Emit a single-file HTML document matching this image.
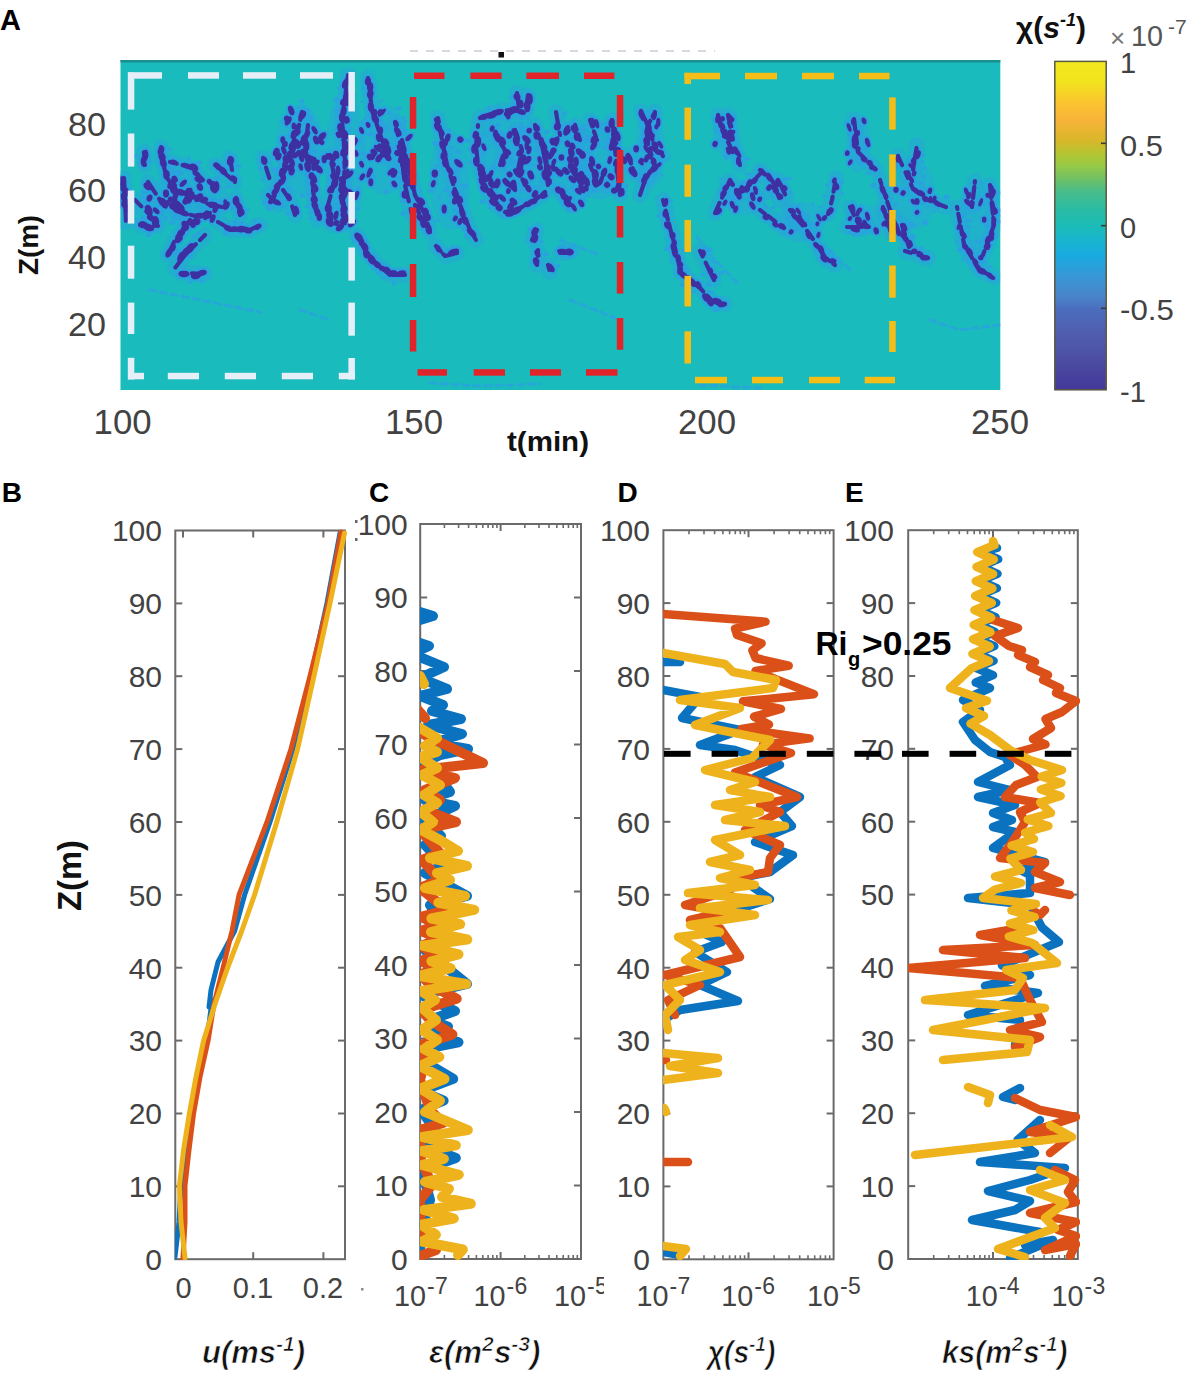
<!DOCTYPE html>
<html><head><meta charset="utf-8"><style>html,body{margin:0;padding:0;background:#fff;width:1197px;height:1376px;overflow:hidden;position:relative}</style></head><body>
<svg width="1197" height="1376" viewBox="0 0 1197 1376" style="position:absolute;left:0;top:0;font-family:'Liberation Sans', sans-serif">
<rect x="0" y="0" width="1197" height="1376" fill="#ffffff"/>
<rect x="120.5" y="60" width="879.8" height="330" fill="#1abbbc"/>
<rect x="120.5" y="60" width="879.8" height="2.5" fill="#1a8f8f"/>
<defs><clipPath id="clA"><rect x="120.5" y="62" width="879.8" height="328"/></clipPath></defs><g clip-path="url(#clA)"><ellipse cx="185" cy="200" rx="45" ry="25" fill="#2aa2e0" fill-opacity="0.4"/>
<ellipse cx="300" cy="150" rx="25" ry="45" fill="#2aa2e0" fill-opacity="0.4"/>
<ellipse cx="345" cy="160" rx="20" ry="70" fill="#2aa2e0" fill-opacity="0.4"/>
<ellipse cx="385" cy="150" rx="25" ry="45" fill="#2aa2e0" fill-opacity="0.4"/>
<ellipse cx="450" cy="180" rx="20" ry="50" fill="#2aa2e0" fill-opacity="0.4"/>
<ellipse cx="510" cy="160" rx="35" ry="50" fill="#2aa2e0" fill-opacity="0.4"/>
<ellipse cx="570" cy="165" rx="22" ry="45" fill="#2aa2e0" fill-opacity="0.4"/>
<ellipse cx="600" cy="160" rx="25" ry="40" fill="#2aa2e0" fill-opacity="0.4"/>
<ellipse cx="650" cy="150" rx="15" ry="40" fill="#2aa2e0" fill-opacity="0.4"/>
<ellipse cx="725" cy="135" rx="12" ry="22" fill="#2aa2e0" fill-opacity="0.4"/>
<ellipse cx="745" cy="200" rx="22" ry="15" fill="#2aa2e0" fill-opacity="0.4"/>
<ellipse cx="800" cy="222" rx="25" ry="20" fill="#2aa2e0" fill-opacity="0.4"/>
<ellipse cx="858" cy="145" rx="12" ry="28" fill="#2aa2e0" fill-opacity="0.4"/>
<ellipse cx="865" cy="220" rx="20" ry="15" fill="#2aa2e0" fill-opacity="0.4"/>
<ellipse cx="915" cy="195" rx="20" ry="35" fill="#2aa2e0" fill-opacity="0.4"/>
<ellipse cx="975" cy="225" rx="18" ry="45" fill="#2aa2e0" fill-opacity="0.4"/>
<polyline points="161.0,147.0 162.0,160.0 167.0,178.0 178.0,192.0 195.0,197.0 210.0,205.0 222.0,207.0" fill="none" stroke="#2aa2e0" stroke-width="16" stroke-opacity="0.42" stroke-linecap="round" stroke-linejoin="round"/>
<polyline points="170.0,162.0 190.0,167.0 203.0,180.0" fill="none" stroke="#2aa2e0" stroke-width="16" stroke-opacity="0.42" stroke-linecap="round" stroke-linejoin="round"/>
<polyline points="148.0,182.0 160.0,200.0 180.0,212.0 195.0,216.0 210.0,213.0" fill="none" stroke="#2aa2e0" stroke-width="16" stroke-opacity="0.42" stroke-linecap="round" stroke-linejoin="round"/>
<polyline points="190.0,220.0 175.0,240.0 168.0,255.0" fill="none" stroke="#2aa2e0" stroke-width="16" stroke-opacity="0.42" stroke-linecap="round" stroke-linejoin="round"/>
<polyline points="205.0,235.0 185.0,255.0 175.0,268.0" fill="none" stroke="#2aa2e0" stroke-width="16" stroke-opacity="0.42" stroke-linecap="round" stroke-linejoin="round"/>
<polyline points="181.0,273.0 205.0,274.0" fill="none" stroke="#2aa2e0" stroke-width="16" stroke-opacity="0.42" stroke-linecap="round" stroke-linejoin="round"/>
<polyline points="124.0,178.0 125.0,200.0 126.0,222.0" fill="none" stroke="#2aa2e0" stroke-width="16" stroke-opacity="0.42" stroke-linecap="round" stroke-linejoin="round"/>
<polyline points="144.0,152.0 145.0,165.0" fill="none" stroke="#2aa2e0" stroke-width="16" stroke-opacity="0.42" stroke-linecap="round" stroke-linejoin="round"/>
<polyline points="135.0,200.0 150.0,215.0 155.0,225.0" fill="none" stroke="#2aa2e0" stroke-width="16" stroke-opacity="0.42" stroke-linecap="round" stroke-linejoin="round"/>
<polyline points="140.0,225.0 158.0,226.0" fill="none" stroke="#2aa2e0" stroke-width="16" stroke-opacity="0.42" stroke-linecap="round" stroke-linejoin="round"/>
<polyline points="215.0,165.0 235.0,182.0" fill="none" stroke="#2aa2e0" stroke-width="16" stroke-opacity="0.42" stroke-linecap="round" stroke-linejoin="round"/>
<polyline points="230.0,158.0 232.0,170.0" fill="none" stroke="#2aa2e0" stroke-width="16" stroke-opacity="0.42" stroke-linecap="round" stroke-linejoin="round"/>
<polyline points="218.0,222.0 232.0,230.0 250.0,230.0 260.0,225.0" fill="none" stroke="#2aa2e0" stroke-width="16" stroke-opacity="0.42" stroke-linecap="round" stroke-linejoin="round"/>
<polyline points="236.0,198.0 240.0,215.0" fill="none" stroke="#2aa2e0" stroke-width="16" stroke-opacity="0.42" stroke-linecap="round" stroke-linejoin="round"/>
<polyline points="263.0,158.0 270.0,180.0" fill="none" stroke="#2aa2e0" stroke-width="16" stroke-opacity="0.42" stroke-linecap="round" stroke-linejoin="round"/>
<polyline points="268.0,195.0 278.0,205.0" fill="none" stroke="#2aa2e0" stroke-width="16" stroke-opacity="0.42" stroke-linecap="round" stroke-linejoin="round"/>
<polyline points="302.0,112.0 298.0,130.0 290.0,150.0 285.0,170.0 275.0,195.0 270.0,202.0" fill="none" stroke="#2aa2e0" stroke-width="16" stroke-opacity="0.42" stroke-linecap="round" stroke-linejoin="round"/>
<polyline points="308.0,125.0 305.0,150.0 310.0,170.0" fill="none" stroke="#2aa2e0" stroke-width="16" stroke-opacity="0.42" stroke-linecap="round" stroke-linejoin="round"/>
<polyline points="315.0,155.0 312.0,185.0 318.0,220.0" fill="none" stroke="#2aa2e0" stroke-width="16" stroke-opacity="0.42" stroke-linecap="round" stroke-linejoin="round"/>
<polyline points="330.0,155.0 335.0,180.0 328.0,205.0 332.0,225.0" fill="none" stroke="#2aa2e0" stroke-width="16" stroke-opacity="0.42" stroke-linecap="round" stroke-linejoin="round"/>
<polyline points="348.0,75.0 342.0,120.0 345.0,160.0 343.0,200.0 345.0,225.0" fill="none" stroke="#2aa2e0" stroke-width="16" stroke-opacity="0.42" stroke-linecap="round" stroke-linejoin="round"/>
<polyline points="368.0,78.0 372.0,110.0 382.0,140.0 390.0,160.0" fill="none" stroke="#2aa2e0" stroke-width="16" stroke-opacity="0.42" stroke-linecap="round" stroke-linejoin="round"/>
<polyline points="395.0,122.0 398.0,135.0" fill="none" stroke="#2aa2e0" stroke-width="16" stroke-opacity="0.42" stroke-linecap="round" stroke-linejoin="round"/>
<polyline points="400.0,145.0 405.0,185.0 412.0,215.0" fill="none" stroke="#2aa2e0" stroke-width="16" stroke-opacity="0.42" stroke-linecap="round" stroke-linejoin="round"/>
<polyline points="415.0,205.0 425.0,225.0" fill="none" stroke="#2aa2e0" stroke-width="16" stroke-opacity="0.42" stroke-linecap="round" stroke-linejoin="round"/>
<polyline points="357.0,235.0 365.0,250.0 375.0,262.0 390.0,275.0 405.0,275.0" fill="none" stroke="#2aa2e0" stroke-width="16" stroke-opacity="0.42" stroke-linecap="round" stroke-linejoin="round"/>
<polyline points="283.0,190.0 290.0,200.0 295.0,215.0" fill="none" stroke="#2aa2e0" stroke-width="16" stroke-opacity="0.42" stroke-linecap="round" stroke-linejoin="round"/>
<polyline points="480.0,118.0 495.0,112.0 510.0,110.0 525.0,112.0" fill="none" stroke="#2aa2e0" stroke-width="16" stroke-opacity="0.42" stroke-linecap="round" stroke-linejoin="round"/>
<polyline points="478.0,125.0 476.0,145.0 478.0,165.0 485.0,185.0 492.0,200.0 502.0,210.0" fill="none" stroke="#2aa2e0" stroke-width="16" stroke-opacity="0.42" stroke-linecap="round" stroke-linejoin="round"/>
<polyline points="505.0,212.0 520.0,208.0 535.0,200.0 545.0,192.0" fill="none" stroke="#2aa2e0" stroke-width="16" stroke-opacity="0.42" stroke-linecap="round" stroke-linejoin="round"/>
<polyline points="535.0,125.0 542.0,145.0 546.0,165.0 548.0,185.0" fill="none" stroke="#2aa2e0" stroke-width="16" stroke-opacity="0.42" stroke-linecap="round" stroke-linejoin="round"/>
<polyline points="495.0,135.0 505.0,150.0 500.0,165.0" fill="none" stroke="#2aa2e0" stroke-width="16" stroke-opacity="0.42" stroke-linecap="round" stroke-linejoin="round"/>
<polyline points="515.0,130.0 522.0,150.0 518.0,170.0 525.0,185.0" fill="none" stroke="#2aa2e0" stroke-width="16" stroke-opacity="0.42" stroke-linecap="round" stroke-linejoin="round"/>
<polyline points="505.0,180.0 515.0,190.0" fill="none" stroke="#2aa2e0" stroke-width="16" stroke-opacity="0.42" stroke-linecap="round" stroke-linejoin="round"/>
<polyline points="517.0,93.0 519.0,108.0" fill="none" stroke="#2aa2e0" stroke-width="16" stroke-opacity="0.42" stroke-linecap="round" stroke-linejoin="round"/>
<polyline points="528.0,95.0 526.0,110.0" fill="none" stroke="#2aa2e0" stroke-width="16" stroke-opacity="0.42" stroke-linecap="round" stroke-linejoin="round"/>
<polyline points="438.0,118.0 442.0,140.0 447.0,165.0 455.0,190.0 462.0,210.0 470.0,230.0 476.0,240.0" fill="none" stroke="#2aa2e0" stroke-width="16" stroke-opacity="0.42" stroke-linecap="round" stroke-linejoin="round"/>
<polyline points="402.0,140.0 408.0,165.0 415.0,195.0 425.0,215.0 430.0,232.0" fill="none" stroke="#2aa2e0" stroke-width="16" stroke-opacity="0.42" stroke-linecap="round" stroke-linejoin="round"/>
<polyline points="436.0,246.0 445.0,256.0 457.0,253.0" fill="none" stroke="#2aa2e0" stroke-width="16" stroke-opacity="0.42" stroke-linecap="round" stroke-linejoin="round"/>
<polyline points="537.0,230.0 532.0,240.0" fill="none" stroke="#2aa2e0" stroke-width="16" stroke-opacity="0.42" stroke-linecap="round" stroke-linejoin="round"/>
<polyline points="538.0,250.0 537.0,265.0" fill="none" stroke="#2aa2e0" stroke-width="16" stroke-opacity="0.42" stroke-linecap="round" stroke-linejoin="round"/>
<polyline points="560.0,253.0 572.0,251.0" fill="none" stroke="#2aa2e0" stroke-width="16" stroke-opacity="0.42" stroke-linecap="round" stroke-linejoin="round"/>
<polyline points="548.0,265.0 550.0,272.0" fill="none" stroke="#2aa2e0" stroke-width="16" stroke-opacity="0.42" stroke-linecap="round" stroke-linejoin="round"/>
<polyline points="556.0,112.0 560.0,135.0" fill="none" stroke="#2aa2e0" stroke-width="16" stroke-opacity="0.42" stroke-linecap="round" stroke-linejoin="round"/>
<polyline points="570.0,150.0 575.0,175.0 585.0,190.0" fill="none" stroke="#2aa2e0" stroke-width="16" stroke-opacity="0.42" stroke-linecap="round" stroke-linejoin="round"/>
<polyline points="590.0,120.0 597.0,140.0" fill="none" stroke="#2aa2e0" stroke-width="16" stroke-opacity="0.42" stroke-linecap="round" stroke-linejoin="round"/>
<polyline points="560.0,190.0 570.0,205.0" fill="none" stroke="#2aa2e0" stroke-width="16" stroke-opacity="0.42" stroke-linecap="round" stroke-linejoin="round"/>
<polyline points="575.0,125.0 580.0,140.0" fill="none" stroke="#2aa2e0" stroke-width="16" stroke-opacity="0.42" stroke-linecap="round" stroke-linejoin="round"/>
<polyline points="590.0,165.0 598.0,185.0" fill="none" stroke="#2aa2e0" stroke-width="16" stroke-opacity="0.42" stroke-linecap="round" stroke-linejoin="round"/>
<polyline points="628.0,155.0 635.0,175.0" fill="none" stroke="#2aa2e0" stroke-width="16" stroke-opacity="0.42" stroke-linecap="round" stroke-linejoin="round"/>
<polyline points="612.0,120.0 615.0,150.0 620.0,195.0" fill="none" stroke="#2aa2e0" stroke-width="16" stroke-opacity="0.42" stroke-linecap="round" stroke-linejoin="round"/>
<polyline points="641.0,111.0 650.0,130.0 655.0,150.0 663.0,156.0" fill="none" stroke="#2aa2e0" stroke-width="16" stroke-opacity="0.42" stroke-linecap="round" stroke-linejoin="round"/>
<polyline points="655.0,112.0 648.0,125.0 648.0,145.0 655.0,165.0 645.0,180.0 640.0,195.0" fill="none" stroke="#2aa2e0" stroke-width="16" stroke-opacity="0.42" stroke-linecap="round" stroke-linejoin="round"/>
<polyline points="663.0,200.0 674.0,244.0 681.0,273.0 700.0,288.0 714.0,303.0 725.0,304.0" fill="none" stroke="#2aa2e0" stroke-width="16" stroke-opacity="0.42" stroke-linecap="round" stroke-linejoin="round"/>
<polyline points="700.0,251.0 714.0,280.0" fill="none" stroke="#2aa2e0" stroke-width="16" stroke-opacity="0.42" stroke-linecap="round" stroke-linejoin="round"/>
<polyline points="718.0,115.0 722.0,130.0 733.0,152.0" fill="none" stroke="#2aa2e0" stroke-width="16" stroke-opacity="0.42" stroke-linecap="round" stroke-linejoin="round"/>
<polyline points="728.0,115.0 733.0,140.0" fill="none" stroke="#2aa2e0" stroke-width="16" stroke-opacity="0.42" stroke-linecap="round" stroke-linejoin="round"/>
<polyline points="736.0,150.0 740.0,165.0" fill="none" stroke="#2aa2e0" stroke-width="16" stroke-opacity="0.42" stroke-linecap="round" stroke-linejoin="round"/>
<polyline points="715.0,213.0 730.0,180.0 739.0,195.0 748.0,186.0 760.0,174.0" fill="none" stroke="#2aa2e0" stroke-width="16" stroke-opacity="0.42" stroke-linecap="round" stroke-linejoin="round"/>
<polyline points="769.0,192.0 778.0,180.0 787.0,198.0" fill="none" stroke="#2aa2e0" stroke-width="16" stroke-opacity="0.42" stroke-linecap="round" stroke-linejoin="round"/>
<polyline points="760.0,210.0 784.0,228.0" fill="none" stroke="#2aa2e0" stroke-width="16" stroke-opacity="0.42" stroke-linecap="round" stroke-linejoin="round"/>
<polyline points="790.0,210.0 808.0,232.0 826.0,258.0" fill="none" stroke="#2aa2e0" stroke-width="16" stroke-opacity="0.42" stroke-linecap="round" stroke-linejoin="round"/>
<polyline points="880.0,180.0 890.0,210.0 899.0,234.0" fill="none" stroke="#2aa2e0" stroke-width="16" stroke-opacity="0.42" stroke-linecap="round" stroke-linejoin="round"/>
<polyline points="828.0,214.0 832.0,200.0 836.0,178.0" fill="none" stroke="#2aa2e0" stroke-width="16" stroke-opacity="0.42" stroke-linecap="round" stroke-linejoin="round"/>
<polyline points="850.0,207.0 861.0,229.0" fill="none" stroke="#2aa2e0" stroke-width="16" stroke-opacity="0.42" stroke-linecap="round" stroke-linejoin="round"/>
<polyline points="847.0,227.0 869.0,227.0" fill="none" stroke="#2aa2e0" stroke-width="16" stroke-opacity="0.42" stroke-linecap="round" stroke-linejoin="round"/>
<polyline points="854.0,119.0 858.0,152.0 876.0,170.0" fill="none" stroke="#2aa2e0" stroke-width="16" stroke-opacity="0.42" stroke-linecap="round" stroke-linejoin="round"/>
<polyline points="883.0,207.0 891.0,233.0" fill="none" stroke="#2aa2e0" stroke-width="16" stroke-opacity="0.42" stroke-linecap="round" stroke-linejoin="round"/>
<polyline points="898.0,156.0 913.0,189.0 928.0,200.0 946.0,207.0" fill="none" stroke="#2aa2e0" stroke-width="16" stroke-opacity="0.42" stroke-linecap="round" stroke-linejoin="round"/>
<polyline points="917.0,145.0 913.0,170.0" fill="none" stroke="#2aa2e0" stroke-width="16" stroke-opacity="0.42" stroke-linecap="round" stroke-linejoin="round"/>
<polyline points="902.0,225.0 909.0,247.0" fill="none" stroke="#2aa2e0" stroke-width="16" stroke-opacity="0.42" stroke-linecap="round" stroke-linejoin="round"/>
<polyline points="957.0,207.0 964.0,244.0 979.0,270.0 994.0,277.0" fill="none" stroke="#2aa2e0" stroke-width="16" stroke-opacity="0.42" stroke-linecap="round" stroke-linejoin="round"/>
<polyline points="975.0,181.0 972.0,207.0" fill="none" stroke="#2aa2e0" stroke-width="16" stroke-opacity="0.42" stroke-linecap="round" stroke-linejoin="round"/>
<polyline points="990.0,185.0 994.0,225.0 983.0,255.0" fill="none" stroke="#2aa2e0" stroke-width="16" stroke-opacity="0.42" stroke-linecap="round" stroke-linejoin="round"/>
<polyline points="905.0,251.0 928.0,258.0" fill="none" stroke="#2aa2e0" stroke-width="16" stroke-opacity="0.42" stroke-linecap="round" stroke-linejoin="round"/>
<polyline points="760.0,170.0 772.0,180.0 780.0,200.0" fill="none" stroke="#2aa2e0" stroke-width="16" stroke-opacity="0.42" stroke-linecap="round" stroke-linejoin="round"/>
<polyline points="793.0,215.0 805.0,225.0" fill="none" stroke="#2aa2e0" stroke-width="16" stroke-opacity="0.42" stroke-linecap="round" stroke-linejoin="round"/>
<polyline points="822.0,255.0 835.0,265.0" fill="none" stroke="#2aa2e0" stroke-width="16" stroke-opacity="0.42" stroke-linecap="round" stroke-linejoin="round"/>
<polyline points="697.0,237.0 715.0,260.0 739.0,285.0" fill="none" stroke="#2aa2e0" stroke-width="3" stroke-opacity="0.8" stroke-linecap="round" stroke-dasharray="6 5"/>
<polyline points="150.0,290.0 200.0,300.0 260.0,312.0" fill="none" stroke="#2aa2e0" stroke-width="3" stroke-opacity="0.8" stroke-linecap="round" stroke-dasharray="6 5"/>
<polyline points="560.0,240.0 600.0,255.0" fill="none" stroke="#2aa2e0" stroke-width="3" stroke-opacity="0.8" stroke-linecap="round" stroke-dasharray="6 5"/>
<polyline points="430.0,383.0 480.0,386.0 540.0,384.0" fill="none" stroke="#2aa2e0" stroke-width="3" stroke-opacity="0.8" stroke-linecap="round" stroke-dasharray="6 5"/>
<polyline points="930.0,320.0 960.0,330.0 1000.0,325.0" fill="none" stroke="#2aa2e0" stroke-width="3" stroke-opacity="0.8" stroke-linecap="round" stroke-dasharray="6 5"/>
<polyline points="700.0,385.0 760.0,388.0" fill="none" stroke="#2aa2e0" stroke-width="3" stroke-opacity="0.8" stroke-linecap="round" stroke-dasharray="6 5"/>
<polyline points="300.0,310.0 330.0,320.0" fill="none" stroke="#2aa2e0" stroke-width="3" stroke-opacity="0.8" stroke-linecap="round" stroke-dasharray="6 5"/>
<polyline points="830.0,250.0 850.0,270.0" fill="none" stroke="#2aa2e0" stroke-width="3" stroke-opacity="0.8" stroke-linecap="round" stroke-dasharray="6 5"/>
<polyline points="570.0,300.0 620.0,320.0" fill="none" stroke="#2aa2e0" stroke-width="3" stroke-opacity="0.8" stroke-linecap="round" stroke-dasharray="6 5"/>
<ellipse cx="170.2" cy="149.6" rx="2.5" ry="2.0" fill="#2aa2e0" fill-opacity="1"/>
<ellipse cx="170.2" cy="167.4" rx="2.0" ry="1.2" fill="#2aa2e0" fill-opacity="1"/>
<ellipse cx="173.2" cy="173.0" rx="2.1" ry="2.5" fill="#2aa2e0" fill-opacity="1"/>
<ellipse cx="183.7" cy="183.7" rx="1.6" ry="1.7" fill="#2aa2e0" fill-opacity="1"/>
<ellipse cx="179.0" cy="199.2" rx="3.4" ry="2.2" fill="#2aa2e0" fill-opacity="1"/>
<ellipse cx="188.5" cy="187.6" rx="1.9" ry="2.2" fill="#2aa2e0" fill-opacity="1"/>
<ellipse cx="189.3" cy="205.8" rx="1.5" ry="1.4" fill="#2aa2e0" fill-opacity="1"/>
<ellipse cx="210.1" cy="198.9" rx="2.7" ry="1.5" fill="#2aa2e0" fill-opacity="1"/>
<ellipse cx="212.0" cy="211.3" rx="1.8" ry="2.4" fill="#2aa2e0" fill-opacity="1"/>
<ellipse cx="220.0" cy="200.8" rx="2.8" ry="1.9" fill="#2aa2e0" fill-opacity="1"/>
<ellipse cx="171.8" cy="168.8" rx="2.9" ry="1.5" fill="#2aa2e0" fill-opacity="1"/>
<ellipse cx="178.2" cy="171.9" rx="3.4" ry="2.5" fill="#2aa2e0" fill-opacity="1"/>
<ellipse cx="188.8" cy="157.7" rx="1.6" ry="1.7" fill="#2aa2e0" fill-opacity="1"/>
<ellipse cx="198.9" cy="162.5" rx="3.5" ry="2.1" fill="#2aa2e0" fill-opacity="1"/>
<ellipse cx="164.0" cy="210.4" rx="1.5" ry="1.3" fill="#2aa2e0" fill-opacity="1"/>
<ellipse cx="173.4" cy="217.4" rx="2.5" ry="1.5" fill="#2aa2e0" fill-opacity="1"/>
<ellipse cx="182.3" cy="218.5" rx="2.7" ry="1.9" fill="#2aa2e0" fill-opacity="1"/>
<ellipse cx="189.3" cy="222.2" rx="2.0" ry="1.7" fill="#2aa2e0" fill-opacity="1"/>
<ellipse cx="197.2" cy="207.5" rx="2.1" ry="1.4" fill="#2aa2e0" fill-opacity="1"/>
<ellipse cx="205.2" cy="208.3" rx="2.4" ry="2.4" fill="#2aa2e0" fill-opacity="1"/>
<ellipse cx="181.4" cy="217.5" rx="2.9" ry="2.3" fill="#2aa2e0" fill-opacity="1"/>
<ellipse cx="184.7" cy="235.6" rx="3.2" ry="1.5" fill="#2aa2e0" fill-opacity="1"/>
<ellipse cx="176.8" cy="250.0" rx="2.0" ry="1.6" fill="#2aa2e0" fill-opacity="1"/>
<ellipse cx="199.0" cy="233.0" rx="2.4" ry="2.0" fill="#2aa2e0" fill-opacity="1"/>
<ellipse cx="193.8" cy="235.8" rx="2.8" ry="1.5" fill="#2aa2e0" fill-opacity="1"/>
<ellipse cx="190.7" cy="256.7" rx="2.2" ry="1.7" fill="#2aa2e0" fill-opacity="1"/>
<ellipse cx="175.8" cy="253.1" rx="3.3" ry="1.8" fill="#2aa2e0" fill-opacity="1"/>
<ellipse cx="189.6" cy="282.5" rx="2.6" ry="1.4" fill="#2aa2e0" fill-opacity="1"/>
<ellipse cx="201.7" cy="281.5" rx="2.5" ry="2.0" fill="#2aa2e0" fill-opacity="1"/>
<ellipse cx="118.7" cy="181.0" rx="1.8" ry="2.4" fill="#2aa2e0" fill-opacity="1"/>
<ellipse cx="117.2" cy="186.6" rx="3.1" ry="2.4" fill="#2aa2e0" fill-opacity="1"/>
<ellipse cx="129.8" cy="191.5" rx="1.8" ry="1.2" fill="#2aa2e0" fill-opacity="1"/>
<ellipse cx="116.3" cy="197.6" rx="2.9" ry="2.3" fill="#2aa2e0" fill-opacity="1"/>
<ellipse cx="115.9" cy="208.7" rx="2.1" ry="1.6" fill="#2aa2e0" fill-opacity="1"/>
<ellipse cx="135.1" cy="213.3" rx="1.8" ry="1.5" fill="#2aa2e0" fill-opacity="1"/>
<ellipse cx="133.0" cy="218.9" rx="3.4" ry="1.9" fill="#2aa2e0" fill-opacity="1"/>
<ellipse cx="134.7" cy="156.0" rx="3.4" ry="1.4" fill="#2aa2e0" fill-opacity="1"/>
<ellipse cx="149.9" cy="161.4" rx="3.0" ry="2.0" fill="#2aa2e0" fill-opacity="1"/>
<ellipse cx="141.7" cy="198.3" rx="1.9" ry="2.3" fill="#2aa2e0" fill-opacity="1"/>
<ellipse cx="142.5" cy="217.5" rx="2.2" ry="1.5" fill="#2aa2e0" fill-opacity="1"/>
<ellipse cx="145.0" cy="220.6" rx="1.9" ry="1.4" fill="#2aa2e0" fill-opacity="1"/>
<ellipse cx="148.5" cy="234.9" rx="2.9" ry="2.2" fill="#2aa2e0" fill-opacity="1"/>
<ellipse cx="155.3" cy="220.5" rx="2.2" ry="1.8" fill="#2aa2e0" fill-opacity="1"/>
<ellipse cx="217.2" cy="177.6" rx="2.9" ry="2.2" fill="#2aa2e0" fill-opacity="1"/>
<ellipse cx="233.1" cy="169.0" rx="2.0" ry="1.7" fill="#2aa2e0" fill-opacity="1"/>
<ellipse cx="238.3" cy="165.9" rx="3.4" ry="1.7" fill="#2aa2e0" fill-opacity="1"/>
<ellipse cx="225.1" cy="233.9" rx="2.1" ry="2.1" fill="#2aa2e0" fill-opacity="1"/>
<ellipse cx="235.0" cy="221.8" rx="2.3" ry="2.1" fill="#2aa2e0" fill-opacity="1"/>
<ellipse cx="241.0" cy="222.9" rx="2.5" ry="2.5" fill="#2aa2e0" fill-opacity="1"/>
<ellipse cx="254.5" cy="220.2" rx="1.8" ry="1.7" fill="#2aa2e0" fill-opacity="1"/>
<ellipse cx="231.8" cy="208.0" rx="2.7" ry="2.1" fill="#2aa2e0" fill-opacity="1"/>
<ellipse cx="248.5" cy="210.0" rx="1.6" ry="1.3" fill="#2aa2e0" fill-opacity="1"/>
<ellipse cx="273.0" cy="157.9" rx="1.8" ry="1.5" fill="#2aa2e0" fill-opacity="1"/>
<ellipse cx="259.9" cy="168.1" rx="2.2" ry="2.2" fill="#2aa2e0" fill-opacity="1"/>
<ellipse cx="274.3" cy="169.6" rx="3.1" ry="2.3" fill="#2aa2e0" fill-opacity="1"/>
<ellipse cx="262.5" cy="179.4" rx="1.8" ry="1.4" fill="#2aa2e0" fill-opacity="1"/>
<ellipse cx="265.0" cy="203.0" rx="3.0" ry="2.4" fill="#2aa2e0" fill-opacity="1"/>
<ellipse cx="269.1" cy="208.9" rx="2.4" ry="2.3" fill="#2aa2e0" fill-opacity="1"/>
<ellipse cx="295.1" cy="113.6" rx="1.8" ry="1.7" fill="#2aa2e0" fill-opacity="1"/>
<ellipse cx="306.5" cy="122.4" rx="2.4" ry="2.0" fill="#2aa2e0" fill-opacity="1"/>
<ellipse cx="300.3" cy="142.5" rx="2.2" ry="1.7" fill="#2aa2e0" fill-opacity="1"/>
<ellipse cx="296.8" cy="148.9" rx="3.0" ry="2.3" fill="#2aa2e0" fill-opacity="1"/>
<ellipse cx="293.7" cy="161.5" rx="1.7" ry="1.6" fill="#2aa2e0" fill-opacity="1"/>
<ellipse cx="287.5" cy="189.1" rx="3.4" ry="2.0" fill="#2aa2e0" fill-opacity="1"/>
<ellipse cx="285.5" cy="195.6" rx="2.3" ry="1.4" fill="#2aa2e0" fill-opacity="1"/>
<ellipse cx="277.8" cy="202.3" rx="1.8" ry="2.4" fill="#2aa2e0" fill-opacity="1"/>
<ellipse cx="314.8" cy="135.3" rx="2.4" ry="1.9" fill="#2aa2e0" fill-opacity="1"/>
<ellipse cx="298.0" cy="146.0" rx="2.3" ry="2.4" fill="#2aa2e0" fill-opacity="1"/>
<ellipse cx="314.6" cy="151.1" rx="2.3" ry="1.9" fill="#2aa2e0" fill-opacity="1"/>
<ellipse cx="298.3" cy="162.3" rx="2.4" ry="1.5" fill="#2aa2e0" fill-opacity="1"/>
<ellipse cx="307.2" cy="157.2" rx="1.6" ry="1.9" fill="#2aa2e0" fill-opacity="1"/>
<ellipse cx="323.5" cy="164.9" rx="2.9" ry="1.3" fill="#2aa2e0" fill-opacity="1"/>
<ellipse cx="308.4" cy="169.5" rx="1.9" ry="1.5" fill="#2aa2e0" fill-opacity="1"/>
<ellipse cx="306.4" cy="175.3" rx="2.3" ry="1.9" fill="#2aa2e0" fill-opacity="1"/>
<ellipse cx="308.5" cy="194.6" rx="2.3" ry="2.1" fill="#2aa2e0" fill-opacity="1"/>
<ellipse cx="306.9" cy="206.9" rx="2.6" ry="1.3" fill="#2aa2e0" fill-opacity="1"/>
<ellipse cx="309.4" cy="212.5" rx="2.3" ry="1.3" fill="#2aa2e0" fill-opacity="1"/>
<ellipse cx="309.7" cy="218.4" rx="1.7" ry="1.5" fill="#2aa2e0" fill-opacity="1"/>
<ellipse cx="338.7" cy="156.5" rx="3.0" ry="2.3" fill="#2aa2e0" fill-opacity="1"/>
<ellipse cx="340.0" cy="191.5" rx="1.9" ry="2.4" fill="#2aa2e0" fill-opacity="1"/>
<ellipse cx="336.7" cy="204.1" rx="1.9" ry="1.3" fill="#2aa2e0" fill-opacity="1"/>
<ellipse cx="319.4" cy="210.2" rx="2.4" ry="2.1" fill="#2aa2e0" fill-opacity="1"/>
<ellipse cx="322.1" cy="216.6" rx="1.7" ry="2.3" fill="#2aa2e0" fill-opacity="1"/>
<ellipse cx="338.5" cy="220.2" rx="2.3" ry="2.2" fill="#2aa2e0" fill-opacity="1"/>
<ellipse cx="338.8" cy="88.1" rx="1.8" ry="1.7" fill="#2aa2e0" fill-opacity="1"/>
<ellipse cx="353.9" cy="95.8" rx="3.1" ry="1.7" fill="#2aa2e0" fill-opacity="1"/>
<ellipse cx="335.9" cy="99.2" rx="2.5" ry="2.5" fill="#2aa2e0" fill-opacity="1"/>
<ellipse cx="336.1" cy="110.6" rx="1.5" ry="2.4" fill="#2aa2e0" fill-opacity="1"/>
<ellipse cx="350.3" cy="128.0" rx="2.0" ry="1.6" fill="#2aa2e0" fill-opacity="1"/>
<ellipse cx="349.6" cy="139.5" rx="3.0" ry="1.9" fill="#2aa2e0" fill-opacity="1"/>
<ellipse cx="349.5" cy="145.3" rx="2.6" ry="2.4" fill="#2aa2e0" fill-opacity="1"/>
<ellipse cx="336.3" cy="157.8" rx="2.0" ry="1.6" fill="#2aa2e0" fill-opacity="1"/>
<ellipse cx="350.5" cy="168.9" rx="3.2" ry="1.7" fill="#2aa2e0" fill-opacity="1"/>
<ellipse cx="334.7" cy="179.5" rx="2.9" ry="1.4" fill="#2aa2e0" fill-opacity="1"/>
<ellipse cx="350.1" cy="186.0" rx="2.9" ry="1.9" fill="#2aa2e0" fill-opacity="1"/>
<ellipse cx="334.0" cy="191.0" rx="1.9" ry="1.5" fill="#2aa2e0" fill-opacity="1"/>
<ellipse cx="348.2" cy="197.4" rx="2.7" ry="1.9" fill="#2aa2e0" fill-opacity="1"/>
<ellipse cx="349.2" cy="202.7" rx="3.3" ry="2.5" fill="#2aa2e0" fill-opacity="1"/>
<ellipse cx="349.1" cy="209.0" rx="3.1" ry="2.4" fill="#2aa2e0" fill-opacity="1"/>
<ellipse cx="362.9" cy="88.4" rx="1.9" ry="2.5" fill="#2aa2e0" fill-opacity="1"/>
<ellipse cx="361.6" cy="101.6" rx="1.6" ry="1.3" fill="#2aa2e0" fill-opacity="1"/>
<ellipse cx="366.4" cy="107.4" rx="2.1" ry="2.0" fill="#2aa2e0" fill-opacity="1"/>
<ellipse cx="367.1" cy="115.0" rx="2.5" ry="2.1" fill="#2aa2e0" fill-opacity="1"/>
<ellipse cx="382.4" cy="123.2" rx="2.4" ry="2.2" fill="#2aa2e0" fill-opacity="1"/>
<ellipse cx="369.8" cy="134.1" rx="3.4" ry="2.1" fill="#2aa2e0" fill-opacity="1"/>
<ellipse cx="392.8" cy="147.3" rx="2.3" ry="2.3" fill="#2aa2e0" fill-opacity="1"/>
<ellipse cx="395.5" cy="153.9" rx="2.3" ry="2.0" fill="#2aa2e0" fill-opacity="1"/>
<ellipse cx="386.0" cy="127.5" rx="2.9" ry="2.3" fill="#2aa2e0" fill-opacity="1"/>
<ellipse cx="404.7" cy="130.0" rx="3.0" ry="1.9" fill="#2aa2e0" fill-opacity="1"/>
<ellipse cx="409.6" cy="152.5" rx="3.3" ry="1.2" fill="#2aa2e0" fill-opacity="1"/>
<ellipse cx="407.6" cy="164.4" rx="2.1" ry="1.8" fill="#2aa2e0" fill-opacity="1"/>
<ellipse cx="397.8" cy="177.2" rx="2.1" ry="1.6" fill="#2aa2e0" fill-opacity="1"/>
<ellipse cx="415.0" cy="185.8" rx="1.9" ry="2.1" fill="#2aa2e0" fill-opacity="1"/>
<ellipse cx="401.6" cy="195.3" rx="2.5" ry="1.8" fill="#2aa2e0" fill-opacity="1"/>
<ellipse cx="402.6" cy="201.4" rx="3.4" ry="1.5" fill="#2aa2e0" fill-opacity="1"/>
<ellipse cx="417.3" cy="204.3" rx="3.0" ry="2.4" fill="#2aa2e0" fill-opacity="1"/>
<ellipse cx="403.0" cy="213.9" rx="2.6" ry="2.1" fill="#2aa2e0" fill-opacity="1"/>
<ellipse cx="408.0" cy="211.6" rx="2.1" ry="2.1" fill="#2aa2e0" fill-opacity="1"/>
<ellipse cx="424.8" cy="209.5" rx="3.3" ry="1.9" fill="#2aa2e0" fill-opacity="1"/>
<ellipse cx="353.8" cy="239.9" rx="1.8" ry="1.9" fill="#2aa2e0" fill-opacity="1"/>
<ellipse cx="366.4" cy="239.6" rx="1.5" ry="1.9" fill="#2aa2e0" fill-opacity="1"/>
<ellipse cx="373.4" cy="268.8" rx="2.0" ry="1.6" fill="#2aa2e0" fill-opacity="1"/>
<ellipse cx="378.9" cy="272.7" rx="2.4" ry="2.2" fill="#2aa2e0" fill-opacity="1"/>
<ellipse cx="383.4" cy="277.6" rx="2.8" ry="1.7" fill="#2aa2e0" fill-opacity="1"/>
<ellipse cx="393.8" cy="283.2" rx="1.8" ry="2.2" fill="#2aa2e0" fill-opacity="1"/>
<ellipse cx="289.9" cy="188.9" rx="2.0" ry="1.5" fill="#2aa2e0" fill-opacity="1"/>
<ellipse cx="283.0" cy="206.5" rx="3.5" ry="1.4" fill="#2aa2e0" fill-opacity="1"/>
<ellipse cx="287.9" cy="213.2" rx="2.9" ry="1.7" fill="#2aa2e0" fill-opacity="1"/>
<ellipse cx="488.8" cy="107.4" rx="1.5" ry="1.9" fill="#2aa2e0" fill-opacity="1"/>
<ellipse cx="499.8" cy="119.2" rx="1.8" ry="1.2" fill="#2aa2e0" fill-opacity="1"/>
<ellipse cx="514.7" cy="103.5" rx="3.1" ry="1.7" fill="#2aa2e0" fill-opacity="1"/>
<ellipse cx="485.3" cy="135.8" rx="2.0" ry="1.2" fill="#2aa2e0" fill-opacity="1"/>
<ellipse cx="467.3" cy="140.8" rx="3.1" ry="2.2" fill="#2aa2e0" fill-opacity="1"/>
<ellipse cx="469.4" cy="149.0" rx="2.9" ry="1.5" fill="#2aa2e0" fill-opacity="1"/>
<ellipse cx="483.1" cy="154.4" rx="2.3" ry="1.7" fill="#2aa2e0" fill-opacity="1"/>
<ellipse cx="469.7" cy="162.5" rx="2.0" ry="1.5" fill="#2aa2e0" fill-opacity="1"/>
<ellipse cx="484.6" cy="166.4" rx="2.2" ry="1.8" fill="#2aa2e0" fill-opacity="1"/>
<ellipse cx="481.3" cy="189.8" rx="2.3" ry="2.4" fill="#2aa2e0" fill-opacity="1"/>
<ellipse cx="482.3" cy="201.5" rx="3.2" ry="2.0" fill="#2aa2e0" fill-opacity="1"/>
<ellipse cx="489.5" cy="207.5" rx="2.3" ry="1.5" fill="#2aa2e0" fill-opacity="1"/>
<ellipse cx="505.1" cy="201.9" rx="3.4" ry="1.4" fill="#2aa2e0" fill-opacity="1"/>
<ellipse cx="513.9" cy="200.2" rx="3.1" ry="1.9" fill="#2aa2e0" fill-opacity="1"/>
<ellipse cx="518.5" cy="199.1" rx="2.0" ry="2.2" fill="#2aa2e0" fill-opacity="1"/>
<ellipse cx="536.5" cy="186.5" rx="3.4" ry="1.5" fill="#2aa2e0" fill-opacity="1"/>
<ellipse cx="531.1" cy="130.1" rx="3.5" ry="1.5" fill="#2aa2e0" fill-opacity="1"/>
<ellipse cx="547.1" cy="132.0" rx="2.9" ry="2.3" fill="#2aa2e0" fill-opacity="1"/>
<ellipse cx="537.2" cy="149.4" rx="3.4" ry="2.0" fill="#2aa2e0" fill-opacity="1"/>
<ellipse cx="535.3" cy="156.7" rx="1.9" ry="1.3" fill="#2aa2e0" fill-opacity="1"/>
<ellipse cx="551.9" cy="160.3" rx="2.9" ry="1.5" fill="#2aa2e0" fill-opacity="1"/>
<ellipse cx="553.8" cy="174.3" rx="2.2" ry="2.0" fill="#2aa2e0" fill-opacity="1"/>
<ellipse cx="542.0" cy="182.2" rx="3.3" ry="1.5" fill="#2aa2e0" fill-opacity="1"/>
<ellipse cx="502.7" cy="133.5" rx="1.9" ry="2.2" fill="#2aa2e0" fill-opacity="1"/>
<ellipse cx="510.7" cy="164.4" rx="1.6" ry="1.8" fill="#2aa2e0" fill-opacity="1"/>
<ellipse cx="523.3" cy="130.8" rx="1.7" ry="2.2" fill="#2aa2e0" fill-opacity="1"/>
<ellipse cx="527.6" cy="144.3" rx="1.8" ry="1.7" fill="#2aa2e0" fill-opacity="1"/>
<ellipse cx="530.0" cy="155.1" rx="1.7" ry="2.5" fill="#2aa2e0" fill-opacity="1"/>
<ellipse cx="511.3" cy="158.3" rx="2.0" ry="1.7" fill="#2aa2e0" fill-opacity="1"/>
<ellipse cx="525.6" cy="169.5" rx="1.5" ry="1.4" fill="#2aa2e0" fill-opacity="1"/>
<ellipse cx="530.1" cy="179.6" rx="2.1" ry="1.5" fill="#2aa2e0" fill-opacity="1"/>
<ellipse cx="510.9" cy="97.6" rx="1.7" ry="1.6" fill="#2aa2e0" fill-opacity="1"/>
<ellipse cx="534.3" cy="99.7" rx="2.7" ry="1.3" fill="#2aa2e0" fill-opacity="1"/>
<ellipse cx="449.5" cy="130.1" rx="2.2" ry="1.6" fill="#2aa2e0" fill-opacity="1"/>
<ellipse cx="434.6" cy="144.7" rx="1.5" ry="2.4" fill="#2aa2e0" fill-opacity="1"/>
<ellipse cx="452.8" cy="147.6" rx="2.5" ry="1.6" fill="#2aa2e0" fill-opacity="1"/>
<ellipse cx="458.1" cy="171.8" rx="2.3" ry="2.1" fill="#2aa2e0" fill-opacity="1"/>
<ellipse cx="457.5" cy="178.9" rx="2.0" ry="1.7" fill="#2aa2e0" fill-opacity="1"/>
<ellipse cx="451.0" cy="195.2" rx="3.0" ry="1.4" fill="#2aa2e0" fill-opacity="1"/>
<ellipse cx="451.6" cy="202.4" rx="2.7" ry="1.8" fill="#2aa2e0" fill-opacity="1"/>
<ellipse cx="454.6" cy="208.9" rx="2.9" ry="1.5" fill="#2aa2e0" fill-opacity="1"/>
<ellipse cx="463.5" cy="228.7" rx="1.9" ry="2.0" fill="#2aa2e0" fill-opacity="1"/>
<ellipse cx="465.8" cy="235.9" rx="1.8" ry="2.4" fill="#2aa2e0" fill-opacity="1"/>
<ellipse cx="399.7" cy="163.7" rx="2.0" ry="1.3" fill="#2aa2e0" fill-opacity="1"/>
<ellipse cx="405.3" cy="187.8" rx="2.2" ry="1.5" fill="#2aa2e0" fill-opacity="1"/>
<ellipse cx="420.6" cy="190.5" rx="1.5" ry="2.4" fill="#2aa2e0" fill-opacity="1"/>
<ellipse cx="410.4" cy="200.4" rx="3.2" ry="1.3" fill="#2aa2e0" fill-opacity="1"/>
<ellipse cx="415.1" cy="216.8" rx="3.3" ry="1.3" fill="#2aa2e0" fill-opacity="1"/>
<ellipse cx="436.4" cy="220.9" rx="3.4" ry="1.2" fill="#2aa2e0" fill-opacity="1"/>
<ellipse cx="447.0" cy="249.7" rx="1.9" ry="2.0" fill="#2aa2e0" fill-opacity="1"/>
<ellipse cx="452.3" cy="246.9" rx="2.2" ry="1.7" fill="#2aa2e0" fill-opacity="1"/>
<ellipse cx="529.2" cy="229.2" rx="2.0" ry="2.3" fill="#2aa2e0" fill-opacity="1"/>
<ellipse cx="540.8" cy="241.3" rx="2.7" ry="2.0" fill="#2aa2e0" fill-opacity="1"/>
<ellipse cx="546.1" cy="254.3" rx="3.1" ry="1.9" fill="#2aa2e0" fill-opacity="1"/>
<ellipse cx="561.9" cy="245.9" rx="3.1" ry="1.7" fill="#2aa2e0" fill-opacity="1"/>
<ellipse cx="569.8" cy="256.6" rx="3.4" ry="1.8" fill="#2aa2e0" fill-opacity="1"/>
<ellipse cx="558.3" cy="265.8" rx="1.8" ry="2.1" fill="#2aa2e0" fill-opacity="1"/>
<ellipse cx="564.9" cy="113.4" rx="2.0" ry="2.3" fill="#2aa2e0" fill-opacity="1"/>
<ellipse cx="562.2" cy="161.3" rx="3.4" ry="2.1" fill="#2aa2e0" fill-opacity="1"/>
<ellipse cx="564.7" cy="173.8" rx="1.5" ry="2.2" fill="#2aa2e0" fill-opacity="1"/>
<ellipse cx="580.9" cy="174.7" rx="2.3" ry="2.4" fill="#2aa2e0" fill-opacity="1"/>
<ellipse cx="584.9" cy="125.5" rx="3.3" ry="1.5" fill="#2aa2e0" fill-opacity="1"/>
<ellipse cx="587.5" cy="139.6" rx="3.4" ry="1.6" fill="#2aa2e0" fill-opacity="1"/>
<ellipse cx="572.9" cy="199.5" rx="2.5" ry="1.8" fill="#2aa2e0" fill-opacity="1"/>
<ellipse cx="572.3" cy="138.4" rx="1.6" ry="1.3" fill="#2aa2e0" fill-opacity="1"/>
<ellipse cx="582.8" cy="171.8" rx="2.5" ry="1.6" fill="#2aa2e0" fill-opacity="1"/>
<ellipse cx="590.6" cy="184.1" rx="2.0" ry="2.4" fill="#2aa2e0" fill-opacity="1"/>
<ellipse cx="641.4" cy="169.0" rx="3.0" ry="1.5" fill="#2aa2e0" fill-opacity="1"/>
<ellipse cx="603.4" cy="123.9" rx="3.2" ry="1.9" fill="#2aa2e0" fill-opacity="1"/>
<ellipse cx="605.7" cy="141.8" rx="1.6" ry="1.5" fill="#2aa2e0" fill-opacity="1"/>
<ellipse cx="605.1" cy="148.0" rx="3.3" ry="1.6" fill="#2aa2e0" fill-opacity="1"/>
<ellipse cx="624.3" cy="168.9" rx="2.3" ry="1.6" fill="#2aa2e0" fill-opacity="1"/>
<ellipse cx="611.8" cy="176.0" rx="3.3" ry="2.2" fill="#2aa2e0" fill-opacity="1"/>
<ellipse cx="611.3" cy="181.7" rx="2.9" ry="2.2" fill="#2aa2e0" fill-opacity="1"/>
<ellipse cx="626.7" cy="185.7" rx="1.9" ry="2.2" fill="#2aa2e0" fill-opacity="1"/>
<ellipse cx="651.3" cy="110.0" rx="1.9" ry="1.5" fill="#2aa2e0" fill-opacity="1"/>
<ellipse cx="651.2" cy="117.8" rx="2.9" ry="1.8" fill="#2aa2e0" fill-opacity="1"/>
<ellipse cx="644.0" cy="135.0" rx="2.3" ry="2.2" fill="#2aa2e0" fill-opacity="1"/>
<ellipse cx="653.4" cy="160.5" rx="1.9" ry="1.2" fill="#2aa2e0" fill-opacity="1"/>
<ellipse cx="660.4" cy="119.1" rx="2.3" ry="1.6" fill="#2aa2e0" fill-opacity="1"/>
<ellipse cx="642.6" cy="117.9" rx="2.6" ry="2.1" fill="#2aa2e0" fill-opacity="1"/>
<ellipse cx="654.5" cy="128.3" rx="2.9" ry="2.4" fill="#2aa2e0" fill-opacity="1"/>
<ellipse cx="641.7" cy="141.7" rx="2.7" ry="1.5" fill="#2aa2e0" fill-opacity="1"/>
<ellipse cx="657.8" cy="145.3" rx="2.3" ry="2.0" fill="#2aa2e0" fill-opacity="1"/>
<ellipse cx="659.8" cy="159.6" rx="2.6" ry="1.9" fill="#2aa2e0" fill-opacity="1"/>
<ellipse cx="646.4" cy="162.9" rx="1.7" ry="1.3" fill="#2aa2e0" fill-opacity="1"/>
<ellipse cx="654.5" cy="175.5" rx="2.1" ry="2.1" fill="#2aa2e0" fill-opacity="1"/>
<ellipse cx="653.1" cy="181.8" rx="2.3" ry="1.7" fill="#2aa2e0" fill-opacity="1"/>
<ellipse cx="670.9" cy="200.9" rx="2.9" ry="1.2" fill="#2aa2e0" fill-opacity="1"/>
<ellipse cx="658.2" cy="215.8" rx="1.6" ry="2.4" fill="#2aa2e0" fill-opacity="1"/>
<ellipse cx="661.9" cy="220.7" rx="1.9" ry="2.0" fill="#2aa2e0" fill-opacity="1"/>
<ellipse cx="666.1" cy="249.0" rx="2.5" ry="1.9" fill="#2aa2e0" fill-opacity="1"/>
<ellipse cx="684.2" cy="250.7" rx="2.9" ry="1.6" fill="#2aa2e0" fill-opacity="1"/>
<ellipse cx="671.2" cy="260.0" rx="1.5" ry="1.7" fill="#2aa2e0" fill-opacity="1"/>
<ellipse cx="687.2" cy="268.4" rx="2.3" ry="1.9" fill="#2aa2e0" fill-opacity="1"/>
<ellipse cx="687.4" cy="269.8" rx="2.3" ry="2.0" fill="#2aa2e0" fill-opacity="1"/>
<ellipse cx="682.9" cy="285.3" rx="3.0" ry="1.8" fill="#2aa2e0" fill-opacity="1"/>
<ellipse cx="692.9" cy="292.1" rx="3.5" ry="1.3" fill="#2aa2e0" fill-opacity="1"/>
<ellipse cx="708.9" cy="284.4" rx="2.9" ry="2.2" fill="#2aa2e0" fill-opacity="1"/>
<ellipse cx="710.9" cy="291.9" rx="3.0" ry="1.5" fill="#2aa2e0" fill-opacity="1"/>
<ellipse cx="716.1" cy="309.9" rx="3.4" ry="1.9" fill="#2aa2e0" fill-opacity="1"/>
<ellipse cx="709.9" cy="249.8" rx="2.8" ry="2.5" fill="#2aa2e0" fill-opacity="1"/>
<ellipse cx="714.3" cy="262.0" rx="3.4" ry="1.3" fill="#2aa2e0" fill-opacity="1"/>
<ellipse cx="702.3" cy="274.9" rx="1.6" ry="2.0" fill="#2aa2e0" fill-opacity="1"/>
<ellipse cx="721.5" cy="272.8" rx="2.8" ry="2.0" fill="#2aa2e0" fill-opacity="1"/>
<ellipse cx="713.9" cy="120.1" rx="1.6" ry="2.5" fill="#2aa2e0" fill-opacity="1"/>
<ellipse cx="728.2" cy="124.3" rx="3.0" ry="1.9" fill="#2aa2e0" fill-opacity="1"/>
<ellipse cx="729.6" cy="129.7" rx="2.0" ry="1.8" fill="#2aa2e0" fill-opacity="1"/>
<ellipse cx="720.9" cy="140.8" rx="1.6" ry="1.2" fill="#2aa2e0" fill-opacity="1"/>
<ellipse cx="736.5" cy="139.9" rx="1.8" ry="1.6" fill="#2aa2e0" fill-opacity="1"/>
<ellipse cx="733.9" cy="117.1" rx="3.2" ry="2.2" fill="#2aa2e0" fill-opacity="1"/>
<ellipse cx="735.7" cy="123.2" rx="2.2" ry="1.2" fill="#2aa2e0" fill-opacity="1"/>
<ellipse cx="724.8" cy="131.9" rx="2.1" ry="2.1" fill="#2aa2e0" fill-opacity="1"/>
<ellipse cx="747.4" cy="159.0" rx="3.2" ry="1.7" fill="#2aa2e0" fill-opacity="1"/>
<ellipse cx="728.1" cy="202.3" rx="1.7" ry="2.2" fill="#2aa2e0" fill-opacity="1"/>
<ellipse cx="730.3" cy="196.7" rx="3.2" ry="2.5" fill="#2aa2e0" fill-opacity="1"/>
<ellipse cx="734.1" cy="191.8" rx="1.7" ry="2.1" fill="#2aa2e0" fill-opacity="1"/>
<ellipse cx="720.6" cy="179.0" rx="1.9" ry="1.8" fill="#2aa2e0" fill-opacity="1"/>
<ellipse cx="742.7" cy="182.6" rx="2.8" ry="2.4" fill="#2aa2e0" fill-opacity="1"/>
<ellipse cx="744.2" cy="188.5" rx="2.8" ry="2.5" fill="#2aa2e0" fill-opacity="1"/>
<ellipse cx="741.9" cy="184.4" rx="2.7" ry="2.3" fill="#2aa2e0" fill-opacity="1"/>
<ellipse cx="748.1" cy="174.1" rx="3.4" ry="1.6" fill="#2aa2e0" fill-opacity="1"/>
<ellipse cx="775.5" cy="192.2" rx="1.8" ry="2.0" fill="#2aa2e0" fill-opacity="1"/>
<ellipse cx="781.3" cy="187.2" rx="3.3" ry="1.8" fill="#2aa2e0" fill-opacity="1"/>
<ellipse cx="788.3" cy="178.6" rx="3.4" ry="1.8" fill="#2aa2e0" fill-opacity="1"/>
<ellipse cx="774.1" cy="193.2" rx="1.9" ry="1.2" fill="#2aa2e0" fill-opacity="1"/>
<ellipse cx="790.7" cy="192.4" rx="1.7" ry="2.3" fill="#2aa2e0" fill-opacity="1"/>
<ellipse cx="766.0" cy="206.9" rx="2.4" ry="2.0" fill="#2aa2e0" fill-opacity="1"/>
<ellipse cx="773.1" cy="207.5" rx="2.2" ry="1.7" fill="#2aa2e0" fill-opacity="1"/>
<ellipse cx="798.8" cy="206.4" rx="2.0" ry="2.3" fill="#2aa2e0" fill-opacity="1"/>
<ellipse cx="797.3" cy="229.7" rx="2.2" ry="1.4" fill="#2aa2e0" fill-opacity="1"/>
<ellipse cx="873.2" cy="185.6" rx="2.9" ry="2.5" fill="#2aa2e0" fill-opacity="1"/>
<ellipse cx="889.4" cy="186.9" rx="2.4" ry="1.5" fill="#2aa2e0" fill-opacity="1"/>
<ellipse cx="891.8" cy="199.4" rx="2.3" ry="1.3" fill="#2aa2e0" fill-opacity="1"/>
<ellipse cx="895.9" cy="204.7" rx="2.7" ry="1.6" fill="#2aa2e0" fill-opacity="1"/>
<ellipse cx="899.7" cy="216.6" rx="2.8" ry="1.4" fill="#2aa2e0" fill-opacity="1"/>
<ellipse cx="886.7" cy="228.3" rx="3.4" ry="2.2" fill="#2aa2e0" fill-opacity="1"/>
<ellipse cx="889.4" cy="234.2" rx="3.0" ry="2.4" fill="#2aa2e0" fill-opacity="1"/>
<ellipse cx="825.3" cy="195.9" rx="2.6" ry="1.6" fill="#2aa2e0" fill-opacity="1"/>
<ellipse cx="842.4" cy="193.4" rx="1.5" ry="1.9" fill="#2aa2e0" fill-opacity="1"/>
<ellipse cx="827.5" cy="185.0" rx="2.5" ry="1.5" fill="#2aa2e0" fill-opacity="1"/>
<ellipse cx="840.4" cy="181.6" rx="3.5" ry="2.3" fill="#2aa2e0" fill-opacity="1"/>
<ellipse cx="849.8" cy="232.1" rx="3.1" ry="2.2" fill="#2aa2e0" fill-opacity="1"/>
<ellipse cx="855.2" cy="234.8" rx="3.4" ry="1.9" fill="#2aa2e0" fill-opacity="1"/>
<ellipse cx="845.6" cy="122.8" rx="2.0" ry="2.1" fill="#2aa2e0" fill-opacity="1"/>
<ellipse cx="861.8" cy="126.4" rx="2.4" ry="1.3" fill="#2aa2e0" fill-opacity="1"/>
<ellipse cx="848.9" cy="133.6" rx="2.4" ry="2.2" fill="#2aa2e0" fill-opacity="1"/>
<ellipse cx="851.7" cy="144.4" rx="2.7" ry="1.6" fill="#2aa2e0" fill-opacity="1"/>
<ellipse cx="865.9" cy="148.6" rx="3.1" ry="1.3" fill="#2aa2e0" fill-opacity="1"/>
<ellipse cx="860.3" cy="163.2" rx="2.1" ry="2.4" fill="#2aa2e0" fill-opacity="1"/>
<ellipse cx="868.1" cy="173.4" rx="3.0" ry="1.2" fill="#2aa2e0" fill-opacity="1"/>
<ellipse cx="898.8" cy="227.1" rx="3.2" ry="1.9" fill="#2aa2e0" fill-opacity="1"/>
<ellipse cx="894.0" cy="161.1" rx="3.0" ry="1.8" fill="#2aa2e0" fill-opacity="1"/>
<ellipse cx="897.2" cy="166.3" rx="1.9" ry="2.2" fill="#2aa2e0" fill-opacity="1"/>
<ellipse cx="906.6" cy="188.6" rx="2.6" ry="1.9" fill="#2aa2e0" fill-opacity="1"/>
<ellipse cx="921.2" cy="183.0" rx="3.3" ry="2.3" fill="#2aa2e0" fill-opacity="1"/>
<ellipse cx="916.6" cy="199.8" rx="1.5" ry="1.3" fill="#2aa2e0" fill-opacity="1"/>
<ellipse cx="931.1" cy="190.5" rx="2.0" ry="1.3" fill="#2aa2e0" fill-opacity="1"/>
<ellipse cx="933.8" cy="211.6" rx="1.8" ry="1.5" fill="#2aa2e0" fill-opacity="1"/>
<ellipse cx="946.5" cy="196.7" rx="3.4" ry="2.3" fill="#2aa2e0" fill-opacity="1"/>
<ellipse cx="923.0" cy="155.6" rx="3.0" ry="1.3" fill="#2aa2e0" fill-opacity="1"/>
<ellipse cx="922.6" cy="161.9" rx="1.6" ry="2.4" fill="#2aa2e0" fill-opacity="1"/>
<ellipse cx="912.3" cy="224.7" rx="3.3" ry="2.3" fill="#2aa2e0" fill-opacity="1"/>
<ellipse cx="912.8" cy="236.7" rx="3.5" ry="2.3" fill="#2aa2e0" fill-opacity="1"/>
<ellipse cx="965.5" cy="208.6" rx="2.7" ry="1.4" fill="#2aa2e0" fill-opacity="1"/>
<ellipse cx="963.7" cy="215.3" rx="3.2" ry="2.0" fill="#2aa2e0" fill-opacity="1"/>
<ellipse cx="968.6" cy="220.8" rx="3.5" ry="1.8" fill="#2aa2e0" fill-opacity="1"/>
<ellipse cx="968.7" cy="227.1" rx="3.3" ry="1.3" fill="#2aa2e0" fill-opacity="1"/>
<ellipse cx="956.8" cy="242.2" rx="1.6" ry="2.0" fill="#2aa2e0" fill-opacity="1"/>
<ellipse cx="959.7" cy="249.9" rx="3.2" ry="2.0" fill="#2aa2e0" fill-opacity="1"/>
<ellipse cx="982.4" cy="257.6" rx="1.7" ry="1.8" fill="#2aa2e0" fill-opacity="1"/>
<ellipse cx="985.0" cy="263.1" rx="1.5" ry="1.3" fill="#2aa2e0" fill-opacity="1"/>
<ellipse cx="985.5" cy="262.6" rx="3.3" ry="1.5" fill="#2aa2e0" fill-opacity="1"/>
<ellipse cx="989.6" cy="266.8" rx="2.5" ry="2.1" fill="#2aa2e0" fill-opacity="1"/>
<ellipse cx="965.4" cy="189.8" rx="1.6" ry="1.9" fill="#2aa2e0" fill-opacity="1"/>
<ellipse cx="964.8" cy="202.9" rx="3.2" ry="2.3" fill="#2aa2e0" fill-opacity="1"/>
<ellipse cx="999.3" cy="192.7" rx="2.2" ry="1.7" fill="#2aa2e0" fill-opacity="1"/>
<ellipse cx="997.5" cy="198.7" rx="1.8" ry="1.2" fill="#2aa2e0" fill-opacity="1"/>
<ellipse cx="998.7" cy="210.1" rx="2.9" ry="2.3" fill="#2aa2e0" fill-opacity="1"/>
<ellipse cx="1000.6" cy="215.7" rx="2.5" ry="1.3" fill="#2aa2e0" fill-opacity="1"/>
<ellipse cx="998.7" cy="221.6" rx="3.3" ry="2.3" fill="#2aa2e0" fill-opacity="1"/>
<ellipse cx="987.1" cy="225.9" rx="3.2" ry="1.5" fill="#2aa2e0" fill-opacity="1"/>
<ellipse cx="996.5" cy="236.1" rx="2.3" ry="2.2" fill="#2aa2e0" fill-opacity="1"/>
<ellipse cx="979.6" cy="243.6" rx="1.6" ry="1.4" fill="#2aa2e0" fill-opacity="1"/>
<ellipse cx="909.6" cy="246.3" rx="3.0" ry="2.4" fill="#2aa2e0" fill-opacity="1"/>
<ellipse cx="921.7" cy="247.8" rx="2.4" ry="1.7" fill="#2aa2e0" fill-opacity="1"/>
<ellipse cx="757.4" cy="179.3" rx="2.4" ry="2.5" fill="#2aa2e0" fill-opacity="1"/>
<ellipse cx="782.6" cy="179.6" rx="3.3" ry="1.9" fill="#2aa2e0" fill-opacity="1"/>
<ellipse cx="790.2" cy="224.5" rx="2.9" ry="2.1" fill="#2aa2e0" fill-opacity="1"/>
<ellipse cx="808.0" cy="215.3" rx="2.6" ry="1.4" fill="#2aa2e0" fill-opacity="1"/>
<ellipse cx="829.4" cy="252.2" rx="1.7" ry="2.2" fill="#2aa2e0" fill-opacity="1"/>
<ellipse cx="174.2" cy="198.6" rx="3.1" ry="2.0" fill="#2aa2e0" fill-opacity="1"/>
<ellipse cx="207.7" cy="185.7" rx="1.7" ry="1.2" fill="#2aa2e0" fill-opacity="1"/>
<ellipse cx="194.8" cy="198.6" rx="2.2" ry="2.1" fill="#2aa2e0" fill-opacity="1"/>
<ellipse cx="176.5" cy="196.0" rx="1.9" ry="1.4" fill="#2aa2e0" fill-opacity="1"/>
<ellipse cx="210.0" cy="199.2" rx="2.0" ry="1.3" fill="#2aa2e0" fill-opacity="1"/>
<ellipse cx="196.2" cy="175.5" rx="2.2" ry="1.7" fill="#2aa2e0" fill-opacity="1"/>
<ellipse cx="227.7" cy="187.0" rx="3.3" ry="1.2" fill="#2aa2e0" fill-opacity="1"/>
<ellipse cx="159.4" cy="199.0" rx="1.9" ry="2.0" fill="#2aa2e0" fill-opacity="1"/>
<ellipse cx="160.4" cy="213.4" rx="3.5" ry="2.3" fill="#2aa2e0" fill-opacity="1"/>
<ellipse cx="214.2" cy="204.9" rx="2.2" ry="1.8" fill="#2aa2e0" fill-opacity="1"/>
<ellipse cx="220.9" cy="203.0" rx="2.0" ry="2.1" fill="#2aa2e0" fill-opacity="1"/>
<ellipse cx="155.2" cy="213.8" rx="2.4" ry="1.9" fill="#2aa2e0" fill-opacity="1"/>
<ellipse cx="157.6" cy="206.8" rx="2.0" ry="1.2" fill="#2aa2e0" fill-opacity="1"/>
<ellipse cx="172.2" cy="223.1" rx="3.0" ry="2.1" fill="#2aa2e0" fill-opacity="1"/>
<ellipse cx="175.6" cy="215.0" rx="2.2" ry="1.7" fill="#2aa2e0" fill-opacity="1"/>
<ellipse cx="219.2" cy="184.5" rx="2.2" ry="2.2" fill="#2aa2e0" fill-opacity="1"/>
<ellipse cx="165.2" cy="218.1" rx="2.4" ry="2.0" fill="#2aa2e0" fill-opacity="1"/>
<ellipse cx="167.1" cy="201.1" rx="2.9" ry="1.9" fill="#2aa2e0" fill-opacity="1"/>
<ellipse cx="187.0" cy="192.8" rx="2.9" ry="1.8" fill="#2aa2e0" fill-opacity="1"/>
<ellipse cx="195.4" cy="214.1" rx="2.4" ry="2.0" fill="#2aa2e0" fill-opacity="1"/>
<ellipse cx="143.3" cy="192.0" rx="2.6" ry="2.4" fill="#2aa2e0" fill-opacity="1"/>
<ellipse cx="174.6" cy="219.0" rx="3.0" ry="1.4" fill="#2aa2e0" fill-opacity="1"/>
<ellipse cx="190.7" cy="189.1" rx="3.0" ry="2.2" fill="#2aa2e0" fill-opacity="1"/>
<ellipse cx="184.6" cy="181.9" rx="2.6" ry="1.8" fill="#2aa2e0" fill-opacity="1"/>
<ellipse cx="180.1" cy="173.6" rx="2.5" ry="2.3" fill="#2aa2e0" fill-opacity="1"/>
<ellipse cx="181.6" cy="173.5" rx="2.6" ry="1.4" fill="#2aa2e0" fill-opacity="1"/>
<ellipse cx="187.2" cy="184.8" rx="3.0" ry="1.6" fill="#2aa2e0" fill-opacity="1"/>
<ellipse cx="213.5" cy="199.7" rx="2.3" ry="2.0" fill="#2aa2e0" fill-opacity="1"/>
<ellipse cx="192.8" cy="198.8" rx="2.4" ry="2.3" fill="#2aa2e0" fill-opacity="1"/>
<ellipse cx="171.7" cy="183.5" rx="1.7" ry="2.3" fill="#2aa2e0" fill-opacity="1"/>
<ellipse cx="301.8" cy="101.3" rx="2.6" ry="2.2" fill="#2aa2e0" fill-opacity="1"/>
<ellipse cx="294.0" cy="132.4" rx="2.0" ry="1.6" fill="#2aa2e0" fill-opacity="1"/>
<ellipse cx="313.8" cy="134.0" rx="2.4" ry="1.7" fill="#2aa2e0" fill-opacity="1"/>
<ellipse cx="311.1" cy="138.7" rx="3.1" ry="1.6" fill="#2aa2e0" fill-opacity="1"/>
<ellipse cx="316.7" cy="187.4" rx="2.7" ry="2.2" fill="#2aa2e0" fill-opacity="1"/>
<ellipse cx="307.0" cy="110.1" rx="3.3" ry="1.8" fill="#2aa2e0" fill-opacity="1"/>
<ellipse cx="309.7" cy="182.1" rx="2.5" ry="1.5" fill="#2aa2e0" fill-opacity="1"/>
<ellipse cx="318.5" cy="170.2" rx="3.0" ry="2.0" fill="#2aa2e0" fill-opacity="1"/>
<ellipse cx="314.8" cy="133.3" rx="2.5" ry="1.9" fill="#2aa2e0" fill-opacity="1"/>
<ellipse cx="313.6" cy="138.2" rx="3.0" ry="1.8" fill="#2aa2e0" fill-opacity="1"/>
<ellipse cx="310.4" cy="117.2" rx="3.3" ry="2.1" fill="#2aa2e0" fill-opacity="1"/>
<ellipse cx="306.4" cy="145.6" rx="3.3" ry="1.3" fill="#2aa2e0" fill-opacity="1"/>
<ellipse cx="317.0" cy="178.2" rx="2.1" ry="1.3" fill="#2aa2e0" fill-opacity="1"/>
<ellipse cx="321.8" cy="131.8" rx="3.3" ry="1.8" fill="#2aa2e0" fill-opacity="1"/>
<ellipse cx="311.6" cy="139.1" rx="3.4" ry="1.8" fill="#2aa2e0" fill-opacity="1"/>
<ellipse cx="282.0" cy="121.4" rx="2.4" ry="1.8" fill="#2aa2e0" fill-opacity="1"/>
<ellipse cx="320.4" cy="131.9" rx="3.3" ry="1.3" fill="#2aa2e0" fill-opacity="1"/>
<ellipse cx="284.1" cy="172.8" rx="2.8" ry="2.4" fill="#2aa2e0" fill-opacity="1"/>
<ellipse cx="302.4" cy="195.9" rx="2.9" ry="2.2" fill="#2aa2e0" fill-opacity="1"/>
<ellipse cx="277.2" cy="168.4" rx="1.6" ry="1.4" fill="#2aa2e0" fill-opacity="1"/>
<ellipse cx="310.0" cy="118.4" rx="3.0" ry="2.5" fill="#2aa2e0" fill-opacity="1"/>
<ellipse cx="312.6" cy="156.4" rx="2.8" ry="1.7" fill="#2aa2e0" fill-opacity="1"/>
<ellipse cx="279.3" cy="168.5" rx="2.9" ry="1.5" fill="#2aa2e0" fill-opacity="1"/>
<ellipse cx="314.8" cy="186.0" rx="2.3" ry="2.2" fill="#2aa2e0" fill-opacity="1"/>
<ellipse cx="294.0" cy="148.1" rx="3.2" ry="2.4" fill="#2aa2e0" fill-opacity="1"/>
<ellipse cx="344.2" cy="174.9" rx="1.8" ry="1.7" fill="#2aa2e0" fill-opacity="1"/>
<ellipse cx="351.3" cy="149.4" rx="2.9" ry="2.4" fill="#2aa2e0" fill-opacity="1"/>
<ellipse cx="351.0" cy="111.0" rx="2.7" ry="1.8" fill="#2aa2e0" fill-opacity="1"/>
<ellipse cx="363.3" cy="122.2" rx="2.8" ry="1.9" fill="#2aa2e0" fill-opacity="1"/>
<ellipse cx="349.3" cy="166.5" rx="1.8" ry="1.6" fill="#2aa2e0" fill-opacity="1"/>
<ellipse cx="357.8" cy="187.9" rx="2.6" ry="1.9" fill="#2aa2e0" fill-opacity="1"/>
<ellipse cx="340.6" cy="157.8" rx="2.0" ry="1.6" fill="#2aa2e0" fill-opacity="1"/>
<ellipse cx="343.6" cy="182.6" rx="1.8" ry="1.6" fill="#2aa2e0" fill-opacity="1"/>
<ellipse cx="342.9" cy="160.6" rx="2.7" ry="1.8" fill="#2aa2e0" fill-opacity="1"/>
<ellipse cx="341.8" cy="110.8" rx="3.0" ry="2.3" fill="#2aa2e0" fill-opacity="1"/>
<ellipse cx="344.1" cy="83.8" rx="2.7" ry="1.6" fill="#2aa2e0" fill-opacity="1"/>
<ellipse cx="355.3" cy="155.0" rx="1.9" ry="2.5" fill="#2aa2e0" fill-opacity="1"/>
<ellipse cx="343.0" cy="223.9" rx="2.2" ry="1.3" fill="#2aa2e0" fill-opacity="1"/>
<ellipse cx="358.5" cy="208.3" rx="2.4" ry="1.6" fill="#2aa2e0" fill-opacity="1"/>
<ellipse cx="324.4" cy="156.6" rx="3.1" ry="1.3" fill="#2aa2e0" fill-opacity="1"/>
<ellipse cx="346.1" cy="101.4" rx="2.2" ry="1.8" fill="#2aa2e0" fill-opacity="1"/>
<ellipse cx="323.5" cy="156.2" rx="3.2" ry="2.3" fill="#2aa2e0" fill-opacity="1"/>
<ellipse cx="363.7" cy="153.3" rx="2.2" ry="1.9" fill="#2aa2e0" fill-opacity="1"/>
<ellipse cx="348.4" cy="117.1" rx="2.2" ry="1.8" fill="#2aa2e0" fill-opacity="1"/>
<ellipse cx="337.1" cy="110.3" rx="3.1" ry="1.8" fill="#2aa2e0" fill-opacity="1"/>
<ellipse cx="354.7" cy="136.4" rx="3.4" ry="1.7" fill="#2aa2e0" fill-opacity="1"/>
<ellipse cx="337.5" cy="166.3" rx="2.4" ry="2.3" fill="#2aa2e0" fill-opacity="1"/>
<ellipse cx="330.1" cy="179.7" rx="2.0" ry="2.1" fill="#2aa2e0" fill-opacity="1"/>
<ellipse cx="363.7" cy="123.0" rx="3.2" ry="1.8" fill="#2aa2e0" fill-opacity="1"/>
<ellipse cx="364.8" cy="119.1" rx="2.1" ry="1.9" fill="#2aa2e0" fill-opacity="1"/>
<ellipse cx="403.4" cy="183.1" rx="3.2" ry="1.2" fill="#2aa2e0" fill-opacity="1"/>
<ellipse cx="381.1" cy="101.1" rx="2.2" ry="1.4" fill="#2aa2e0" fill-opacity="1"/>
<ellipse cx="405.6" cy="121.3" rx="2.1" ry="1.4" fill="#2aa2e0" fill-opacity="1"/>
<ellipse cx="381.7" cy="122.3" rx="2.0" ry="2.5" fill="#2aa2e0" fill-opacity="1"/>
<ellipse cx="396.8" cy="173.4" rx="2.2" ry="2.5" fill="#2aa2e0" fill-opacity="1"/>
<ellipse cx="410.6" cy="163.4" rx="2.0" ry="1.3" fill="#2aa2e0" fill-opacity="1"/>
<ellipse cx="387.5" cy="148.7" rx="3.2" ry="2.5" fill="#2aa2e0" fill-opacity="1"/>
<ellipse cx="402.4" cy="124.5" rx="3.5" ry="2.0" fill="#2aa2e0" fill-opacity="1"/>
<ellipse cx="398.2" cy="166.0" rx="1.5" ry="2.4" fill="#2aa2e0" fill-opacity="1"/>
<ellipse cx="373.9" cy="176.9" rx="2.6" ry="1.8" fill="#2aa2e0" fill-opacity="1"/>
<ellipse cx="386.4" cy="191.4" rx="3.2" ry="1.7" fill="#2aa2e0" fill-opacity="1"/>
<ellipse cx="404.4" cy="117.8" rx="2.2" ry="1.6" fill="#2aa2e0" fill-opacity="1"/>
<ellipse cx="360.1" cy="140.2" rx="1.5" ry="2.5" fill="#2aa2e0" fill-opacity="1"/>
<ellipse cx="402.5" cy="147.9" rx="1.6" ry="1.5" fill="#2aa2e0" fill-opacity="1"/>
<ellipse cx="400.0" cy="129.6" rx="1.7" ry="1.8" fill="#2aa2e0" fill-opacity="1"/>
<ellipse cx="389.3" cy="113.0" rx="2.3" ry="1.9" fill="#2aa2e0" fill-opacity="1"/>
<ellipse cx="398.5" cy="140.8" rx="3.5" ry="1.5" fill="#2aa2e0" fill-opacity="1"/>
<ellipse cx="398.8" cy="108.3" rx="3.3" ry="1.9" fill="#2aa2e0" fill-opacity="1"/>
<ellipse cx="367.0" cy="181.2" rx="3.3" ry="1.4" fill="#2aa2e0" fill-opacity="1"/>
<ellipse cx="457.7" cy="152.0" rx="2.9" ry="1.9" fill="#2aa2e0" fill-opacity="1"/>
<ellipse cx="438.2" cy="143.2" rx="2.3" ry="2.2" fill="#2aa2e0" fill-opacity="1"/>
<ellipse cx="456.5" cy="167.8" rx="3.5" ry="2.4" fill="#2aa2e0" fill-opacity="1"/>
<ellipse cx="464.5" cy="185.8" rx="3.5" ry="2.5" fill="#2aa2e0" fill-opacity="1"/>
<ellipse cx="458.4" cy="176.5" rx="2.1" ry="2.0" fill="#2aa2e0" fill-opacity="1"/>
<ellipse cx="460.3" cy="201.6" rx="2.7" ry="1.3" fill="#2aa2e0" fill-opacity="1"/>
<ellipse cx="445.2" cy="190.3" rx="2.2" ry="2.3" fill="#2aa2e0" fill-opacity="1"/>
<ellipse cx="430.8" cy="191.0" rx="3.4" ry="1.7" fill="#2aa2e0" fill-opacity="1"/>
<ellipse cx="439.4" cy="197.2" rx="1.7" ry="1.9" fill="#2aa2e0" fill-opacity="1"/>
<ellipse cx="435.3" cy="142.4" rx="3.1" ry="2.0" fill="#2aa2e0" fill-opacity="1"/>
<ellipse cx="458.1" cy="226.3" rx="1.8" ry="2.3" fill="#2aa2e0" fill-opacity="1"/>
<ellipse cx="438.4" cy="165.2" rx="3.4" ry="1.2" fill="#2aa2e0" fill-opacity="1"/>
<ellipse cx="519.1" cy="160.8" rx="1.7" ry="2.1" fill="#2aa2e0" fill-opacity="1"/>
<ellipse cx="486.7" cy="146.8" rx="2.7" ry="1.5" fill="#2aa2e0" fill-opacity="1"/>
<ellipse cx="538.0" cy="165.1" rx="3.4" ry="1.2" fill="#2aa2e0" fill-opacity="1"/>
<ellipse cx="507.3" cy="140.5" rx="2.6" ry="2.0" fill="#2aa2e0" fill-opacity="1"/>
<ellipse cx="517.0" cy="208.4" rx="2.4" ry="1.7" fill="#2aa2e0" fill-opacity="1"/>
<ellipse cx="529.2" cy="166.0" rx="2.0" ry="2.4" fill="#2aa2e0" fill-opacity="1"/>
<ellipse cx="512.9" cy="205.2" rx="3.2" ry="2.3" fill="#2aa2e0" fill-opacity="1"/>
<ellipse cx="518.5" cy="161.2" rx="2.1" ry="1.4" fill="#2aa2e0" fill-opacity="1"/>
<ellipse cx="505.6" cy="196.6" rx="2.6" ry="2.5" fill="#2aa2e0" fill-opacity="1"/>
<ellipse cx="533.1" cy="164.8" rx="2.7" ry="1.7" fill="#2aa2e0" fill-opacity="1"/>
<ellipse cx="523.6" cy="144.6" rx="3.0" ry="1.7" fill="#2aa2e0" fill-opacity="1"/>
<ellipse cx="524.9" cy="160.5" rx="2.8" ry="2.4" fill="#2aa2e0" fill-opacity="1"/>
<ellipse cx="540.1" cy="157.8" rx="2.3" ry="2.1" fill="#2aa2e0" fill-opacity="1"/>
<ellipse cx="522.9" cy="115.5" rx="2.5" ry="1.6" fill="#2aa2e0" fill-opacity="1"/>
<ellipse cx="521.4" cy="123.4" rx="2.1" ry="1.5" fill="#2aa2e0" fill-opacity="1"/>
<ellipse cx="493.1" cy="167.2" rx="3.2" ry="2.0" fill="#2aa2e0" fill-opacity="1"/>
<ellipse cx="521.3" cy="188.8" rx="2.3" ry="1.8" fill="#2aa2e0" fill-opacity="1"/>
<ellipse cx="521.7" cy="127.7" rx="3.0" ry="2.4" fill="#2aa2e0" fill-opacity="1"/>
<ellipse cx="542.0" cy="129.6" rx="1.8" ry="2.0" fill="#2aa2e0" fill-opacity="1"/>
<ellipse cx="498.2" cy="124.7" rx="2.7" ry="1.9" fill="#2aa2e0" fill-opacity="1"/>
<ellipse cx="512.8" cy="161.3" rx="2.7" ry="2.2" fill="#2aa2e0" fill-opacity="1"/>
<ellipse cx="527.0" cy="182.7" rx="3.2" ry="1.8" fill="#2aa2e0" fill-opacity="1"/>
<ellipse cx="520.8" cy="117.4" rx="1.7" ry="1.8" fill="#2aa2e0" fill-opacity="1"/>
<ellipse cx="523.9" cy="130.8" rx="3.4" ry="1.6" fill="#2aa2e0" fill-opacity="1"/>
<ellipse cx="509.3" cy="156.5" rx="3.4" ry="1.4" fill="#2aa2e0" fill-opacity="1"/>
<ellipse cx="490.9" cy="174.8" rx="2.2" ry="1.6" fill="#2aa2e0" fill-opacity="1"/>
<ellipse cx="505.6" cy="168.6" rx="2.0" ry="2.4" fill="#2aa2e0" fill-opacity="1"/>
<ellipse cx="479.7" cy="181.7" rx="1.6" ry="1.9" fill="#2aa2e0" fill-opacity="1"/>
<ellipse cx="496.5" cy="209.6" rx="2.4" ry="2.3" fill="#2aa2e0" fill-opacity="1"/>
<ellipse cx="499.4" cy="163.0" rx="2.3" ry="1.6" fill="#2aa2e0" fill-opacity="1"/>
<ellipse cx="508.0" cy="156.6" rx="1.9" ry="1.9" fill="#2aa2e0" fill-opacity="1"/>
<ellipse cx="570.6" cy="127.4" rx="2.6" ry="1.6" fill="#2aa2e0" fill-opacity="1"/>
<ellipse cx="572.4" cy="124.0" rx="2.0" ry="1.3" fill="#2aa2e0" fill-opacity="1"/>
<ellipse cx="575.2" cy="207.4" rx="2.6" ry="1.3" fill="#2aa2e0" fill-opacity="1"/>
<ellipse cx="577.2" cy="168.6" rx="3.1" ry="2.0" fill="#2aa2e0" fill-opacity="1"/>
<ellipse cx="584.4" cy="157.6" rx="3.0" ry="1.3" fill="#2aa2e0" fill-opacity="1"/>
<ellipse cx="591.3" cy="180.5" rx="3.0" ry="2.1" fill="#2aa2e0" fill-opacity="1"/>
<ellipse cx="582.5" cy="130.3" rx="3.1" ry="1.7" fill="#2aa2e0" fill-opacity="1"/>
<ellipse cx="573.1" cy="187.1" rx="3.0" ry="1.8" fill="#2aa2e0" fill-opacity="1"/>
<ellipse cx="588.7" cy="136.7" rx="3.1" ry="1.6" fill="#2aa2e0" fill-opacity="1"/>
<ellipse cx="569.3" cy="209.9" rx="3.5" ry="2.2" fill="#2aa2e0" fill-opacity="1"/>
<ellipse cx="573.4" cy="121.7" rx="1.7" ry="2.0" fill="#2aa2e0" fill-opacity="1"/>
<ellipse cx="571.7" cy="135.1" rx="1.7" ry="1.4" fill="#2aa2e0" fill-opacity="1"/>
<ellipse cx="591.7" cy="186.4" rx="2.9" ry="2.3" fill="#2aa2e0" fill-opacity="1"/>
<ellipse cx="584.4" cy="200.3" rx="2.2" ry="2.4" fill="#2aa2e0" fill-opacity="1"/>
<ellipse cx="574.2" cy="177.3" rx="2.5" ry="1.5" fill="#2aa2e0" fill-opacity="1"/>
<ellipse cx="569.0" cy="159.7" rx="1.6" ry="2.0" fill="#2aa2e0" fill-opacity="1"/>
<ellipse cx="572.8" cy="174.1" rx="2.0" ry="1.4" fill="#2aa2e0" fill-opacity="1"/>
<ellipse cx="584.0" cy="192.3" rx="2.1" ry="1.4" fill="#2aa2e0" fill-opacity="1"/>
<ellipse cx="570.3" cy="161.3" rx="1.9" ry="1.4" fill="#2aa2e0" fill-opacity="1"/>
<ellipse cx="588.7" cy="153.4" rx="2.7" ry="2.2" fill="#2aa2e0" fill-opacity="1"/>
<ellipse cx="572.6" cy="190.6" rx="3.1" ry="1.9" fill="#2aa2e0" fill-opacity="1"/>
<ellipse cx="588.1" cy="196.2" rx="2.3" ry="1.5" fill="#2aa2e0" fill-opacity="1"/>
<ellipse cx="588.5" cy="175.1" rx="2.3" ry="2.3" fill="#2aa2e0" fill-opacity="1"/>
<ellipse cx="584.2" cy="167.3" rx="3.2" ry="2.1" fill="#2aa2e0" fill-opacity="1"/>
<ellipse cx="615.4" cy="126.3" rx="2.8" ry="1.4" fill="#2aa2e0" fill-opacity="1"/>
<ellipse cx="605.5" cy="192.1" rx="2.2" ry="1.4" fill="#2aa2e0" fill-opacity="1"/>
<ellipse cx="607.8" cy="141.0" rx="2.5" ry="2.1" fill="#2aa2e0" fill-opacity="1"/>
<ellipse cx="626.1" cy="162.2" rx="2.8" ry="2.2" fill="#2aa2e0" fill-opacity="1"/>
<ellipse cx="616.9" cy="176.9" rx="1.7" ry="1.9" fill="#2aa2e0" fill-opacity="1"/>
<ellipse cx="593.9" cy="189.9" rx="2.7" ry="2.3" fill="#2aa2e0" fill-opacity="1"/>
<ellipse cx="625.8" cy="160.7" rx="2.2" ry="2.3" fill="#2aa2e0" fill-opacity="1"/>
<ellipse cx="622.1" cy="182.3" rx="1.9" ry="1.9" fill="#2aa2e0" fill-opacity="1"/>
<ellipse cx="614.8" cy="188.0" rx="3.5" ry="1.3" fill="#2aa2e0" fill-opacity="1"/>
<ellipse cx="590.8" cy="142.2" rx="2.3" ry="1.2" fill="#2aa2e0" fill-opacity="1"/>
<ellipse cx="587.2" cy="168.6" rx="2.2" ry="1.4" fill="#2aa2e0" fill-opacity="1"/>
<ellipse cx="574.8" cy="175.7" rx="2.2" ry="1.8" fill="#2aa2e0" fill-opacity="1"/>
<ellipse cx="607.2" cy="145.9" rx="1.6" ry="2.2" fill="#2aa2e0" fill-opacity="1"/>
<ellipse cx="585.0" cy="137.6" rx="2.6" ry="2.2" fill="#2aa2e0" fill-opacity="1"/>
<ellipse cx="603.3" cy="185.3" rx="3.3" ry="1.2" fill="#2aa2e0" fill-opacity="1"/>
<ellipse cx="581.5" cy="128.9" rx="2.9" ry="1.8" fill="#2aa2e0" fill-opacity="1"/>
<ellipse cx="593.6" cy="149.5" rx="1.8" ry="2.5" fill="#2aa2e0" fill-opacity="1"/>
<ellipse cx="592.7" cy="134.8" rx="2.0" ry="1.5" fill="#2aa2e0" fill-opacity="1"/>
<ellipse cx="589.2" cy="178.5" rx="1.9" ry="1.8" fill="#2aa2e0" fill-opacity="1"/>
<ellipse cx="646.9" cy="142.0" rx="1.9" ry="1.7" fill="#2aa2e0" fill-opacity="1"/>
<ellipse cx="661.9" cy="175.4" rx="1.6" ry="1.9" fill="#2aa2e0" fill-opacity="1"/>
<ellipse cx="647.8" cy="174.6" rx="1.6" ry="1.7" fill="#2aa2e0" fill-opacity="1"/>
<ellipse cx="650.9" cy="128.1" rx="2.9" ry="2.1" fill="#2aa2e0" fill-opacity="1"/>
<ellipse cx="664.2" cy="159.9" rx="2.1" ry="2.4" fill="#2aa2e0" fill-opacity="1"/>
<ellipse cx="660.3" cy="123.2" rx="2.3" ry="1.3" fill="#2aa2e0" fill-opacity="1"/>
<ellipse cx="644.1" cy="151.2" rx="3.0" ry="1.3" fill="#2aa2e0" fill-opacity="1"/>
<ellipse cx="718.9" cy="123.2" rx="1.6" ry="1.4" fill="#2aa2e0" fill-opacity="1"/>
<ellipse cx="721.7" cy="131.7" rx="2.7" ry="2.4" fill="#2aa2e0" fill-opacity="1"/>
<ellipse cx="717.2" cy="123.9" rx="1.7" ry="2.4" fill="#2aa2e0" fill-opacity="1"/>
<ellipse cx="726.3" cy="158.7" rx="2.0" ry="2.4" fill="#2aa2e0" fill-opacity="1"/>
<ellipse cx="725.2" cy="155.9" rx="2.4" ry="1.5" fill="#2aa2e0" fill-opacity="1"/>
<ellipse cx="731.1" cy="115.4" rx="3.4" ry="1.5" fill="#2aa2e0" fill-opacity="1"/>
<ellipse cx="715.6" cy="131.0" rx="2.4" ry="1.8" fill="#2aa2e0" fill-opacity="1"/>
<ellipse cx="724.3" cy="131.5" rx="3.0" ry="1.5" fill="#2aa2e0" fill-opacity="1"/>
<ellipse cx="725.9" cy="136.3" rx="2.0" ry="1.3" fill="#2aa2e0" fill-opacity="1"/>
<ellipse cx="736.1" cy="209.4" rx="1.9" ry="2.2" fill="#2aa2e0" fill-opacity="1"/>
<ellipse cx="757.9" cy="204.3" rx="1.7" ry="1.4" fill="#2aa2e0" fill-opacity="1"/>
<ellipse cx="732.4" cy="205.5" rx="3.0" ry="2.3" fill="#2aa2e0" fill-opacity="1"/>
<ellipse cx="727.4" cy="190.3" rx="1.6" ry="2.1" fill="#2aa2e0" fill-opacity="1"/>
<ellipse cx="738.1" cy="206.5" rx="1.8" ry="2.0" fill="#2aa2e0" fill-opacity="1"/>
<ellipse cx="734.0" cy="198.0" rx="2.7" ry="2.4" fill="#2aa2e0" fill-opacity="1"/>
<ellipse cx="730.1" cy="209.3" rx="1.6" ry="1.4" fill="#2aa2e0" fill-opacity="1"/>
<ellipse cx="754.5" cy="186.2" rx="3.2" ry="2.4" fill="#2aa2e0" fill-opacity="1"/>
<ellipse cx="731.4" cy="206.8" rx="2.8" ry="2.5" fill="#2aa2e0" fill-opacity="1"/>
<ellipse cx="820.0" cy="207.0" rx="2.0" ry="1.4" fill="#2aa2e0" fill-opacity="1"/>
<ellipse cx="812.6" cy="224.3" rx="2.5" ry="1.3" fill="#2aa2e0" fill-opacity="1"/>
<ellipse cx="812.4" cy="237.2" rx="2.6" ry="1.4" fill="#2aa2e0" fill-opacity="1"/>
<ellipse cx="813.2" cy="203.9" rx="1.8" ry="1.3" fill="#2aa2e0" fill-opacity="1"/>
<ellipse cx="796.3" cy="231.1" rx="2.3" ry="1.6" fill="#2aa2e0" fill-opacity="1"/>
<ellipse cx="787.9" cy="217.6" rx="2.2" ry="1.4" fill="#2aa2e0" fill-opacity="1"/>
<ellipse cx="802.2" cy="213.2" rx="3.2" ry="2.5" fill="#2aa2e0" fill-opacity="1"/>
<ellipse cx="866.9" cy="157.2" rx="2.6" ry="1.8" fill="#2aa2e0" fill-opacity="1"/>
<ellipse cx="866.1" cy="143.3" rx="3.4" ry="2.4" fill="#2aa2e0" fill-opacity="1"/>
<ellipse cx="854.5" cy="147.4" rx="2.4" ry="2.4" fill="#2aa2e0" fill-opacity="1"/>
<ellipse cx="867.3" cy="138.9" rx="2.2" ry="1.6" fill="#2aa2e0" fill-opacity="1"/>
<ellipse cx="862.3" cy="155.2" rx="2.7" ry="1.9" fill="#2aa2e0" fill-opacity="1"/>
<ellipse cx="857.4" cy="156.9" rx="3.0" ry="2.3" fill="#2aa2e0" fill-opacity="1"/>
<ellipse cx="875.6" cy="234.5" rx="2.0" ry="1.6" fill="#2aa2e0" fill-opacity="1"/>
<ellipse cx="861.2" cy="205.5" rx="1.7" ry="1.9" fill="#2aa2e0" fill-opacity="1"/>
<ellipse cx="853.8" cy="211.2" rx="3.1" ry="1.8" fill="#2aa2e0" fill-opacity="1"/>
<ellipse cx="867.8" cy="225.1" rx="3.0" ry="2.4" fill="#2aa2e0" fill-opacity="1"/>
<ellipse cx="848.2" cy="211.9" rx="1.8" ry="1.4" fill="#2aa2e0" fill-opacity="1"/>
<ellipse cx="853.3" cy="230.3" rx="3.1" ry="1.9" fill="#2aa2e0" fill-opacity="1"/>
<ellipse cx="922.5" cy="188.4" rx="2.2" ry="2.3" fill="#2aa2e0" fill-opacity="1"/>
<ellipse cx="910.8" cy="223.5" rx="2.0" ry="2.3" fill="#2aa2e0" fill-opacity="1"/>
<ellipse cx="923.1" cy="176.7" rx="2.4" ry="1.9" fill="#2aa2e0" fill-opacity="1"/>
<ellipse cx="925.2" cy="222.8" rx="3.1" ry="2.3" fill="#2aa2e0" fill-opacity="1"/>
<ellipse cx="924.6" cy="190.1" rx="3.4" ry="1.6" fill="#2aa2e0" fill-opacity="1"/>
<ellipse cx="924.9" cy="168.0" rx="1.5" ry="1.4" fill="#2aa2e0" fill-opacity="1"/>
<ellipse cx="913.1" cy="171.8" rx="2.1" ry="1.6" fill="#2aa2e0" fill-opacity="1"/>
<ellipse cx="915.7" cy="206.5" rx="2.9" ry="1.3" fill="#2aa2e0" fill-opacity="1"/>
<ellipse cx="967.6" cy="192.6" rx="3.1" ry="2.4" fill="#2aa2e0" fill-opacity="1"/>
<ellipse cx="977.9" cy="241.4" rx="3.5" ry="1.9" fill="#2aa2e0" fill-opacity="1"/>
<ellipse cx="972.7" cy="203.3" rx="3.5" ry="1.4" fill="#2aa2e0" fill-opacity="1"/>
<ellipse cx="962.7" cy="259.8" rx="1.6" ry="1.5" fill="#2aa2e0" fill-opacity="1"/>
<ellipse cx="976.1" cy="198.9" rx="2.3" ry="1.2" fill="#2aa2e0" fill-opacity="1"/>
<ellipse cx="981.7" cy="182.9" rx="2.1" ry="1.3" fill="#2aa2e0" fill-opacity="1"/>
<ellipse cx="982.8" cy="197.0" rx="2.6" ry="1.2" fill="#2aa2e0" fill-opacity="1"/>
<ellipse cx="977.6" cy="209.4" rx="3.3" ry="1.5" fill="#2aa2e0" fill-opacity="1"/>
<ellipse cx="966.9" cy="261.5" rx="1.6" ry="1.8" fill="#2aa2e0" fill-opacity="1"/>
<ellipse cx="974.4" cy="204.3" rx="1.8" ry="1.8" fill="#2aa2e0" fill-opacity="1"/>
<ellipse cx="0" cy="0" rx="6.7" ry="5.1" transform="translate(161.0,150.3) rotate(107)" fill="#2aa2e0"/>
<ellipse cx="0" cy="0" rx="6.9" ry="5.5" transform="translate(162.0,156.7) rotate(68)" fill="#2aa2e0"/>
<ellipse cx="0" cy="0" rx="7.4" ry="5.3" transform="translate(163.3,162.9) rotate(72)" fill="#2aa2e0"/>
<ellipse cx="0" cy="0" rx="6.9" ry="5.3" transform="translate(166.5,174.9) rotate(92)" fill="#2aa2e0"/>
<ellipse cx="0" cy="0" rx="6.3" ry="4.7" transform="translate(173.2,184.4) rotate(38)" fill="#2aa2e0"/>
<ellipse cx="0" cy="0" rx="7.9" ry="5.5" transform="translate(174.8,190.7) rotate(46)" fill="#2aa2e0"/>
<ellipse cx="0" cy="0" rx="6.1" ry="5.3" transform="translate(180.9,192.4) rotate(20)" fill="#2aa2e0"/>
<ellipse cx="0" cy="0" rx="5.8" ry="5.4" transform="translate(186.9,193.3) rotate(-4)" fill="#2aa2e0"/>
<ellipse cx="0" cy="0" rx="6.6" ry="4.8" transform="translate(192.0,196.9) rotate(-3)" fill="#2aa2e0"/>
<ellipse cx="0" cy="0" rx="6.7" ry="4.6" transform="translate(203.6,199.0) rotate(10)" fill="#2aa2e0"/>
<ellipse cx="0" cy="0" rx="7.9" ry="5.1" transform="translate(213.1,204.9) rotate(7)" fill="#2aa2e0"/>
<ellipse cx="0" cy="0" rx="5.8" ry="4.6" transform="translate(173.5,162.3) rotate(13)" fill="#2aa2e0"/>
<ellipse cx="0" cy="0" rx="7.1" ry="4.7" transform="translate(186.7,166.1) rotate(22)" fill="#2aa2e0"/>
<ellipse cx="0" cy="0" rx="6.9" ry="5.6" transform="translate(193.8,167.6) rotate(34)" fill="#2aa2e0"/>
<ellipse cx="0" cy="0" rx="5.7" ry="4.6" transform="translate(196.2,173.8) rotate(27)" fill="#2aa2e0"/>
<ellipse cx="0" cy="0" rx="7.1" ry="5.1" transform="translate(199.2,179.5) rotate(21)" fill="#2aa2e0"/>
<ellipse cx="0" cy="0" rx="6.9" ry="5.4" transform="translate(147.9,186.4) rotate(35)" fill="#2aa2e0"/>
<ellipse cx="0" cy="0" rx="7.7" ry="5.0" transform="translate(162.0,202.3) rotate(51)" fill="#2aa2e0"/>
<ellipse cx="0" cy="0" rx="6.6" ry="4.9" transform="translate(173.5,205.9) rotate(19)" fill="#2aa2e0"/>
<ellipse cx="0" cy="0" rx="6.9" ry="5.1" transform="translate(177.6,210.3) rotate(29)" fill="#2aa2e0"/>
<ellipse cx="0" cy="0" rx="7.8" ry="4.9" transform="translate(183.8,213.0) rotate(21)" fill="#2aa2e0"/>
<ellipse cx="0" cy="0" rx="7.4" ry="4.8" transform="translate(198.9,215.9) rotate(4)" fill="#2aa2e0"/>
<ellipse cx="0" cy="0" rx="7.3" ry="5.6" transform="translate(206.6,215.4) rotate(6)" fill="#2aa2e0"/>
<ellipse cx="0" cy="0" rx="6.3" ry="5.2" transform="translate(185.1,228.0) rotate(143)" fill="#2aa2e0"/>
<ellipse cx="0" cy="0" rx="7.0" ry="5.3" transform="translate(181.2,232.9) rotate(134)" fill="#2aa2e0"/>
<ellipse cx="0" cy="0" rx="6.7" ry="5.3" transform="translate(178.7,238.9) rotate(133)" fill="#2aa2e0"/>
<ellipse cx="0" cy="0" rx="6.1" ry="4.6" transform="translate(172.9,248.1) rotate(114)" fill="#2aa2e0"/>
<ellipse cx="0" cy="0" rx="7.4" ry="5.0" transform="translate(169.1,252.5) rotate(121)" fill="#2aa2e0"/>
<ellipse cx="0" cy="0" rx="7.7" ry="5.6" transform="translate(190.2,248.2) rotate(121)" fill="#2aa2e0"/>
<ellipse cx="0" cy="0" rx="7.8" ry="5.5" transform="translate(186.0,252.0) rotate(126)" fill="#2aa2e0"/>
<ellipse cx="0" cy="0" rx="7.7" ry="5.0" transform="translate(180.8,257.0) rotate(113)" fill="#2aa2e0"/>
<ellipse cx="0" cy="0" rx="7.7" ry="5.2" transform="translate(184.0,274.0) rotate(-1)" fill="#2aa2e0"/>
<ellipse cx="0" cy="0" rx="7.2" ry="5.6" transform="translate(195.9,275.7) rotate(-10)" fill="#2aa2e0"/>
<ellipse cx="0" cy="0" rx="6.9" ry="4.9" transform="translate(202.0,272.9) rotate(-16)" fill="#2aa2e0"/>
<ellipse cx="0" cy="0" rx="6.6" ry="5.4" transform="translate(121.8,180.9) rotate(88)" fill="#2aa2e0"/>
<ellipse cx="0" cy="0" rx="6.6" ry="4.9" transform="translate(122.3,186.3) rotate(102)" fill="#2aa2e0"/>
<ellipse cx="0" cy="0" rx="7.1" ry="5.6" transform="translate(125.5,191.7) rotate(72)" fill="#2aa2e0"/>
<ellipse cx="0" cy="0" rx="6.8" ry="5.1" transform="translate(123.8,197.3) rotate(75)" fill="#2aa2e0"/>
<ellipse cx="0" cy="0" rx="7.1" ry="5.2" transform="translate(124.5,202.8) rotate(104)" fill="#2aa2e0"/>
<ellipse cx="0" cy="0" rx="6.9" ry="5.2" transform="translate(126.8,208.2) rotate(73)" fill="#2aa2e0"/>
<ellipse cx="0" cy="0" rx="7.5" ry="4.7" transform="translate(145.7,155.1) rotate(92)" fill="#2aa2e0"/>
<ellipse cx="0" cy="0" rx="7.2" ry="4.8" transform="translate(143.5,161.8) rotate(86)" fill="#2aa2e0"/>
<ellipse cx="0" cy="0" rx="6.7" ry="5.4" transform="translate(149.0,211.0) rotate(68)" fill="#2aa2e0"/>
<ellipse cx="0" cy="0" rx="6.1" ry="5.0" transform="translate(150.7,217.8) rotate(40)" fill="#2aa2e0"/>
<ellipse cx="0" cy="0" rx="7.5" ry="5.3" transform="translate(155.9,221.4) rotate(83)" fill="#2aa2e0"/>
<ellipse cx="0" cy="0" rx="6.8" ry="5.6" transform="translate(143.0,224.7) rotate(8)" fill="#2aa2e0"/>
<ellipse cx="0" cy="0" rx="7.5" ry="5.4" transform="translate(148.9,227.6) rotate(15)" fill="#2aa2e0"/>
<ellipse cx="0" cy="0" rx="7.1" ry="4.8" transform="translate(218.0,166.6) rotate(47)" fill="#2aa2e0"/>
<ellipse cx="0" cy="0" rx="7.0" ry="5.2" transform="translate(223.0,170.8) rotate(48)" fill="#2aa2e0"/>
<ellipse cx="0" cy="0" rx="5.9" ry="4.9" transform="translate(233.5,178.7) rotate(34)" fill="#2aa2e0"/>
<ellipse cx="0" cy="0" rx="7.0" ry="5.6" transform="translate(230.5,161.0) rotate(104)" fill="#2aa2e0"/>
<ellipse cx="0" cy="0" rx="6.8" ry="4.9" transform="translate(228.3,228.4) rotate(26)" fill="#2aa2e0"/>
<ellipse cx="0" cy="0" rx="6.3" ry="4.6" transform="translate(235.0,228.9) rotate(11)" fill="#2aa2e0"/>
<ellipse cx="0" cy="0" rx="7.0" ry="5.4" transform="translate(241.0,229.1) rotate(-5)" fill="#2aa2e0"/>
<ellipse cx="0" cy="0" rx="7.3" ry="5.1" transform="translate(247.0,230.1) rotate(22)" fill="#2aa2e0"/>
<ellipse cx="0" cy="0" rx="6.1" ry="4.7" transform="translate(257.8,226.8) rotate(-29)" fill="#2aa2e0"/>
<ellipse cx="0" cy="0" rx="6.5" ry="5.4" transform="translate(236.0,201.0) rotate(86)" fill="#2aa2e0"/>
<ellipse cx="0" cy="0" rx="6.8" ry="5.1" transform="translate(239.0,206.3) rotate(58)" fill="#2aa2e0"/>
<ellipse cx="0" cy="0" rx="6.2" ry="5.6" transform="translate(240.8,211.8) rotate(66)" fill="#2aa2e0"/>
<ellipse cx="0" cy="0" rx="5.9" ry="5.2" transform="translate(264.2,160.6) rotate(79)" fill="#2aa2e0"/>
<ellipse cx="0" cy="0" rx="7.7" ry="4.7" transform="translate(276.0,202.0) rotate(25)" fill="#2aa2e0"/>
<ellipse cx="0" cy="0" rx="7.1" ry="5.3" transform="translate(302.3,115.2) rotate(123)" fill="#2aa2e0"/>
<ellipse cx="0" cy="0" rx="6.7" ry="4.8" transform="translate(296.5,133.3) rotate(136)" fill="#2aa2e0"/>
<ellipse cx="0" cy="0" rx="7.0" ry="5.4" transform="translate(291.9,146.9) rotate(97)" fill="#2aa2e0"/>
<ellipse cx="0" cy="0" rx="6.9" ry="5.2" transform="translate(291.5,153.9) rotate(105)" fill="#2aa2e0"/>
<ellipse cx="0" cy="0" rx="6.9" ry="5.4" transform="translate(286.0,159.6) rotate(82)" fill="#2aa2e0"/>
<ellipse cx="0" cy="0" rx="7.6" ry="5.0" transform="translate(285.1,166.5) rotate(84)" fill="#2aa2e0"/>
<ellipse cx="0" cy="0" rx="6.7" ry="5.0" transform="translate(281.9,172.4) rotate(104)" fill="#2aa2e0"/>
<ellipse cx="0" cy="0" rx="7.5" ry="4.7" transform="translate(282.9,180.0) rotate(111)" fill="#2aa2e0"/>
<ellipse cx="0" cy="0" rx="6.5" ry="4.6" transform="translate(277.6,185.1) rotate(136)" fill="#2aa2e0"/>
<ellipse cx="0" cy="0" rx="6.6" ry="5.0" transform="translate(275.3,191.5) rotate(127)" fill="#2aa2e0"/>
<ellipse cx="0" cy="0" rx="7.9" ry="4.7" transform="translate(272.8,198.7) rotate(115)" fill="#2aa2e0"/>
<ellipse cx="0" cy="0" rx="6.4" ry="4.8" transform="translate(307.0,134.4) rotate(112)" fill="#2aa2e0"/>
<ellipse cx="0" cy="0" rx="7.8" ry="5.6" transform="translate(304.2,140.4) rotate(92)" fill="#2aa2e0"/>
<ellipse cx="0" cy="0" rx="7.7" ry="5.0" transform="translate(304.5,153.7) rotate(56)" fill="#2aa2e0"/>
<ellipse cx="0" cy="0" rx="7.2" ry="4.8" transform="translate(308.6,159.7) rotate(100)" fill="#2aa2e0"/>
<ellipse cx="0" cy="0" rx="7.4" ry="4.8" transform="translate(307.3,167.1) rotate(72)" fill="#2aa2e0"/>
<ellipse cx="0" cy="0" rx="6.0" ry="4.7" transform="translate(315.6,164.1) rotate(117)" fill="#2aa2e0"/>
<ellipse cx="0" cy="0" rx="5.7" ry="5.0" transform="translate(311.5,175.9) rotate(93)" fill="#2aa2e0"/>
<ellipse cx="0" cy="0" rx="7.2" ry="5.3" transform="translate(314.6,187.6) rotate(62)" fill="#2aa2e0"/>
<ellipse cx="0" cy="0" rx="5.7" ry="5.6" transform="translate(314.2,199.6) rotate(78)" fill="#2aa2e0"/>
<ellipse cx="0" cy="0" rx="6.5" ry="5.2" transform="translate(314.9,205.5) rotate(70)" fill="#2aa2e0"/>
<ellipse cx="0" cy="0" rx="6.4" ry="4.9" transform="translate(317.1,211.1) rotate(61)" fill="#2aa2e0"/>
<ellipse cx="0" cy="0" rx="6.1" ry="4.8" transform="translate(319.3,216.8) rotate(87)" fill="#2aa2e0"/>
<ellipse cx="0" cy="0" rx="5.8" ry="5.6" transform="translate(332.5,157.8) rotate(74)" fill="#2aa2e0"/>
<ellipse cx="0" cy="0" rx="5.7" ry="5.0" transform="translate(332.7,164.2) rotate(74)" fill="#2aa2e0"/>
<ellipse cx="0" cy="0" rx="6.4" ry="5.0" transform="translate(333.8,177.0) rotate(55)" fill="#2aa2e0"/>
<ellipse cx="0" cy="0" rx="7.5" ry="5.5" transform="translate(334.7,183.3) rotate(106)" fill="#2aa2e0"/>
<ellipse cx="0" cy="0" rx="6.9" ry="5.0" transform="translate(331.1,189.0) rotate(126)" fill="#2aa2e0"/>
<ellipse cx="0" cy="0" rx="6.4" ry="5.6" transform="translate(328.3,208.4) rotate(89)" fill="#2aa2e0"/>
<ellipse cx="0" cy="0" rx="5.8" ry="5.6" transform="translate(329.7,215.1) rotate(81)" fill="#2aa2e0"/>
<ellipse cx="0" cy="0" rx="7.0" ry="5.5" transform="translate(329.4,222.1) rotate(66)" fill="#2aa2e0"/>
<ellipse cx="0" cy="0" rx="7.8" ry="5.2" transform="translate(345.6,83.3) rotate(115)" fill="#2aa2e0"/>
<ellipse cx="0" cy="0" rx="6.3" ry="5.2" transform="translate(347.0,94.9) rotate(99)" fill="#2aa2e0"/>
<ellipse cx="0" cy="0" rx="7.7" ry="5.5" transform="translate(346.6,100.6) rotate(90)" fill="#2aa2e0"/>
<ellipse cx="0" cy="0" rx="7.8" ry="5.1" transform="translate(343.5,111.6) rotate(101)" fill="#2aa2e0"/>
<ellipse cx="0" cy="0" rx="6.5" ry="4.9" transform="translate(341.8,117.1) rotate(94)" fill="#2aa2e0"/>
<ellipse cx="0" cy="0" rx="7.7" ry="5.6" transform="translate(340.9,128.7) rotate(73)" fill="#2aa2e0"/>
<ellipse cx="0" cy="0" rx="7.8" ry="5.6" transform="translate(344.4,134.2) rotate(64)" fill="#2aa2e0"/>
<ellipse cx="0" cy="0" rx="6.4" ry="4.7" transform="translate(345.6,151.3) rotate(76)" fill="#2aa2e0"/>
<ellipse cx="0" cy="0" rx="6.0" ry="5.4" transform="translate(345.8,162.9) rotate(84)" fill="#2aa2e0"/>
<ellipse cx="0" cy="0" rx="8.0" ry="4.8" transform="translate(345.9,174.4) rotate(112)" fill="#2aa2e0"/>
<ellipse cx="0" cy="0" rx="5.9" ry="5.4" transform="translate(342.1,179.9) rotate(70)" fill="#2aa2e0"/>
<ellipse cx="0" cy="0" rx="5.8" ry="4.8" transform="translate(341.5,185.6) rotate(90)" fill="#2aa2e0"/>
<ellipse cx="0" cy="0" rx="6.9" ry="4.7" transform="translate(344.6,191.5) rotate(108)" fill="#2aa2e0"/>
<ellipse cx="0" cy="0" rx="5.8" ry="5.6" transform="translate(342.3,197.1) rotate(91)" fill="#2aa2e0"/>
<ellipse cx="0" cy="0" rx="8.0" ry="4.8" transform="translate(342.9,203.2) rotate(69)" fill="#2aa2e0"/>
<ellipse cx="0" cy="0" rx="6.5" ry="5.6" transform="translate(343.9,209.4) rotate(98)" fill="#2aa2e0"/>
<ellipse cx="0" cy="0" rx="6.3" ry="5.5" transform="translate(344.3,215.6) rotate(62)" fill="#2aa2e0"/>
<ellipse cx="0" cy="0" rx="5.9" ry="5.1" transform="translate(367.9,81.3) rotate(96)" fill="#2aa2e0"/>
<ellipse cx="0" cy="0" rx="7.3" ry="4.9" transform="translate(370.4,87.4) rotate(94)" fill="#2aa2e0"/>
<ellipse cx="0" cy="0" rx="6.4" ry="5.2" transform="translate(370.3,94.0) rotate(102)" fill="#2aa2e0"/>
<ellipse cx="0" cy="0" rx="7.3" ry="5.2" transform="translate(370.9,106.9) rotate(87)" fill="#2aa2e0"/>
<ellipse cx="0" cy="0" rx="5.8" ry="5.5" transform="translate(374.1,112.6) rotate(76)" fill="#2aa2e0"/>
<ellipse cx="0" cy="0" rx="6.7" ry="5.3" transform="translate(375.2,118.9) rotate(62)" fill="#2aa2e0"/>
<ellipse cx="0" cy="0" rx="6.0" ry="5.0" transform="translate(380.2,130.6) rotate(91)" fill="#2aa2e0"/>
<ellipse cx="0" cy="0" rx="6.3" ry="4.7" transform="translate(378.7,137.8) rotate(77)" fill="#2aa2e0"/>
<ellipse cx="0" cy="0" rx="6.4" ry="5.6" transform="translate(385.3,142.6) rotate(55)" fill="#2aa2e0"/>
<ellipse cx="0" cy="0" rx="8.0" ry="5.4" transform="translate(387.6,149.4) rotate(72)" fill="#2aa2e0"/>
<ellipse cx="0" cy="0" rx="6.5" ry="4.8" transform="translate(387.4,157.2) rotate(54)" fill="#2aa2e0"/>
<ellipse cx="0" cy="0" rx="7.3" ry="5.0" transform="translate(397.8,131.6) rotate(56)" fill="#2aa2e0"/>
<ellipse cx="0" cy="0" rx="5.9" ry="4.7" transform="translate(399.6,147.9) rotate(69)" fill="#2aa2e0"/>
<ellipse cx="0" cy="0" rx="7.7" ry="4.9" transform="translate(402.4,159.2) rotate(62)" fill="#2aa2e0"/>
<ellipse cx="0" cy="0" rx="6.2" ry="4.6" transform="translate(404.7,164.7) rotate(78)" fill="#2aa2e0"/>
<ellipse cx="0" cy="0" rx="6.2" ry="5.4" transform="translate(405.0,170.5) rotate(93)" fill="#2aa2e0"/>
<ellipse cx="0" cy="0" rx="7.3" ry="5.0" transform="translate(405.4,176.2) rotate(72)" fill="#2aa2e0"/>
<ellipse cx="0" cy="0" rx="7.1" ry="5.2" transform="translate(406.9,181.9) rotate(59)" fill="#2aa2e0"/>
<ellipse cx="0" cy="0" rx="6.2" ry="5.3" transform="translate(404.9,194.5) rotate(95)" fill="#2aa2e0"/>
<ellipse cx="0" cy="0" rx="5.8" ry="5.0" transform="translate(416.7,207.3) rotate(57)" fill="#2aa2e0"/>
<ellipse cx="0" cy="0" rx="6.7" ry="5.2" transform="translate(420.5,217.9) rotate(48)" fill="#2aa2e0"/>
<ellipse cx="0" cy="0" rx="7.4" ry="5.3" transform="translate(423.4,222.7) rotate(86)" fill="#2aa2e0"/>
<ellipse cx="0" cy="0" rx="7.6" ry="5.5" transform="translate(358.7,237.3) rotate(51)" fill="#2aa2e0"/>
<ellipse cx="0" cy="0" rx="6.0" ry="4.8" transform="translate(361.6,242.2) rotate(86)" fill="#2aa2e0"/>
<ellipse cx="0" cy="0" rx="7.2" ry="5.2" transform="translate(364.8,246.9) rotate(62)" fill="#2aa2e0"/>
<ellipse cx="0" cy="0" rx="6.4" ry="5.0" transform="translate(366.2,254.1) rotate(74)" fill="#2aa2e0"/>
<ellipse cx="0" cy="0" rx="7.2" ry="5.6" transform="translate(371.7,259.7) rotate(60)" fill="#2aa2e0"/>
<ellipse cx="0" cy="0" rx="7.0" ry="5.0" transform="translate(377.1,264.6) rotate(40)" fill="#2aa2e0"/>
<ellipse cx="0" cy="0" rx="5.8" ry="4.7" transform="translate(382.5,268.6) rotate(22)" fill="#2aa2e0"/>
<ellipse cx="0" cy="0" rx="7.7" ry="4.7" transform="translate(388.6,271.6) rotate(59)" fill="#2aa2e0"/>
<ellipse cx="0" cy="0" rx="6.1" ry="5.2" transform="translate(393.8,273.4) rotate(18)" fill="#2aa2e0"/>
<ellipse cx="0" cy="0" rx="7.1" ry="4.9" transform="translate(401.2,273.3) rotate(-15)" fill="#2aa2e0"/>
<ellipse cx="0" cy="0" rx="6.0" ry="4.8" transform="translate(288.7,197.2) rotate(64)" fill="#2aa2e0"/>
<ellipse cx="0" cy="0" rx="6.8" ry="5.0" transform="translate(296.0,210.5) rotate(74)" fill="#2aa2e0"/>
<ellipse cx="0" cy="0" rx="6.1" ry="4.9" transform="translate(483.9,116.9) rotate(-13)" fill="#2aa2e0"/>
<ellipse cx="0" cy="0" rx="7.7" ry="5.5" transform="translate(491.9,115.0) rotate(-19)" fill="#2aa2e0"/>
<ellipse cx="0" cy="0" rx="6.2" ry="5.1" transform="translate(498.8,112.1) rotate(-19)" fill="#2aa2e0"/>
<ellipse cx="0" cy="0" rx="7.5" ry="5.6" transform="translate(513.9,109.7) rotate(-10)" fill="#2aa2e0"/>
<ellipse cx="0" cy="0" rx="7.1" ry="4.9" transform="translate(521.2,111.8) rotate(15)" fill="#2aa2e0"/>
<ellipse cx="0" cy="0" rx="6.1" ry="4.6" transform="translate(475.3,134.8) rotate(107)" fill="#2aa2e0"/>
<ellipse cx="0" cy="0" rx="7.7" ry="4.7" transform="translate(478.5,141.9) rotate(94)" fill="#2aa2e0"/>
<ellipse cx="0" cy="0" rx="7.4" ry="5.6" transform="translate(474.8,148.5) rotate(101)" fill="#2aa2e0"/>
<ellipse cx="0" cy="0" rx="7.1" ry="5.0" transform="translate(476.1,161.8) rotate(78)" fill="#2aa2e0"/>
<ellipse cx="0" cy="0" rx="6.4" ry="4.8" transform="translate(481.3,167.6) rotate(52)" fill="#2aa2e0"/>
<ellipse cx="0" cy="0" rx="6.4" ry="5.2" transform="translate(481.5,175.0) rotate(66)" fill="#2aa2e0"/>
<ellipse cx="0" cy="0" rx="7.4" ry="4.7" transform="translate(482.0,182.3) rotate(62)" fill="#2aa2e0"/>
<ellipse cx="0" cy="0" rx="6.6" ry="5.3" transform="translate(484.1,188.5) rotate(51)" fill="#2aa2e0"/>
<ellipse cx="0" cy="0" rx="7.2" ry="5.5" transform="translate(493.1,196.5) rotate(76)" fill="#2aa2e0"/>
<ellipse cx="0" cy="0" rx="7.6" ry="5.3" transform="translate(494.3,202.7) rotate(26)" fill="#2aa2e0"/>
<ellipse cx="0" cy="0" rx="5.7" ry="5.3" transform="translate(499.2,207.8) rotate(46)" fill="#2aa2e0"/>
<ellipse cx="0" cy="0" rx="6.4" ry="5.4" transform="translate(509.4,213.4) rotate(-3)" fill="#2aa2e0"/>
<ellipse cx="0" cy="0" rx="8.0" ry="5.1" transform="translate(516.7,210.8) rotate(-34)" fill="#2aa2e0"/>
<ellipse cx="0" cy="0" rx="6.1" ry="4.9" transform="translate(527.6,204.2) rotate(-10)" fill="#2aa2e0"/>
<ellipse cx="0" cy="0" rx="6.8" ry="4.9" transform="translate(532.6,201.6) rotate(-14)" fill="#2aa2e0"/>
<ellipse cx="0" cy="0" rx="6.0" ry="5.0" transform="translate(543.8,195.6) rotate(-24)" fill="#2aa2e0"/>
<ellipse cx="0" cy="0" rx="5.7" ry="5.3" transform="translate(536.6,128.2) rotate(76)" fill="#2aa2e0"/>
<ellipse cx="0" cy="0" rx="6.1" ry="5.3" transform="translate(536.7,135.6) rotate(82)" fill="#2aa2e0"/>
<ellipse cx="0" cy="0" rx="6.0" ry="5.2" transform="translate(544.1,148.0) rotate(92)" fill="#2aa2e0"/>
<ellipse cx="0" cy="0" rx="7.3" ry="5.4" transform="translate(545.5,154.7) rotate(103)" fill="#2aa2e0"/>
<ellipse cx="0" cy="0" rx="6.3" ry="4.7" transform="translate(545.9,161.5) rotate(84)" fill="#2aa2e0"/>
<ellipse cx="0" cy="0" rx="6.3" ry="5.5" transform="translate(547.4,168.2) rotate(103)" fill="#2aa2e0"/>
<ellipse cx="0" cy="0" rx="7.4" ry="5.2" transform="translate(544.8,175.2) rotate(79)" fill="#2aa2e0"/>
<ellipse cx="0" cy="0" rx="5.7" ry="5.2" transform="translate(548.8,181.6) rotate(92)" fill="#2aa2e0"/>
<ellipse cx="0" cy="0" rx="7.6" ry="5.2" transform="translate(497.3,137.1) rotate(72)" fill="#2aa2e0"/>
<ellipse cx="0" cy="0" rx="7.3" ry="5.6" transform="translate(502.0,141.2) rotate(61)" fill="#2aa2e0"/>
<ellipse cx="0" cy="0" rx="6.8" ry="5.1" transform="translate(505.8,154.4) rotate(92)" fill="#2aa2e0"/>
<ellipse cx="0" cy="0" rx="7.5" ry="5.1" transform="translate(502.6,161.7) rotate(84)" fill="#2aa2e0"/>
<ellipse cx="0" cy="0" rx="8.0" ry="4.8" transform="translate(515.4,133.6) rotate(57)" fill="#2aa2e0"/>
<ellipse cx="0" cy="0" rx="7.5" ry="5.5" transform="translate(516.3,140.8) rotate(81)" fill="#2aa2e0"/>
<ellipse cx="0" cy="0" rx="5.9" ry="5.0" transform="translate(519.7,153.0) rotate(120)" fill="#2aa2e0"/>
<ellipse cx="0" cy="0" rx="7.2" ry="5.1" transform="translate(522.1,160.4) rotate(88)" fill="#2aa2e0"/>
<ellipse cx="0" cy="0" rx="6.9" ry="5.1" transform="translate(520.1,166.9) rotate(99)" fill="#2aa2e0"/>
<ellipse cx="0" cy="0" rx="7.9" ry="5.1" transform="translate(517.6,173.2) rotate(48)" fill="#2aa2e0"/>
<ellipse cx="0" cy="0" rx="5.7" ry="4.7" transform="translate(525.4,181.8) rotate(67)" fill="#2aa2e0"/>
<ellipse cx="0" cy="0" rx="7.7" ry="4.8" transform="translate(506.9,183.1) rotate(41)" fill="#2aa2e0"/>
<ellipse cx="0" cy="0" rx="7.8" ry="4.7" transform="translate(513.8,186.2) rotate(69)" fill="#2aa2e0"/>
<ellipse cx="0" cy="0" rx="5.8" ry="5.4" transform="translate(517.0,96.8) rotate(68)" fill="#2aa2e0"/>
<ellipse cx="0" cy="0" rx="6.4" ry="5.5" transform="translate(520.2,104.0) rotate(77)" fill="#2aa2e0"/>
<ellipse cx="0" cy="0" rx="7.9" ry="5.1" transform="translate(529.8,99.1) rotate(91)" fill="#2aa2e0"/>
<ellipse cx="0" cy="0" rx="7.9" ry="5.3" transform="translate(527.2,106.3) rotate(85)" fill="#2aa2e0"/>
<ellipse cx="0" cy="0" rx="6.1" ry="4.7" transform="translate(437.2,121.0) rotate(57)" fill="#2aa2e0"/>
<ellipse cx="0" cy="0" rx="7.0" ry="5.4" transform="translate(437.7,126.6) rotate(65)" fill="#2aa2e0"/>
<ellipse cx="0" cy="0" rx="7.0" ry="4.7" transform="translate(441.1,131.6) rotate(59)" fill="#2aa2e0"/>
<ellipse cx="0" cy="0" rx="5.8" ry="5.2" transform="translate(444.8,142.7) rotate(92)" fill="#2aa2e0"/>
<ellipse cx="0" cy="0" rx="6.0" ry="4.7" transform="translate(443.1,156.0) rotate(95)" fill="#2aa2e0"/>
<ellipse cx="0" cy="0" rx="7.5" ry="5.1" transform="translate(445.1,162.1) rotate(88)" fill="#2aa2e0"/>
<ellipse cx="0" cy="0" rx="5.9" ry="4.9" transform="translate(453.8,180.0) rotate(91)" fill="#2aa2e0"/>
<ellipse cx="0" cy="0" rx="6.7" ry="5.4" transform="translate(455.2,193.7) rotate(70)" fill="#2aa2e0"/>
<ellipse cx="0" cy="0" rx="6.0" ry="5.0" transform="translate(459.9,199.5) rotate(63)" fill="#2aa2e0"/>
<ellipse cx="0" cy="0" rx="6.2" ry="4.7" transform="translate(462.3,213.8) rotate(72)" fill="#2aa2e0"/>
<ellipse cx="0" cy="0" rx="7.1" ry="5.2" transform="translate(465.0,220.4) rotate(65)" fill="#2aa2e0"/>
<ellipse cx="0" cy="0" rx="8.0" ry="5.0" transform="translate(471.5,232.5) rotate(42)" fill="#2aa2e0"/>
<ellipse cx="0" cy="0" rx="6.1" ry="5.2" transform="translate(401.4,143.5) rotate(62)" fill="#2aa2e0"/>
<ellipse cx="0" cy="0" rx="7.7" ry="5.6" transform="translate(403.0,149.7) rotate(81)" fill="#2aa2e0"/>
<ellipse cx="0" cy="0" rx="6.3" ry="5.5" transform="translate(403.6,156.2) rotate(87)" fill="#2aa2e0"/>
<ellipse cx="0" cy="0" rx="6.9" ry="4.9" transform="translate(408.5,161.6) rotate(53)" fill="#2aa2e0"/>
<ellipse cx="0" cy="0" rx="6.0" ry="5.0" transform="translate(407.3,168.3) rotate(99)" fill="#2aa2e0"/>
<ellipse cx="0" cy="0" rx="7.5" ry="4.8" transform="translate(411.9,173.6) rotate(56)" fill="#2aa2e0"/>
<ellipse cx="0" cy="0" rx="6.4" ry="5.0" transform="translate(411.1,180.1) rotate(84)" fill="#2aa2e0"/>
<ellipse cx="0" cy="0" rx="7.2" ry="5.0" transform="translate(412.7,186.0) rotate(76)" fill="#2aa2e0"/>
<ellipse cx="0" cy="0" rx="7.0" ry="5.6" transform="translate(420.7,201.5) rotate(40)" fill="#2aa2e0"/>
<ellipse cx="0" cy="0" rx="6.1" ry="5.1" transform="translate(425.6,211.6) rotate(65)" fill="#2aa2e0"/>
<ellipse cx="0" cy="0" rx="5.7" ry="5.6" transform="translate(427.3,217.4) rotate(83)" fill="#2aa2e0"/>
<ellipse cx="0" cy="0" rx="6.2" ry="4.9" transform="translate(425.6,224.1) rotate(61)" fill="#2aa2e0"/>
<ellipse cx="0" cy="0" rx="7.1" ry="5.2" transform="translate(428.7,229.3) rotate(83)" fill="#2aa2e0"/>
<ellipse cx="0" cy="0" rx="5.7" ry="4.7" transform="translate(438.2,248.6) rotate(71)" fill="#2aa2e0"/>
<ellipse cx="0" cy="0" rx="7.9" ry="4.8" transform="translate(453.5,251.7) rotate(-20)" fill="#2aa2e0"/>
<ellipse cx="0" cy="0" rx="7.0" ry="5.1" transform="translate(534.5,231.9) rotate(105)" fill="#2aa2e0"/>
<ellipse cx="0" cy="0" rx="6.8" ry="5.4" transform="translate(534.8,238.3) rotate(104)" fill="#2aa2e0"/>
<ellipse cx="0" cy="0" rx="6.4" ry="4.7" transform="translate(537.4,253.7) rotate(70)" fill="#2aa2e0"/>
<ellipse cx="0" cy="0" rx="6.1" ry="5.0" transform="translate(535.9,261.2) rotate(81)" fill="#2aa2e0"/>
<ellipse cx="0" cy="0" rx="8.0" ry="5.0" transform="translate(562.9,251.8) rotate(11)" fill="#2aa2e0"/>
<ellipse cx="0" cy="0" rx="6.8" ry="5.5" transform="translate(569.1,252.0) rotate(3)" fill="#2aa2e0"/>
<ellipse cx="0" cy="0" rx="6.8" ry="4.8" transform="translate(551.1,267.9) rotate(57)" fill="#2aa2e0"/>
<ellipse cx="0" cy="0" rx="6.0" ry="5.5" transform="translate(557.4,126.6) rotate(101)" fill="#2aa2e0"/>
<ellipse cx="0" cy="0" rx="6.3" ry="5.1" transform="translate(571.5,152.9) rotate(83)" fill="#2aa2e0"/>
<ellipse cx="0" cy="0" rx="5.9" ry="5.3" transform="translate(570.4,159.7) rotate(67)" fill="#2aa2e0"/>
<ellipse cx="0" cy="0" rx="5.9" ry="5.1" transform="translate(570.8,166.1) rotate(86)" fill="#2aa2e0"/>
<ellipse cx="0" cy="0" rx="6.8" ry="4.6" transform="translate(575.1,171.7) rotate(104)" fill="#2aa2e0"/>
<ellipse cx="0" cy="0" rx="6.0" ry="5.4" transform="translate(578.5,176.3) rotate(39)" fill="#2aa2e0"/>
<ellipse cx="0" cy="0" rx="6.4" ry="4.8" transform="translate(581.8,181.3) rotate(33)" fill="#2aa2e0"/>
<ellipse cx="0" cy="0" rx="7.2" ry="4.9" transform="translate(581.9,188.5) rotate(59)" fill="#2aa2e0"/>
<ellipse cx="0" cy="0" rx="7.1" ry="5.0" transform="translate(592.8,122.7) rotate(75)" fill="#2aa2e0"/>
<ellipse cx="0" cy="0" rx="6.4" ry="5.3" transform="translate(562.1,192.2) rotate(66)" fill="#2aa2e0"/>
<ellipse cx="0" cy="0" rx="7.4" ry="5.4" transform="translate(565.1,197.4) rotate(37)" fill="#2aa2e0"/>
<ellipse cx="0" cy="0" rx="6.8" ry="5.5" transform="translate(567.7,203.0) rotate(51)" fill="#2aa2e0"/>
<ellipse cx="0" cy="0" rx="6.7" ry="4.7" transform="translate(574.0,129.5) rotate(61)" fill="#2aa2e0"/>
<ellipse cx="0" cy="0" rx="6.2" ry="5.5" transform="translate(577.2,136.8) rotate(86)" fill="#2aa2e0"/>
<ellipse cx="0" cy="0" rx="7.5" ry="5.6" transform="translate(595.3,174.5) rotate(85)" fill="#2aa2e0"/>
<ellipse cx="0" cy="0" rx="7.5" ry="5.4" transform="translate(595.3,182.2) rotate(79)" fill="#2aa2e0"/>
<ellipse cx="0" cy="0" rx="7.5" ry="5.2" transform="translate(629.1,158.4) rotate(63)" fill="#2aa2e0"/>
<ellipse cx="0" cy="0" rx="7.9" ry="5.5" transform="translate(633.0,171.9) rotate(51)" fill="#2aa2e0"/>
<ellipse cx="0" cy="0" rx="7.2" ry="5.1" transform="translate(611.6,123.1) rotate(97)" fill="#2aa2e0"/>
<ellipse cx="0" cy="0" rx="5.7" ry="4.8" transform="translate(614.1,134.9) rotate(77)" fill="#2aa2e0"/>
<ellipse cx="0" cy="0" rx="7.3" ry="5.1" transform="translate(613.3,141.1) rotate(98)" fill="#2aa2e0"/>
<ellipse cx="0" cy="0" rx="6.8" ry="4.6" transform="translate(617.7,163.9) rotate(85)" fill="#2aa2e0"/>
<ellipse cx="0" cy="0" rx="6.2" ry="4.8" transform="translate(617.3,169.7) rotate(96)" fill="#2aa2e0"/>
<ellipse cx="0" cy="0" rx="7.8" ry="4.9" transform="translate(618.4,186.6) rotate(106)" fill="#2aa2e0"/>
<ellipse cx="0" cy="0" rx="6.3" ry="5.3" transform="translate(621.4,192.0) rotate(86)" fill="#2aa2e0"/>
<ellipse cx="0" cy="0" rx="6.5" ry="4.6" transform="translate(641.3,114.7) rotate(72)" fill="#2aa2e0"/>
<ellipse cx="0" cy="0" rx="6.6" ry="4.6" transform="translate(648.8,126.7) rotate(68)" fill="#2aa2e0"/>
<ellipse cx="0" cy="0" rx="6.5" ry="4.3" transform="translate(650.3,133.5) rotate(53)" fill="#2aa2e0"/>
<ellipse cx="0" cy="0" rx="7.0" ry="5.0" transform="translate(655.4,146.4) rotate(88)" fill="#2aa2e0"/>
<ellipse cx="0" cy="0" rx="6.7" ry="4.8" transform="translate(659.5,152.3) rotate(13)" fill="#2aa2e0"/>
<ellipse cx="0" cy="0" rx="6.4" ry="4.4" transform="translate(654.3,115.8) rotate(104)" fill="#2aa2e0"/>
<ellipse cx="0" cy="0" rx="6.9" ry="5.0" transform="translate(648.0,128.3) rotate(105)" fill="#2aa2e0"/>
<ellipse cx="0" cy="0" rx="6.4" ry="4.4" transform="translate(647.2,135.0) rotate(87)" fill="#2aa2e0"/>
<ellipse cx="0" cy="0" rx="6.5" ry="4.2" transform="translate(645.6,141.7) rotate(82)" fill="#2aa2e0"/>
<ellipse cx="0" cy="0" rx="6.9" ry="4.3" transform="translate(646.8,149.1) rotate(56)" fill="#2aa2e0"/>
<ellipse cx="0" cy="0" rx="6.2" ry="4.4" transform="translate(650.3,155.4) rotate(83)" fill="#2aa2e0"/>
<ellipse cx="0" cy="0" rx="5.4" ry="4.9" transform="translate(653.6,161.7) rotate(95)" fill="#2aa2e0"/>
<ellipse cx="0" cy="0" rx="6.8" ry="4.8" transform="translate(654.7,168.4) rotate(130)" fill="#2aa2e0"/>
<ellipse cx="0" cy="0" rx="5.1" ry="4.5" transform="translate(649.8,172.3) rotate(121)" fill="#2aa2e0"/>
<ellipse cx="0" cy="0" rx="5.6" ry="4.5" transform="translate(645.3,176.6) rotate(118)" fill="#2aa2e0"/>
<ellipse cx="0" cy="0" rx="6.3" ry="4.2" transform="translate(666.0,202.2) rotate(96)" fill="#2aa2e0"/>
<ellipse cx="0" cy="0" rx="5.7" ry="5.0" transform="translate(665.5,214.0) rotate(86)" fill="#2aa2e0"/>
<ellipse cx="0" cy="0" rx="6.0" ry="4.6" transform="translate(666.9,225.3) rotate(68)" fill="#2aa2e0"/>
<ellipse cx="0" cy="0" rx="5.5" ry="5.0" transform="translate(672.6,235.6) rotate(86)" fill="#2aa2e0"/>
<ellipse cx="0" cy="0" rx="6.5" ry="4.2" transform="translate(674.0,241.1) rotate(62)" fill="#2aa2e0"/>
<ellipse cx="0" cy="0" rx="6.2" ry="4.3" transform="translate(673.0,247.3) rotate(79)" fill="#2aa2e0"/>
<ellipse cx="0" cy="0" rx="6.9" ry="4.7" transform="translate(674.7,253.0) rotate(72)" fill="#2aa2e0"/>
<ellipse cx="0" cy="0" rx="5.8" ry="4.5" transform="translate(678.5,258.3) rotate(79)" fill="#2aa2e0"/>
<ellipse cx="0" cy="0" rx="5.4" ry="4.3" transform="translate(680.5,263.9) rotate(60)" fill="#2aa2e0"/>
<ellipse cx="0" cy="0" rx="6.8" ry="4.9" transform="translate(680.1,270.2) rotate(95)" fill="#2aa2e0"/>
<ellipse cx="0" cy="0" rx="6.6" ry="5.0" transform="translate(683.3,275.0) rotate(40)" fill="#2aa2e0"/>
<ellipse cx="0" cy="0" rx="5.8" ry="5.0" transform="translate(688.3,278.5) rotate(39)" fill="#2aa2e0"/>
<ellipse cx="0" cy="0" rx="7.0" ry="5.0" transform="translate(692.7,282.6) rotate(57)" fill="#2aa2e0"/>
<ellipse cx="0" cy="0" rx="6.2" ry="4.7" transform="translate(698.4,285.1) rotate(62)" fill="#2aa2e0"/>
<ellipse cx="0" cy="0" rx="6.3" ry="4.7" transform="translate(705.2,297.2) rotate(67)" fill="#2aa2e0"/>
<ellipse cx="0" cy="0" rx="6.7" ry="5.1" transform="translate(710.1,302.0) rotate(55)" fill="#2aa2e0"/>
<ellipse cx="0" cy="0" rx="6.9" ry="4.7" transform="translate(717.0,300.8) rotate(16)" fill="#2aa2e0"/>
<ellipse cx="0" cy="0" rx="6.7" ry="4.8" transform="translate(722.2,304.4) rotate(-7)" fill="#2aa2e0"/>
<ellipse cx="0" cy="0" rx="5.4" ry="4.4" transform="translate(703.5,252.9) rotate(79)" fill="#2aa2e0"/>
<ellipse cx="0" cy="0" rx="5.6" ry="4.8" transform="translate(710.3,271.0) rotate(80)" fill="#2aa2e0"/>
<ellipse cx="0" cy="0" rx="5.6" ry="4.8" transform="translate(714.0,276.4) rotate(43)" fill="#2aa2e0"/>
<ellipse cx="0" cy="0" rx="5.2" ry="4.6" transform="translate(717.9,119.0) rotate(75)" fill="#2aa2e0"/>
<ellipse cx="0" cy="0" rx="6.3" ry="5.0" transform="translate(721.8,126.0) rotate(57)" fill="#2aa2e0"/>
<ellipse cx="0" cy="0" rx="5.2" ry="5.0" transform="translate(724.8,132.1) rotate(75)" fill="#2aa2e0"/>
<ellipse cx="0" cy="0" rx="6.8" ry="4.5" transform="translate(727.6,137.5) rotate(57)" fill="#2aa2e0"/>
<ellipse cx="0" cy="0" rx="6.0" ry="4.6" transform="translate(729.9,117.9) rotate(63)" fill="#2aa2e0"/>
<ellipse cx="0" cy="0" rx="5.3" ry="4.2" transform="translate(730.5,124.3) rotate(91)" fill="#2aa2e0"/>
<ellipse cx="0" cy="0" rx="6.9" ry="4.3" transform="translate(730.9,137.2) rotate(98)" fill="#2aa2e0"/>
<ellipse cx="0" cy="0" rx="7.1" ry="4.3" transform="translate(738.0,153.5) rotate(62)" fill="#2aa2e0"/>
<ellipse cx="0" cy="0" rx="5.8" ry="4.4" transform="translate(738.4,161.4) rotate(93)" fill="#2aa2e0"/>
<ellipse cx="0" cy="0" rx="6.2" ry="5.0" transform="translate(718.3,211.2) rotate(-46)" fill="#2aa2e0"/>
<ellipse cx="0" cy="0" rx="5.5" ry="5.0" transform="translate(723.5,193.6) rotate(-62)" fill="#2aa2e0"/>
<ellipse cx="0" cy="0" rx="5.5" ry="4.9" transform="translate(725.6,188.0) rotate(-56)" fill="#2aa2e0"/>
<ellipse cx="0" cy="0" rx="6.1" ry="4.2" transform="translate(729.4,183.0) rotate(-67)" fill="#2aa2e0"/>
<ellipse cx="0" cy="0" rx="6.2" ry="4.4" transform="translate(730.8,182.9) rotate(47)" fill="#2aa2e0"/>
<ellipse cx="0" cy="0" rx="5.9" ry="4.9" transform="translate(737.1,192.8) rotate(68)" fill="#2aa2e0"/>
<ellipse cx="0" cy="0" rx="6.0" ry="4.9" transform="translate(739.8,191.3) rotate(-68)" fill="#2aa2e0"/>
<ellipse cx="0" cy="0" rx="5.3" ry="4.8" transform="translate(747.0,189.5) rotate(-51)" fill="#2aa2e0"/>
<ellipse cx="0" cy="0" rx="6.5" ry="5.0" transform="translate(749.5,183.5) rotate(-65)" fill="#2aa2e0"/>
<ellipse cx="0" cy="0" rx="5.9" ry="4.8" transform="translate(754.5,180.5) rotate(-51)" fill="#2aa2e0"/>
<ellipse cx="0" cy="0" rx="5.6" ry="4.7" transform="translate(769.3,187.5) rotate(-54)" fill="#2aa2e0"/>
<ellipse cx="0" cy="0" rx="5.7" ry="4.6" transform="translate(777.7,184.5) rotate(-38)" fill="#2aa2e0"/>
<ellipse cx="0" cy="0" rx="7.1" ry="4.2" transform="translate(779.6,183.0) rotate(56)" fill="#2aa2e0"/>
<ellipse cx="0" cy="0" rx="5.4" ry="4.8" transform="translate(784.3,188.1) rotate(50)" fill="#2aa2e0"/>
<ellipse cx="0" cy="0" rx="5.4" ry="4.9" transform="translate(765.9,217.1) rotate(29)" fill="#2aa2e0"/>
<ellipse cx="0" cy="0" rx="5.9" ry="4.9" transform="translate(781.6,226.2) rotate(27)" fill="#2aa2e0"/>
<ellipse cx="0" cy="0" rx="5.4" ry="4.3" transform="translate(793.1,211.1) rotate(49)" fill="#2aa2e0"/>
<ellipse cx="0" cy="0" rx="5.4" ry="4.7" transform="translate(795.2,216.7) rotate(40)" fill="#2aa2e0"/>
<ellipse cx="0" cy="0" rx="6.4" ry="5.0" transform="translate(799.9,220.2) rotate(38)" fill="#2aa2e0"/>
<ellipse cx="0" cy="0" rx="5.5" ry="4.4" transform="translate(804.3,224.0) rotate(51)" fill="#2aa2e0"/>
<ellipse cx="0" cy="0" rx="6.3" ry="4.9" transform="translate(809.0,235.2) rotate(60)" fill="#2aa2e0"/>
<ellipse cx="0" cy="0" rx="5.9" ry="4.5" transform="translate(816.4,245.4) rotate(49)" fill="#2aa2e0"/>
<ellipse cx="0" cy="0" rx="6.7" ry="4.8" transform="translate(821.2,249.8) rotate(73)" fill="#2aa2e0"/>
<ellipse cx="0" cy="0" rx="5.7" ry="4.3" transform="translate(823.6,255.8) rotate(43)" fill="#2aa2e0"/>
<ellipse cx="0" cy="0" rx="6.6" ry="4.6" transform="translate(882.4,189.2) rotate(73)" fill="#2aa2e0"/>
<ellipse cx="0" cy="0" rx="6.5" ry="4.2" transform="translate(885.4,194.9) rotate(60)" fill="#2aa2e0"/>
<ellipse cx="0" cy="0" rx="7.0" ry="4.5" transform="translate(891.5,212.9) rotate(62)" fill="#2aa2e0"/>
<ellipse cx="0" cy="0" rx="6.3" ry="4.5" transform="translate(895.6,225.0) rotate(53)" fill="#2aa2e0"/>
<ellipse cx="0" cy="0" rx="6.4" ry="4.3" transform="translate(898.0,231.0) rotate(83)" fill="#2aa2e0"/>
<ellipse cx="0" cy="0" rx="6.0" ry="4.9" transform="translate(830.5,210.9) rotate(-61)" fill="#2aa2e0"/>
<ellipse cx="0" cy="0" rx="5.6" ry="4.9" transform="translate(836.4,186.6) rotate(-101)" fill="#2aa2e0"/>
<ellipse cx="0" cy="0" rx="5.3" ry="4.3" transform="translate(834.3,180.5) rotate(-71)" fill="#2aa2e0"/>
<ellipse cx="0" cy="0" rx="7.0" ry="4.4" transform="translate(852.9,209.0) rotate(80)" fill="#2aa2e0"/>
<ellipse cx="0" cy="0" rx="5.5" ry="5.0" transform="translate(858.6,219.9) rotate(47)" fill="#2aa2e0"/>
<ellipse cx="0" cy="0" rx="5.6" ry="4.8" transform="translate(861.3,225.4) rotate(56)" fill="#2aa2e0"/>
<ellipse cx="0" cy="0" rx="7.0" ry="4.8" transform="translate(855.2,229.3) rotate(19)" fill="#2aa2e0"/>
<ellipse cx="0" cy="0" rx="5.5" ry="4.3" transform="translate(866.2,226.3) rotate(-21)" fill="#2aa2e0"/>
<ellipse cx="0" cy="0" rx="5.7" ry="4.4" transform="translate(853.4,121.9) rotate(89)" fill="#2aa2e0"/>
<ellipse cx="0" cy="0" rx="6.3" ry="5.0" transform="translate(854.8,138.4) rotate(104)" fill="#2aa2e0"/>
<ellipse cx="0" cy="0" rx="6.7" ry="4.3" transform="translate(854.6,144.0) rotate(68)" fill="#2aa2e0"/>
<ellipse cx="0" cy="0" rx="5.1" ry="4.5" transform="translate(858.1,149.2) rotate(99)" fill="#2aa2e0"/>
<ellipse cx="0" cy="0" rx="5.5" ry="4.3" transform="translate(863.9,159.6) rotate(37)" fill="#2aa2e0"/>
<ellipse cx="0" cy="0" rx="5.2" ry="4.7" transform="translate(869.7,162.8) rotate(43)" fill="#2aa2e0"/>
<ellipse cx="0" cy="0" rx="6.6" ry="4.3" transform="translate(873.3,168.2) rotate(20)" fill="#2aa2e0"/>
<ellipse cx="0" cy="0" rx="5.9" ry="4.6" transform="translate(883.8,210.3) rotate(56)" fill="#2aa2e0"/>
<ellipse cx="0" cy="0" rx="5.6" ry="4.5" transform="translate(887.9,216.2) rotate(67)" fill="#2aa2e0"/>
<ellipse cx="0" cy="0" rx="5.7" ry="5.0" transform="translate(886.6,223.7) rotate(55)" fill="#2aa2e0"/>
<ellipse cx="0" cy="0" rx="5.3" ry="4.2" transform="translate(897.5,159.6) rotate(71)" fill="#2aa2e0"/>
<ellipse cx="0" cy="0" rx="6.5" ry="4.3" transform="translate(908.7,174.4) rotate(76)" fill="#2aa2e0"/>
<ellipse cx="0" cy="0" rx="5.7" ry="4.3" transform="translate(911.4,179.8) rotate(65)" fill="#2aa2e0"/>
<ellipse cx="0" cy="0" rx="6.1" ry="4.3" transform="translate(915.8,190.4) rotate(37)" fill="#2aa2e0"/>
<ellipse cx="0" cy="0" rx="6.4" ry="4.7" transform="translate(921.3,193.5) rotate(34)" fill="#2aa2e0"/>
<ellipse cx="0" cy="0" rx="5.2" ry="4.4" transform="translate(924.8,199.1) rotate(53)" fill="#2aa2e0"/>
<ellipse cx="0" cy="0" rx="6.6" ry="4.6" transform="translate(937.0,203.4) rotate(34)" fill="#2aa2e0"/>
<ellipse cx="0" cy="0" rx="6.7" ry="4.9" transform="translate(917.6,154.7) rotate(111)" fill="#2aa2e0"/>
<ellipse cx="0" cy="0" rx="5.5" ry="4.5" transform="translate(913.6,160.5) rotate(117)" fill="#2aa2e0"/>
<ellipse cx="0" cy="0" rx="6.4" ry="4.7" transform="translate(904.3,227.3) rotate(70)" fill="#2aa2e0"/>
<ellipse cx="0" cy="0" rx="6.2" ry="4.3" transform="translate(902.4,234.0) rotate(88)" fill="#2aa2e0"/>
<ellipse cx="0" cy="0" rx="5.7" ry="4.4" transform="translate(905.4,239.1) rotate(56)" fill="#2aa2e0"/>
<ellipse cx="0" cy="0" rx="6.0" ry="4.3" transform="translate(910.3,243.6) rotate(71)" fill="#2aa2e0"/>
<ellipse cx="0" cy="0" rx="6.8" ry="4.7" transform="translate(963.2,234.6) rotate(58)" fill="#2aa2e0"/>
<ellipse cx="0" cy="0" rx="5.7" ry="4.7" transform="translate(965.2,246.8) rotate(50)" fill="#2aa2e0"/>
<ellipse cx="0" cy="0" rx="6.8" ry="5.0" transform="translate(969.1,251.4) rotate(55)" fill="#2aa2e0"/>
<ellipse cx="0" cy="0" rx="5.8" ry="4.4" transform="translate(975.3,261.7) rotate(54)" fill="#2aa2e0"/>
<ellipse cx="0" cy="0" rx="7.0" ry="4.3" transform="translate(978.0,267.1) rotate(51)" fill="#2aa2e0"/>
<ellipse cx="0" cy="0" rx="6.8" ry="5.1" transform="translate(981.6,271.0) rotate(21)" fill="#2aa2e0"/>
<ellipse cx="0" cy="0" rx="6.7" ry="4.3" transform="translate(991.0,276.8) rotate(29)" fill="#2aa2e0"/>
<ellipse cx="0" cy="0" rx="5.7" ry="4.9" transform="translate(971.3,203.6) rotate(107)" fill="#2aa2e0"/>
<ellipse cx="0" cy="0" rx="5.9" ry="4.4" transform="translate(991.3,187.8) rotate(64)" fill="#2aa2e0"/>
<ellipse cx="0" cy="0" rx="6.6" ry="4.6" transform="translate(992.9,193.4) rotate(109)" fill="#2aa2e0"/>
<ellipse cx="0" cy="0" rx="7.0" ry="4.5" transform="translate(992.4,205.0) rotate(78)" fill="#2aa2e0"/>
<ellipse cx="0" cy="0" rx="6.3" ry="5.0" transform="translate(994.5,210.5) rotate(61)" fill="#2aa2e0"/>
<ellipse cx="0" cy="0" rx="6.8" ry="4.4" transform="translate(993.8,222.1) rotate(100)" fill="#2aa2e0"/>
<ellipse cx="0" cy="0" rx="5.3" ry="4.9" transform="translate(991.6,234.3) rotate(91)" fill="#2aa2e0"/>
<ellipse cx="0" cy="0" rx="6.5" ry="5.0" transform="translate(988.2,239.9) rotate(112)" fill="#2aa2e0"/>
<ellipse cx="0" cy="0" rx="5.6" ry="4.7" transform="translate(987.7,246.5) rotate(109)" fill="#2aa2e0"/>
<ellipse cx="0" cy="0" rx="5.2" ry="4.9" transform="translate(914.3,251.3) rotate(-2)" fill="#2aa2e0"/>
<ellipse cx="0" cy="0" rx="5.4" ry="4.3" transform="translate(919.9,253.5) rotate(24)" fill="#2aa2e0"/>
<ellipse cx="0" cy="0" rx="6.8" ry="4.8" transform="translate(924.9,257.8) rotate(-0)" fill="#2aa2e0"/>
<ellipse cx="0" cy="0" rx="6.7" ry="4.5" transform="translate(763.0,172.5) rotate(51)" fill="#2aa2e0"/>
<ellipse cx="0" cy="0" rx="7.0" ry="4.9" transform="translate(769.2,177.2) rotate(58)" fill="#2aa2e0"/>
<ellipse cx="0" cy="0" rx="5.8" ry="5.1" transform="translate(775.7,190.1) rotate(70)" fill="#2aa2e0"/>
<ellipse cx="0" cy="0" rx="5.8" ry="4.6" transform="translate(780.0,196.1) rotate(47)" fill="#2aa2e0"/>
<ellipse cx="0" cy="0" rx="5.3" ry="4.3" transform="translate(802.0,222.5) rotate(48)" fill="#2aa2e0"/>
<ellipse cx="0" cy="0" rx="6.4" ry="4.8" transform="translate(824.2,258.8) rotate(42)" fill="#2aa2e0"/>
<ellipse cx="0" cy="0" rx="5.5" ry="4.5" transform="translate(833.1,260.8) rotate(21)" fill="#2aa2e0"/>
<ellipse cx="0" cy="0" rx="4.9" ry="4.2" transform="translate(186.1,198.5) rotate(120)" fill="#2aa2e0"/>
<ellipse cx="0" cy="0" rx="6.5" ry="4.6" transform="translate(212.7,218.6) rotate(110)" fill="#2aa2e0"/>
<ellipse cx="0" cy="0" rx="7.2" ry="5.0" transform="translate(170.9,184.3) rotate(120)" fill="#2aa2e0"/>
<ellipse cx="0" cy="0" rx="5.5" ry="4.4" transform="translate(165.2,205.3) rotate(75)" fill="#2aa2e0"/>
<ellipse cx="0" cy="0" rx="7.2" ry="4.6" transform="translate(206.9,215.5) rotate(120)" fill="#2aa2e0"/>
<ellipse cx="0" cy="0" rx="6.9" ry="4.2" transform="translate(225.9,204.1) rotate(75)" fill="#2aa2e0"/>
<ellipse cx="0" cy="0" rx="5.5" ry="4.3" transform="translate(206.1,213.6) rotate(120)" fill="#2aa2e0"/>
<ellipse cx="0" cy="0" rx="5.6" ry="4.6" transform="translate(209.9,182.1) rotate(45)" fill="#2aa2e0"/>
<ellipse cx="0" cy="0" rx="6.4" ry="4.5" transform="translate(194.3,221.8) rotate(120)" fill="#2aa2e0"/>
<ellipse cx="0" cy="0" rx="7.4" ry="4.6" transform="translate(174.1,203.5) rotate(120)" fill="#2aa2e0"/>
<ellipse cx="0" cy="0" rx="6.0" ry="5.1" transform="translate(199.9,187.1) rotate(70)" fill="#2aa2e0"/>
<ellipse cx="0" cy="0" rx="5.0" ry="4.4" transform="translate(189.2,200.9) rotate(135)" fill="#2aa2e0"/>
<ellipse cx="0" cy="0" rx="5.2" ry="4.7" transform="translate(210.8,204.8) rotate(75)" fill="#2aa2e0"/>
<ellipse cx="0" cy="0" rx="7.3" ry="4.7" transform="translate(166.4,203.7) rotate(135)" fill="#2aa2e0"/>
<ellipse cx="0" cy="0" rx="6.6" ry="5.1" transform="translate(226.1,205.6) rotate(120)" fill="#2aa2e0"/>
<ellipse cx="0" cy="0" rx="6.1" ry="4.4" transform="translate(156.1,210.8) rotate(45)" fill="#2aa2e0"/>
<ellipse cx="0" cy="0" rx="5.4" ry="5.0" transform="translate(185.6,201.3) rotate(135)" fill="#2aa2e0"/>
<ellipse cx="0" cy="0" rx="6.3" ry="5.0" transform="translate(192.7,223.7) rotate(75)" fill="#2aa2e0"/>
<ellipse cx="0" cy="0" rx="6.1" ry="5.1" transform="translate(166.0,193.6) rotate(90)" fill="#2aa2e0"/>
<ellipse cx="0" cy="0" rx="7.4" ry="4.7" transform="translate(189.4,192.8) rotate(110)" fill="#2aa2e0"/>
<ellipse cx="0" cy="0" rx="5.7" ry="5.0" transform="translate(174.6,179.3) rotate(60)" fill="#2aa2e0"/>
<ellipse cx="0" cy="0" rx="7.4" ry="4.7" transform="translate(216.7,186.5) rotate(90)" fill="#2aa2e0"/>
<ellipse cx="0" cy="0" rx="6.6" ry="4.8" transform="translate(215.4,208.6) rotate(105)" fill="#2aa2e0"/>
<ellipse cx="0" cy="0" rx="6.0" ry="5.2" transform="translate(148.2,208.7) rotate(60)" fill="#2aa2e0"/>
<ellipse cx="0" cy="0" rx="6.5" ry="4.5" transform="translate(183.3,183.3) rotate(135)" fill="#2aa2e0"/>
<ellipse cx="0" cy="0" rx="5.4" ry="4.5" transform="translate(213.0,184.1) rotate(135)" fill="#2aa2e0"/>
<ellipse cx="0" cy="0" rx="7.4" ry="5.2" transform="translate(198.6,197.6) rotate(135)" fill="#2aa2e0"/>
<ellipse cx="0" cy="0" rx="7.4" ry="5.1" transform="translate(180.4,206.9) rotate(45)" fill="#2aa2e0"/>
<ellipse cx="0" cy="0" rx="6.5" ry="5.2" transform="translate(173.2,189.3) rotate(70)" fill="#2aa2e0"/>
<ellipse cx="0" cy="0" rx="7.3" ry="4.8" transform="translate(190.8,196.2) rotate(120)" fill="#2aa2e0"/>
<ellipse cx="0" cy="0" rx="7.3" ry="4.5" transform="translate(164.4,202.4) rotate(60)" fill="#2aa2e0"/>
<ellipse cx="0" cy="0" rx="5.5" ry="4.7" transform="translate(171.0,199.7) rotate(45)" fill="#2aa2e0"/>
<ellipse cx="0" cy="0" rx="6.1" ry="4.9" transform="translate(178.0,205.1) rotate(75)" fill="#2aa2e0"/>
<ellipse cx="0" cy="0" rx="5.5" ry="5.2" transform="translate(197.2,221.7) rotate(110)" fill="#2aa2e0"/>
<ellipse cx="0" cy="0" rx="6.0" ry="5.2" transform="translate(189.2,191.7) rotate(75)" fill="#2aa2e0"/>
<ellipse cx="0" cy="0" rx="5.9" ry="5.2" transform="translate(184.7,224.6) rotate(75)" fill="#2aa2e0"/>
<ellipse cx="0" cy="0" rx="6.2" ry="4.8" transform="translate(175.4,196.1) rotate(110)" fill="#2aa2e0"/>
<ellipse cx="0" cy="0" rx="5.1" ry="5.2" transform="translate(190.5,222.5) rotate(120)" fill="#2aa2e0"/>
<ellipse cx="0" cy="0" rx="6.9" ry="5.2" transform="translate(213.7,188.8) rotate(60)" fill="#2aa2e0"/>
<ellipse cx="0" cy="0" rx="5.7" ry="4.9" transform="translate(149.5,198.1) rotate(110)" fill="#2aa2e0"/>
<ellipse cx="0" cy="0" rx="6.6" ry="4.5" transform="translate(301.4,157.7) rotate(70)" fill="#2aa2e0"/>
<ellipse cx="0" cy="0" rx="6.0" ry="4.5" transform="translate(305.6,154.4) rotate(105)" fill="#2aa2e0"/>
<ellipse cx="0" cy="0" rx="5.7" ry="4.5" transform="translate(290.2,167.7) rotate(110)" fill="#2aa2e0"/>
<ellipse cx="0" cy="0" rx="6.9" ry="5.1" transform="translate(297.4,143.6) rotate(60)" fill="#2aa2e0"/>
<ellipse cx="0" cy="0" rx="5.7" ry="5.1" transform="translate(297.4,145.2) rotate(75)" fill="#2aa2e0"/>
<ellipse cx="0" cy="0" rx="6.0" ry="4.5" transform="translate(295.9,155.1) rotate(135)" fill="#2aa2e0"/>
<ellipse cx="0" cy="0" rx="7.3" ry="4.4" transform="translate(315.5,163.7) rotate(135)" fill="#2aa2e0"/>
<ellipse cx="0" cy="0" rx="6.6" ry="4.4" transform="translate(314.6,130.2) rotate(60)" fill="#2aa2e0"/>
<ellipse cx="0" cy="0" rx="7.0" ry="5.1" transform="translate(322.2,136.3) rotate(135)" fill="#2aa2e0"/>
<ellipse cx="0" cy="0" rx="6.8" ry="4.4" transform="translate(283.9,150.4) rotate(70)" fill="#2aa2e0"/>
<ellipse cx="0" cy="0" rx="6.0" ry="5.0" transform="translate(291.7,171.5) rotate(110)" fill="#2aa2e0"/>
<ellipse cx="0" cy="0" rx="6.1" ry="4.6" transform="translate(324.2,159.2) rotate(90)" fill="#2aa2e0"/>
<ellipse cx="0" cy="0" rx="6.2" ry="5.0" transform="translate(278.4,156.4) rotate(110)" fill="#2aa2e0"/>
<ellipse cx="0" cy="0" rx="6.1" ry="4.4" transform="translate(293.4,149.5) rotate(105)" fill="#2aa2e0"/>
<ellipse cx="0" cy="0" rx="5.6" ry="4.8" transform="translate(313.1,161.5) rotate(135)" fill="#2aa2e0"/>
<ellipse cx="0" cy="0" rx="5.4" ry="4.6" transform="translate(302.6,142.7) rotate(75)" fill="#2aa2e0"/>
<ellipse cx="0" cy="0" rx="7.0" ry="4.4" transform="translate(307.0,145.9) rotate(90)" fill="#2aa2e0"/>
<ellipse cx="0" cy="0" rx="6.8" ry="4.9" transform="translate(293.7,134.4) rotate(105)" fill="#2aa2e0"/>
<ellipse cx="0" cy="0" rx="5.3" ry="5.0" transform="translate(284.8,144.0) rotate(90)" fill="#2aa2e0"/>
<ellipse cx="0" cy="0" rx="5.5" ry="4.5" transform="translate(282.8,139.7) rotate(90)" fill="#2aa2e0"/>
<ellipse cx="0" cy="0" rx="5.6" ry="5.0" transform="translate(287.1,119.2) rotate(70)" fill="#2aa2e0"/>
<ellipse cx="0" cy="0" rx="7.1" ry="4.9" transform="translate(288.2,120.9) rotate(120)" fill="#2aa2e0"/>
<ellipse cx="0" cy="0" rx="5.0" ry="4.6" transform="translate(321.5,142.2) rotate(45)" fill="#2aa2e0"/>
<ellipse cx="0" cy="0" rx="7.4" ry="4.7" transform="translate(291.4,161.0) rotate(60)" fill="#2aa2e0"/>
<ellipse cx="0" cy="0" rx="5.9" ry="5.2" transform="translate(291.0,166.9) rotate(110)" fill="#2aa2e0"/>
<ellipse cx="0" cy="0" rx="7.1" ry="4.6" transform="translate(297.5,129.5) rotate(75)" fill="#2aa2e0"/>
<ellipse cx="0" cy="0" rx="7.0" ry="4.9" transform="translate(291.2,110.5) rotate(70)" fill="#2aa2e0"/>
<ellipse cx="0" cy="0" rx="6.5" ry="4.9" transform="translate(314.0,179.0) rotate(70)" fill="#2aa2e0"/>
<ellipse cx="0" cy="0" rx="5.6" ry="4.3" transform="translate(293.8,126.0) rotate(90)" fill="#2aa2e0"/>
<ellipse cx="0" cy="0" rx="6.6" ry="5.2" transform="translate(276.3,152.2) rotate(110)" fill="#2aa2e0"/>
<ellipse cx="0" cy="0" rx="5.3" ry="4.7" transform="translate(299.2,153.0) rotate(45)" fill="#2aa2e0"/>
<ellipse cx="0" cy="0" rx="5.8" ry="4.2" transform="translate(300.8,167.0) rotate(75)" fill="#2aa2e0"/>
<ellipse cx="0" cy="0" rx="6.6" ry="4.8" transform="translate(316.0,140.1) rotate(70)" fill="#2aa2e0"/>
<ellipse cx="0" cy="0" rx="7.3" ry="5.2" transform="translate(318.6,169.0) rotate(45)" fill="#2aa2e0"/>
<ellipse cx="0" cy="0" rx="5.1" ry="5.2" transform="translate(311.6,159.1) rotate(45)" fill="#2aa2e0"/>
<ellipse cx="0" cy="0" rx="6.8" ry="4.5" transform="translate(354.6,142.5) rotate(120)" fill="#2aa2e0"/>
<ellipse cx="0" cy="0" rx="6.2" ry="5.2" transform="translate(347.6,101.9) rotate(45)" fill="#2aa2e0"/>
<ellipse cx="0" cy="0" rx="6.4" ry="5.2" transform="translate(343.5,152.4) rotate(105)" fill="#2aa2e0"/>
<ellipse cx="0" cy="0" rx="6.9" ry="4.5" transform="translate(335.9,215.5) rotate(105)" fill="#2aa2e0"/>
<ellipse cx="0" cy="0" rx="7.3" ry="4.8" transform="translate(343.5,219.9) rotate(135)" fill="#2aa2e0"/>
<ellipse cx="0" cy="0" rx="5.7" ry="4.3" transform="translate(361.6,130.5) rotate(70)" fill="#2aa2e0"/>
<ellipse cx="0" cy="0" rx="6.9" ry="4.3" transform="translate(356.5,195.5) rotate(110)" fill="#2aa2e0"/>
<ellipse cx="0" cy="0" rx="6.1" ry="5.1" transform="translate(336.2,154.8) rotate(75)" fill="#2aa2e0"/>
<ellipse cx="0" cy="0" rx="5.0" ry="4.2" transform="translate(350.2,140.3) rotate(90)" fill="#2aa2e0"/>
<ellipse cx="0" cy="0" rx="7.4" ry="4.7" transform="translate(349.2,174.6) rotate(135)" fill="#2aa2e0"/>
<ellipse cx="0" cy="0" rx="5.4" ry="4.4" transform="translate(342.6,102.1) rotate(110)" fill="#2aa2e0"/>
<ellipse cx="0" cy="0" rx="5.4" ry="4.7" transform="translate(344.3,141.4) rotate(75)" fill="#2aa2e0"/>
<ellipse cx="0" cy="0" rx="6.8" ry="5.0" transform="translate(340.0,227.4) rotate(135)" fill="#2aa2e0"/>
<ellipse cx="0" cy="0" rx="6.9" ry="4.6" transform="translate(346.2,217.7) rotate(75)" fill="#2aa2e0"/>
<ellipse cx="0" cy="0" rx="7.4" ry="5.2" transform="translate(335.7,177.7) rotate(110)" fill="#2aa2e0"/>
<ellipse cx="0" cy="0" rx="7.0" ry="4.8" transform="translate(351.9,223.2) rotate(135)" fill="#2aa2e0"/>
<ellipse cx="0" cy="0" rx="5.5" ry="4.6" transform="translate(338.6,134.9) rotate(60)" fill="#2aa2e0"/>
<ellipse cx="0" cy="0" rx="7.4" ry="4.6" transform="translate(337.9,170.7) rotate(90)" fill="#2aa2e0"/>
<ellipse cx="0" cy="0" rx="5.6" ry="4.3" transform="translate(356.0,153.4) rotate(70)" fill="#2aa2e0"/>
<ellipse cx="0" cy="0" rx="5.1" ry="4.9" transform="translate(336.4,223.1) rotate(105)" fill="#2aa2e0"/>
<ellipse cx="0" cy="0" rx="6.9" ry="5.2" transform="translate(350.2,193.0) rotate(45)" fill="#2aa2e0"/>
<ellipse cx="0" cy="0" rx="5.6" ry="4.3" transform="translate(361.6,164.3) rotate(70)" fill="#2aa2e0"/>
<ellipse cx="0" cy="0" rx="6.4" ry="4.6" transform="translate(344.1,211.3) rotate(110)" fill="#2aa2e0"/>
<ellipse cx="0" cy="0" rx="5.9" ry="4.3" transform="translate(341.0,191.0) rotate(60)" fill="#2aa2e0"/>
<ellipse cx="0" cy="0" rx="5.4" ry="4.8" transform="translate(327.9,156.3) rotate(90)" fill="#2aa2e0"/>
<ellipse cx="0" cy="0" rx="6.9" ry="4.8" transform="translate(348.4,145.9) rotate(105)" fill="#2aa2e0"/>
<ellipse cx="0" cy="0" rx="6.0" ry="4.6" transform="translate(344.2,194.1) rotate(70)" fill="#2aa2e0"/>
<ellipse cx="0" cy="0" rx="5.9" ry="4.4" transform="translate(362.3,176.9) rotate(120)" fill="#2aa2e0"/>
<ellipse cx="0" cy="0" rx="5.2" ry="4.7" transform="translate(354.3,139.9) rotate(105)" fill="#2aa2e0"/>
<ellipse cx="0" cy="0" rx="5.9" ry="5.2" transform="translate(346.5,119.8) rotate(75)" fill="#2aa2e0"/>
<ellipse cx="0" cy="0" rx="6.4" ry="5.1" transform="translate(378.9,158.3) rotate(120)" fill="#2aa2e0"/>
<ellipse cx="0" cy="0" rx="5.0" ry="4.3" transform="translate(368.1,124.9) rotate(70)" fill="#2aa2e0"/>
<ellipse cx="0" cy="0" rx="7.2" ry="5.0" transform="translate(384.3,150.3) rotate(75)" fill="#2aa2e0"/>
<ellipse cx="0" cy="0" rx="6.7" ry="4.5" transform="translate(391.3,171.6) rotate(135)" fill="#2aa2e0"/>
<ellipse cx="0" cy="0" rx="5.8" ry="4.3" transform="translate(373.0,156.4) rotate(105)" fill="#2aa2e0"/>
<ellipse cx="0" cy="0" rx="5.2" ry="4.7" transform="translate(379.3,146.5) rotate(120)" fill="#2aa2e0"/>
<ellipse cx="0" cy="0" rx="6.6" ry="4.3" transform="translate(409.0,137.5) rotate(135)" fill="#2aa2e0"/>
<ellipse cx="0" cy="0" rx="5.2" ry="5.2" transform="translate(397.4,152.9) rotate(105)" fill="#2aa2e0"/>
<ellipse cx="0" cy="0" rx="6.3" ry="5.2" transform="translate(385.4,150.7) rotate(110)" fill="#2aa2e0"/>
<ellipse cx="0" cy="0" rx="5.1" ry="4.5" transform="translate(374.7,153.3) rotate(120)" fill="#2aa2e0"/>
<ellipse cx="0" cy="0" rx="5.7" ry="4.6" transform="translate(394.4,184.0) rotate(60)" fill="#2aa2e0"/>
<ellipse cx="0" cy="0" rx="4.9" ry="4.3" transform="translate(376.7,120.3) rotate(70)" fill="#2aa2e0"/>
<ellipse cx="0" cy="0" rx="6.2" ry="4.9" transform="translate(401.0,159.3) rotate(110)" fill="#2aa2e0"/>
<ellipse cx="0" cy="0" rx="7.3" ry="4.4" transform="translate(369.4,172.7) rotate(110)" fill="#2aa2e0"/>
<ellipse cx="0" cy="0" rx="7.4" ry="4.2" transform="translate(381.9,112.7) rotate(135)" fill="#2aa2e0"/>
<ellipse cx="0" cy="0" rx="7.2" ry="4.3" transform="translate(402.3,163.2) rotate(90)" fill="#2aa2e0"/>
<ellipse cx="0" cy="0" rx="5.1" ry="4.9" transform="translate(373.4,151.8) rotate(60)" fill="#2aa2e0"/>
<ellipse cx="0" cy="0" rx="5.1" ry="4.5" transform="translate(380.2,111.9) rotate(135)" fill="#2aa2e0"/>
<ellipse cx="0" cy="0" rx="5.7" ry="4.6" transform="translate(382.5,154.0) rotate(90)" fill="#2aa2e0"/>
<ellipse cx="0" cy="0" rx="5.0" ry="4.2" transform="translate(370.5,171.4) rotate(105)" fill="#2aa2e0"/>
<ellipse cx="0" cy="0" rx="6.5" ry="4.4" transform="translate(377.5,148.4) rotate(45)" fill="#2aa2e0"/>
<ellipse cx="0" cy="0" rx="6.0" ry="4.5" transform="translate(370.8,182.3) rotate(90)" fill="#2aa2e0"/>
<ellipse cx="0" cy="0" rx="5.6" ry="4.6" transform="translate(396.1,123.9) rotate(70)" fill="#2aa2e0"/>
<ellipse cx="0" cy="0" rx="5.4" ry="5.1" transform="translate(369.9,156.9) rotate(60)" fill="#2aa2e0"/>
<ellipse cx="0" cy="0" rx="6.6" ry="5.1" transform="translate(394.0,173.3) rotate(110)" fill="#2aa2e0"/>
<ellipse cx="0" cy="0" rx="6.6" ry="4.6" transform="translate(444.2,209.0) rotate(90)" fill="#2aa2e0"/>
<ellipse cx="0" cy="0" rx="7.4" ry="4.4" transform="translate(444.7,152.6) rotate(70)" fill="#2aa2e0"/>
<ellipse cx="0" cy="0" rx="7.2" ry="5.0" transform="translate(442.5,145.4) rotate(70)" fill="#2aa2e0"/>
<ellipse cx="0" cy="0" rx="7.3" ry="5.0" transform="translate(458.5,163.3) rotate(45)" fill="#2aa2e0"/>
<ellipse cx="0" cy="0" rx="6.1" ry="5.2" transform="translate(434.8,173.6) rotate(90)" fill="#2aa2e0"/>
<ellipse cx="0" cy="0" rx="5.2" ry="4.3" transform="translate(455.3,218.4) rotate(120)" fill="#2aa2e0"/>
<ellipse cx="0" cy="0" rx="7.1" ry="5.2" transform="translate(455.7,199.9) rotate(120)" fill="#2aa2e0"/>
<ellipse cx="0" cy="0" rx="6.7" ry="4.3" transform="translate(459.3,203.7) rotate(70)" fill="#2aa2e0"/>
<ellipse cx="0" cy="0" rx="5.8" ry="4.5" transform="translate(460.1,221.4) rotate(110)" fill="#2aa2e0"/>
<ellipse cx="0" cy="0" rx="5.8" ry="4.3" transform="translate(433.3,183.7) rotate(105)" fill="#2aa2e0"/>
<ellipse cx="0" cy="0" rx="6.5" ry="4.7" transform="translate(447.7,137.9) rotate(105)" fill="#2aa2e0"/>
<ellipse cx="0" cy="0" rx="6.7" ry="4.7" transform="translate(450.2,171.1) rotate(60)" fill="#2aa2e0"/>
<ellipse cx="0" cy="0" rx="6.0" ry="4.5" transform="translate(461.8,210.9) rotate(70)" fill="#2aa2e0"/>
<ellipse cx="0" cy="0" rx="5.0" ry="5.2" transform="translate(460.4,139.6) rotate(135)" fill="#2aa2e0"/>
<ellipse cx="0" cy="0" rx="7.5" ry="4.8" transform="translate(511.5,204.9) rotate(135)" fill="#2aa2e0"/>
<ellipse cx="0" cy="0" rx="5.9" ry="4.5" transform="translate(523.7,158.4) rotate(105)" fill="#2aa2e0"/>
<ellipse cx="0" cy="0" rx="5.1" ry="4.3" transform="translate(495.4,132.7) rotate(105)" fill="#2aa2e0"/>
<ellipse cx="0" cy="0" rx="6.8" ry="4.4" transform="translate(510.5,209.0) rotate(120)" fill="#2aa2e0"/>
<ellipse cx="0" cy="0" rx="7.0" ry="5.1" transform="translate(510.7,111.8) rotate(135)" fill="#2aa2e0"/>
<ellipse cx="0" cy="0" rx="5.1" ry="4.8" transform="translate(506.9,114.3) rotate(45)" fill="#2aa2e0"/>
<ellipse cx="0" cy="0" rx="6.3" ry="4.2" transform="translate(490.8,174.1) rotate(110)" fill="#2aa2e0"/>
<ellipse cx="0" cy="0" rx="6.5" ry="5.2" transform="translate(492.1,184.4) rotate(45)" fill="#2aa2e0"/>
<ellipse cx="0" cy="0" rx="7.2" ry="5.2" transform="translate(497.2,183.4) rotate(105)" fill="#2aa2e0"/>
<ellipse cx="0" cy="0" rx="6.0" ry="4.8" transform="translate(528.4,188.7) rotate(60)" fill="#2aa2e0"/>
<ellipse cx="0" cy="0" rx="5.4" ry="4.9" transform="translate(540.1,167.2) rotate(60)" fill="#2aa2e0"/>
<ellipse cx="0" cy="0" rx="7.3" ry="5.0" transform="translate(526.5,139.4) rotate(45)" fill="#2aa2e0"/>
<ellipse cx="0" cy="0" rx="6.0" ry="4.3" transform="translate(490.7,180.1) rotate(60)" fill="#2aa2e0"/>
<ellipse cx="0" cy="0" rx="5.4" ry="4.9" transform="translate(482.9,174.0) rotate(120)" fill="#2aa2e0"/>
<ellipse cx="0" cy="0" rx="6.9" ry="5.1" transform="translate(530.7,175.0) rotate(70)" fill="#2aa2e0"/>
<ellipse cx="0" cy="0" rx="7.4" ry="5.1" transform="translate(513.5,184.9) rotate(90)" fill="#2aa2e0"/>
<ellipse cx="0" cy="0" rx="6.7" ry="4.3" transform="translate(512.1,184.0) rotate(135)" fill="#2aa2e0"/>
<ellipse cx="0" cy="0" rx="7.3" ry="5.0" transform="translate(542.5,144.1) rotate(60)" fill="#2aa2e0"/>
<ellipse cx="0" cy="0" rx="5.3" ry="4.4" transform="translate(492.2,128.6) rotate(105)" fill="#2aa2e0"/>
<ellipse cx="0" cy="0" rx="6.1" ry="5.2" transform="translate(521.0,172.3) rotate(110)" fill="#2aa2e0"/>
<ellipse cx="0" cy="0" rx="5.2" ry="4.9" transform="translate(509.6,174.5) rotate(60)" fill="#2aa2e0"/>
<ellipse cx="0" cy="0" rx="6.5" ry="5.0" transform="translate(513.5,201.5) rotate(45)" fill="#2aa2e0"/>
<ellipse cx="0" cy="0" rx="4.9" ry="5.0" transform="translate(518.2,171.4) rotate(60)" fill="#2aa2e0"/>
<ellipse cx="0" cy="0" rx="7.2" ry="4.8" transform="translate(541.5,142.1) rotate(90)" fill="#2aa2e0"/>
<ellipse cx="0" cy="0" rx="5.0" ry="4.4" transform="translate(508.4,191.1) rotate(105)" fill="#2aa2e0"/>
<ellipse cx="0" cy="0" rx="5.8" ry="4.7" transform="translate(491.1,191.6) rotate(60)" fill="#2aa2e0"/>
<ellipse cx="0" cy="0" rx="7.1" ry="4.5" transform="translate(482.9,172.1) rotate(70)" fill="#2aa2e0"/>
<ellipse cx="0" cy="0" rx="6.6" ry="4.3" transform="translate(526.9,145.7) rotate(90)" fill="#2aa2e0"/>
<ellipse cx="0" cy="0" rx="5.5" ry="4.7" transform="translate(507.9,152.3) rotate(45)" fill="#2aa2e0"/>
<ellipse cx="0" cy="0" rx="5.4" ry="4.4" transform="translate(508.2,116.0) rotate(90)" fill="#2aa2e0"/>
<ellipse cx="0" cy="0" rx="6.7" ry="4.6" transform="translate(502.1,197.9) rotate(45)" fill="#2aa2e0"/>
<ellipse cx="0" cy="0" rx="7.2" ry="5.1" transform="translate(527.2,160.2) rotate(135)" fill="#2aa2e0"/>
<ellipse cx="0" cy="0" rx="6.0" ry="4.9" transform="translate(534.9,194.0) rotate(120)" fill="#2aa2e0"/>
<ellipse cx="0" cy="0" rx="4.9" ry="4.8" transform="translate(529.2,130.6) rotate(105)" fill="#2aa2e0"/>
<ellipse cx="0" cy="0" rx="7.1" ry="4.7" transform="translate(495.6,198.9) rotate(120)" fill="#2aa2e0"/>
<ellipse cx="0" cy="0" rx="6.1" ry="4.2" transform="translate(483.9,147.2) rotate(70)" fill="#2aa2e0"/>
<ellipse cx="0" cy="0" rx="6.2" ry="4.4" transform="translate(529.0,150.1) rotate(105)" fill="#2aa2e0"/>
<ellipse cx="0" cy="0" rx="7.2" ry="5.1" transform="translate(487.5,178.0) rotate(135)" fill="#2aa2e0"/>
<ellipse cx="0" cy="0" rx="6.4" ry="4.3" transform="translate(539.9,160.4) rotate(75)" fill="#2aa2e0"/>
<ellipse cx="0" cy="0" rx="6.1" ry="5.0" transform="translate(509.7,135.0) rotate(110)" fill="#2aa2e0"/>
<ellipse cx="0" cy="0" rx="6.0" ry="4.4" transform="translate(573.4,171.6) rotate(70)" fill="#2aa2e0"/>
<ellipse cx="0" cy="0" rx="5.3" ry="4.9" transform="translate(561.4,157.5) rotate(90)" fill="#2aa2e0"/>
<ellipse cx="0" cy="0" rx="6.4" ry="4.3" transform="translate(573.8,207.4) rotate(60)" fill="#2aa2e0"/>
<ellipse cx="0" cy="0" rx="6.4" ry="4.7" transform="translate(567.0,131.9) rotate(135)" fill="#2aa2e0"/>
<ellipse cx="0" cy="0" rx="6.1" ry="5.1" transform="translate(559.8,172.8) rotate(45)" fill="#2aa2e0"/>
<ellipse cx="0" cy="0" rx="7.0" ry="4.7" transform="translate(551.0,155.0) rotate(120)" fill="#2aa2e0"/>
<ellipse cx="0" cy="0" rx="5.2" ry="4.9" transform="translate(585.8,188.4) rotate(90)" fill="#2aa2e0"/>
<ellipse cx="0" cy="0" rx="7.1" ry="5.1" transform="translate(579.9,152.4) rotate(45)" fill="#2aa2e0"/>
<ellipse cx="0" cy="0" rx="5.6" ry="5.2" transform="translate(558.3,189.9) rotate(60)" fill="#2aa2e0"/>
<ellipse cx="0" cy="0" rx="6.6" ry="4.5" transform="translate(566.6,129.2) rotate(120)" fill="#2aa2e0"/>
<ellipse cx="0" cy="0" rx="7.2" ry="4.5" transform="translate(556.7,141.4) rotate(105)" fill="#2aa2e0"/>
<ellipse cx="0" cy="0" rx="5.7" ry="4.6" transform="translate(553.2,168.0) rotate(75)" fill="#2aa2e0"/>
<ellipse cx="0" cy="0" rx="6.1" ry="4.7" transform="translate(581.2,203.4) rotate(60)" fill="#2aa2e0"/>
<ellipse cx="0" cy="0" rx="5.7" ry="4.2" transform="translate(553.8,162.2) rotate(110)" fill="#2aa2e0"/>
<ellipse cx="0" cy="0" rx="5.8" ry="5.1" transform="translate(552.7,141.6) rotate(70)" fill="#2aa2e0"/>
<ellipse cx="0" cy="0" rx="5.6" ry="4.9" transform="translate(555.2,140.6) rotate(135)" fill="#2aa2e0"/>
<ellipse cx="0" cy="0" rx="6.7" ry="4.8" transform="translate(572.4,179.2) rotate(45)" fill="#2aa2e0"/>
<ellipse cx="0" cy="0" rx="6.5" ry="4.5" transform="translate(557.3,170.7) rotate(60)" fill="#2aa2e0"/>
<ellipse cx="0" cy="0" rx="7.1" ry="4.3" transform="translate(577.4,136.5) rotate(60)" fill="#2aa2e0"/>
<ellipse cx="0" cy="0" rx="6.3" ry="4.7" transform="translate(548.8,174.1) rotate(120)" fill="#2aa2e0"/>
<ellipse cx="0" cy="0" rx="6.4" ry="5.0" transform="translate(565.9,171.0) rotate(45)" fill="#2aa2e0"/>
<ellipse cx="0" cy="0" rx="6.2" ry="4.3" transform="translate(568.5,199.5) rotate(135)" fill="#2aa2e0"/>
<ellipse cx="0" cy="0" rx="5.3" ry="5.2" transform="translate(582.1,178.7) rotate(70)" fill="#2aa2e0"/>
<ellipse cx="0" cy="0" rx="5.5" ry="5.1" transform="translate(553.3,150.8) rotate(120)" fill="#2aa2e0"/>
<ellipse cx="0" cy="0" rx="6.3" ry="4.3" transform="translate(572.0,169.1) rotate(90)" fill="#2aa2e0"/>
<ellipse cx="0" cy="0" rx="6.0" ry="4.5" transform="translate(578.3,191.3) rotate(45)" fill="#2aa2e0"/>
<ellipse cx="0" cy="0" rx="5.5" ry="4.9" transform="translate(567.6,143.7) rotate(70)" fill="#2aa2e0"/>
<ellipse cx="0" cy="0" rx="5.7" ry="4.5" transform="translate(583.1,154.6) rotate(75)" fill="#2aa2e0"/>
<ellipse cx="0" cy="0" rx="5.7" ry="5.2" transform="translate(572.2,146.3) rotate(60)" fill="#2aa2e0"/>
<ellipse cx="0" cy="0" rx="6.9" ry="5.0" transform="translate(586.8,182.0) rotate(75)" fill="#2aa2e0"/>
<ellipse cx="0" cy="0" rx="5.1" ry="5.1" transform="translate(607.1,184.9) rotate(45)" fill="#2aa2e0"/>
<ellipse cx="0" cy="0" rx="5.8" ry="4.2" transform="translate(592.9,139.7) rotate(105)" fill="#2aa2e0"/>
<ellipse cx="0" cy="0" rx="5.5" ry="5.0" transform="translate(581.5,174.3) rotate(70)" fill="#2aa2e0"/>
<ellipse cx="0" cy="0" rx="7.4" ry="5.0" transform="translate(592.1,161.3) rotate(75)" fill="#2aa2e0"/>
<ellipse cx="0" cy="0" rx="7.2" ry="4.7" transform="translate(617.8,136.2) rotate(75)" fill="#2aa2e0"/>
<ellipse cx="0" cy="0" rx="5.9" ry="4.4" transform="translate(615.6,162.7) rotate(105)" fill="#2aa2e0"/>
<ellipse cx="0" cy="0" rx="5.1" ry="5.1" transform="translate(615.3,133.3) rotate(45)" fill="#2aa2e0"/>
<ellipse cx="0" cy="0" rx="5.9" ry="5.1" transform="translate(611.0,176.8) rotate(45)" fill="#2aa2e0"/>
<ellipse cx="0" cy="0" rx="5.9" ry="5.0" transform="translate(614.1,130.5) rotate(90)" fill="#2aa2e0"/>
<ellipse cx="0" cy="0" rx="6.1" ry="4.3" transform="translate(609.8,160.1) rotate(105)" fill="#2aa2e0"/>
<ellipse cx="0" cy="0" rx="7.2" ry="4.3" transform="translate(601.1,180.3) rotate(110)" fill="#2aa2e0"/>
<ellipse cx="0" cy="0" rx="7.0" ry="4.8" transform="translate(611.8,145.9) rotate(105)" fill="#2aa2e0"/>
<ellipse cx="0" cy="0" rx="7.2" ry="5.0" transform="translate(604.0,172.6) rotate(110)" fill="#2aa2e0"/>
<ellipse cx="0" cy="0" rx="5.2" ry="5.1" transform="translate(582.6,155.5) rotate(110)" fill="#2aa2e0"/>
<ellipse cx="0" cy="0" rx="7.3" ry="4.9" transform="translate(576.0,161.8) rotate(90)" fill="#2aa2e0"/>
<ellipse cx="0" cy="0" rx="6.1" ry="4.8" transform="translate(624.0,160.1) rotate(70)" fill="#2aa2e0"/>
<ellipse cx="0" cy="0" rx="4.9" ry="4.7" transform="translate(598.4,166.5) rotate(60)" fill="#2aa2e0"/>
<ellipse cx="0" cy="0" rx="5.3" ry="5.2" transform="translate(617.2,150.1) rotate(60)" fill="#2aa2e0"/>
<ellipse cx="0" cy="0" rx="7.1" ry="4.2" transform="translate(618.5,152.4) rotate(105)" fill="#2aa2e0"/>
<ellipse cx="0" cy="0" rx="5.2" ry="5.2" transform="translate(614.3,190.5) rotate(120)" fill="#2aa2e0"/>
<ellipse cx="0" cy="0" rx="6.5" ry="5.0" transform="translate(583.4,179.1) rotate(105)" fill="#2aa2e0"/>
<ellipse cx="0" cy="0" rx="5.3" ry="4.9" transform="translate(607.5,129.5) rotate(75)" fill="#2aa2e0"/>
<ellipse cx="0" cy="0" rx="6.8" ry="4.2" transform="translate(596.8,123.8) rotate(75)" fill="#2aa2e0"/>
<ellipse cx="0" cy="0" rx="5.3" ry="4.4" transform="translate(615.6,142.1) rotate(60)" fill="#2aa2e0"/>
<ellipse cx="0" cy="0" rx="7.2" ry="4.8" transform="translate(593.7,145.6) rotate(120)" fill="#2aa2e0"/>
<ellipse cx="0" cy="0" rx="4.8" ry="4.3" transform="translate(642.7,115.8) rotate(110)" fill="#2aa2e0"/>
<ellipse cx="0" cy="0" rx="5.6" ry="4.9" transform="translate(636.2,148.8) rotate(90)" fill="#2aa2e0"/>
<ellipse cx="0" cy="0" rx="6.0" ry="4.7" transform="translate(650.1,149.8) rotate(120)" fill="#2aa2e0"/>
<ellipse cx="0" cy="0" rx="4.8" ry="4.0" transform="translate(659.3,164.6) rotate(120)" fill="#2aa2e0"/>
<ellipse cx="0" cy="0" rx="6.3" ry="4.1" transform="translate(660.3,144.8) rotate(60)" fill="#2aa2e0"/>
<ellipse cx="0" cy="0" rx="4.6" ry="4.6" transform="translate(641.6,160.5) rotate(120)" fill="#2aa2e0"/>
<ellipse cx="0" cy="0" rx="5.7" ry="4.5" transform="translate(652.2,136.7) rotate(105)" fill="#2aa2e0"/>
<ellipse cx="0" cy="0" rx="4.8" ry="4.1" transform="translate(656.5,126.6) rotate(105)" fill="#2aa2e0"/>
<ellipse cx="0" cy="0" rx="6.5" ry="4.2" transform="translate(658.3,122.2) rotate(90)" fill="#2aa2e0"/>
<ellipse cx="0" cy="0" rx="5.5" ry="3.9" transform="translate(641.0,162.6) rotate(45)" fill="#2aa2e0"/>
<ellipse cx="0" cy="0" rx="4.5" ry="3.9" transform="translate(642.9,118.5) rotate(110)" fill="#2aa2e0"/>
<ellipse cx="0" cy="0" rx="5.7" ry="4.7" transform="translate(643.9,181.4) rotate(75)" fill="#2aa2e0"/>
<ellipse cx="0" cy="0" rx="6.4" ry="4.5" transform="translate(646.6,158.4) rotate(110)" fill="#2aa2e0"/>
<ellipse cx="0" cy="0" rx="6.3" ry="4.2" transform="translate(647.0,130.4) rotate(110)" fill="#2aa2e0"/>
<ellipse cx="0" cy="0" rx="5.2" ry="4.7" transform="translate(715.1,144.0) rotate(110)" fill="#2aa2e0"/>
<ellipse cx="0" cy="0" rx="5.8" ry="4.7" transform="translate(731.0,118.8) rotate(45)" fill="#2aa2e0"/>
<ellipse cx="0" cy="0" rx="6.6" ry="4.4" transform="translate(731.6,133.6) rotate(135)" fill="#2aa2e0"/>
<ellipse cx="0" cy="0" rx="5.9" ry="3.9" transform="translate(730.3,124.9) rotate(45)" fill="#2aa2e0"/>
<ellipse cx="0" cy="0" rx="4.8" ry="4.3" transform="translate(722.6,118.7) rotate(75)" fill="#2aa2e0"/>
<ellipse cx="0" cy="0" rx="6.2" ry="4.2" transform="translate(728.3,150.7) rotate(75)" fill="#2aa2e0"/>
<ellipse cx="0" cy="0" rx="4.7" ry="4.0" transform="translate(729.3,132.1) rotate(110)" fill="#2aa2e0"/>
<ellipse cx="0" cy="0" rx="4.6" ry="4.3" transform="translate(724.3,135.9) rotate(110)" fill="#2aa2e0"/>
<ellipse cx="0" cy="0" rx="6.6" ry="4.6" transform="translate(733.3,150.1) rotate(135)" fill="#2aa2e0"/>
<ellipse cx="0" cy="0" rx="4.5" ry="4.7" transform="translate(717.9,120.8) rotate(120)" fill="#2aa2e0"/>
<ellipse cx="0" cy="0" rx="4.5" ry="4.1" transform="translate(755.7,192.4) rotate(60)" fill="#2aa2e0"/>
<ellipse cx="0" cy="0" rx="4.9" ry="4.4" transform="translate(759.7,199.3) rotate(110)" fill="#2aa2e0"/>
<ellipse cx="0" cy="0" rx="6.6" ry="4.5" transform="translate(752.7,196.7) rotate(75)" fill="#2aa2e0"/>
<ellipse cx="0" cy="0" rx="6.2" ry="4.4" transform="translate(732.4,204.9) rotate(70)" fill="#2aa2e0"/>
<ellipse cx="0" cy="0" rx="5.8" ry="4.4" transform="translate(735.7,209.2) rotate(105)" fill="#2aa2e0"/>
<ellipse cx="0" cy="0" rx="6.6" ry="4.5" transform="translate(752.4,205.6) rotate(60)" fill="#2aa2e0"/>
<ellipse cx="0" cy="0" rx="6.2" ry="4.5" transform="translate(742.9,188.9) rotate(60)" fill="#2aa2e0"/>
<ellipse cx="0" cy="0" rx="5.4" ry="4.1" transform="translate(724.9,202.8) rotate(120)" fill="#2aa2e0"/>
<ellipse cx="0" cy="0" rx="6.2" ry="4.7" transform="translate(738.9,195.5) rotate(75)" fill="#2aa2e0"/>
<ellipse cx="0" cy="0" rx="5.4" ry="4.3" transform="translate(755.4,189.3) rotate(70)" fill="#2aa2e0"/>
<ellipse cx="0" cy="0" rx="4.5" ry="4.1" transform="translate(799.8,216.7) rotate(75)" fill="#2aa2e0"/>
<ellipse cx="0" cy="0" rx="4.8" ry="4.4" transform="translate(791.1,231.9) rotate(120)" fill="#2aa2e0"/>
<ellipse cx="0" cy="0" rx="5.1" ry="4.3" transform="translate(824.4,218.0) rotate(135)" fill="#2aa2e0"/>
<ellipse cx="0" cy="0" rx="4.6" ry="4.0" transform="translate(817.4,223.9) rotate(110)" fill="#2aa2e0"/>
<ellipse cx="0" cy="0" rx="6.1" ry="4.0" transform="translate(798.3,211.3) rotate(60)" fill="#2aa2e0"/>
<ellipse cx="0" cy="0" rx="5.3" ry="4.0" transform="translate(818.4,234.9) rotate(105)" fill="#2aa2e0"/>
<ellipse cx="0" cy="0" rx="6.2" ry="3.9" transform="translate(819.0,217.7) rotate(60)" fill="#2aa2e0"/>
<ellipse cx="0" cy="0" rx="5.5" ry="4.7" transform="translate(775.4,224.4) rotate(45)" fill="#2aa2e0"/>
<ellipse cx="0" cy="0" rx="5.3" ry="4.0" transform="translate(850.2,162.3) rotate(120)" fill="#2aa2e0"/>
<ellipse cx="0" cy="0" rx="4.9" ry="4.4" transform="translate(847.3,153.2) rotate(105)" fill="#2aa2e0"/>
<ellipse cx="0" cy="0" rx="5.0" ry="4.1" transform="translate(857.9,132.9) rotate(90)" fill="#2aa2e0"/>
<ellipse cx="0" cy="0" rx="5.5" ry="4.1" transform="translate(868.1,143.8) rotate(70)" fill="#2aa2e0"/>
<ellipse cx="0" cy="0" rx="5.6" ry="4.6" transform="translate(854.5,145.5) rotate(75)" fill="#2aa2e0"/>
<ellipse cx="0" cy="0" rx="5.5" ry="4.3" transform="translate(864.0,120.9) rotate(70)" fill="#2aa2e0"/>
<ellipse cx="0" cy="0" rx="6.2" ry="4.3" transform="translate(867.4,141.9) rotate(75)" fill="#2aa2e0"/>
<ellipse cx="0" cy="0" rx="6.5" ry="4.0" transform="translate(849.1,127.4) rotate(70)" fill="#2aa2e0"/>
<ellipse cx="0" cy="0" rx="5.0" ry="4.1" transform="translate(883.8,223.6) rotate(120)" fill="#2aa2e0"/>
<ellipse cx="0" cy="0" rx="5.1" ry="4.1" transform="translate(857.7,213.2) rotate(105)" fill="#2aa2e0"/>
<ellipse cx="0" cy="0" rx="6.6" ry="4.3" transform="translate(867.5,216.2) rotate(75)" fill="#2aa2e0"/>
<ellipse cx="0" cy="0" rx="5.6" ry="4.7" transform="translate(876.2,230.8) rotate(75)" fill="#2aa2e0"/>
<ellipse cx="0" cy="0" rx="6.6" ry="4.5" transform="translate(865.1,224.0) rotate(70)" fill="#2aa2e0"/>
<ellipse cx="0" cy="0" rx="5.1" ry="4.4" transform="translate(859.4,210.4) rotate(135)" fill="#2aa2e0"/>
<ellipse cx="0" cy="0" rx="4.7" ry="4.1" transform="translate(850.0,218.5) rotate(135)" fill="#2aa2e0"/>
<ellipse cx="0" cy="0" rx="5.0" ry="4.1" transform="translate(857.2,219.2) rotate(90)" fill="#2aa2e0"/>
<ellipse cx="0" cy="0" rx="4.6" ry="4.3" transform="translate(917.0,212.3) rotate(135)" fill="#2aa2e0"/>
<ellipse cx="0" cy="0" rx="5.0" ry="4.5" transform="translate(903.1,193.0) rotate(120)" fill="#2aa2e0"/>
<ellipse cx="0" cy="0" rx="5.3" ry="4.3" transform="translate(929.9,190.8) rotate(105)" fill="#2aa2e0"/>
<ellipse cx="0" cy="0" rx="5.1" ry="3.9" transform="translate(930.6,199.0) rotate(90)" fill="#2aa2e0"/>
<ellipse cx="0" cy="0" rx="5.1" ry="4.3" transform="translate(914.1,173.4) rotate(105)" fill="#2aa2e0"/>
<ellipse cx="0" cy="0" rx="5.7" ry="4.1" transform="translate(934.3,199.2) rotate(105)" fill="#2aa2e0"/>
<ellipse cx="0" cy="0" rx="5.1" ry="4.7" transform="translate(896.0,189.8) rotate(90)" fill="#2aa2e0"/>
<ellipse cx="0" cy="0" rx="5.6" ry="4.1" transform="translate(911.3,166.1) rotate(45)" fill="#2aa2e0"/>
<ellipse cx="0" cy="0" rx="5.4" ry="4.7" transform="translate(916.9,201.4) rotate(90)" fill="#2aa2e0"/>
<ellipse cx="0" cy="0" rx="5.0" ry="4.0" transform="translate(913.1,201.6) rotate(60)" fill="#2aa2e0"/>
<ellipse cx="0" cy="0" rx="4.6" ry="4.3" transform="translate(987.8,195.3) rotate(75)" fill="#2aa2e0"/>
<ellipse cx="0" cy="0" rx="5.2" ry="4.3" transform="translate(984.2,219.6) rotate(90)" fill="#2aa2e0"/>
<ellipse cx="0" cy="0" rx="6.5" ry="4.1" transform="translate(966.5,191.8) rotate(70)" fill="#2aa2e0"/>
<ellipse cx="0" cy="0" rx="6.6" ry="4.4" transform="translate(967.8,202.5) rotate(45)" fill="#2aa2e0"/>
<ellipse cx="0" cy="0" rx="6.4" ry="3.9" transform="translate(980.7,202.3) rotate(110)" fill="#2aa2e0"/>
<ellipse cx="0" cy="0" rx="4.6" ry="4.2" transform="translate(991.8,238.4) rotate(120)" fill="#2aa2e0"/>
<ellipse cx="0" cy="0" rx="4.6" ry="4.7" transform="translate(980.8,257.7) rotate(105)" fill="#2aa2e0"/>
<ellipse cx="0" cy="0" rx="5.8" ry="4.4" transform="translate(968.9,195.7) rotate(110)" fill="#2aa2e0"/>
<ellipse cx="0" cy="0" rx="5.9" ry="3.9" transform="translate(958.9,226.3) rotate(110)" fill="#2aa2e0"/>
<ellipse cx="0" cy="0" rx="6.1" ry="4.0" transform="translate(989.4,238.0) rotate(120)" fill="#2aa2e0"/>
<polyline points="161.0,147.0 162.0,160.0 167.0,178.0 178.0,192.0 195.0,197.0 210.0,205.0 222.0,207.0" fill="none" stroke="#3f30a2" stroke-width="4.2" stroke-linecap="round" stroke-linejoin="round" stroke-dasharray="8 4 7 5" stroke-dashoffset="3"/>
<polyline points="170.0,162.0 190.0,167.0 203.0,180.0" fill="none" stroke="#3f30a2" stroke-width="4.2" stroke-linecap="round" stroke-linejoin="round" stroke-dasharray="14 6 9 5" stroke-dashoffset="7"/>
<polyline points="148.0,182.0 160.0,200.0 180.0,212.0 195.0,216.0 210.0,213.0" fill="none" stroke="#3f30a2" stroke-width="4.2" stroke-linecap="round" stroke-linejoin="round" stroke-dasharray="15 6 10 5" stroke-dashoffset="1"/>
<polyline points="190.0,220.0 175.0,240.0 168.0,255.0" fill="none" stroke="#3f30a2" stroke-width="4.2" stroke-linecap="round" stroke-linejoin="round" stroke-dasharray="15 6 5 6" stroke-dashoffset="5"/>
<polyline points="205.0,235.0 185.0,255.0 175.0,268.0" fill="none" stroke="#3f30a2" stroke-width="4.2" stroke-linecap="round" stroke-linejoin="round" stroke-dasharray="16 6 8 7" stroke-dashoffset="9"/>
<polyline points="181.0,273.0 205.0,274.0" fill="none" stroke="#3f30a2" stroke-width="4.2" stroke-linecap="round" stroke-linejoin="round" stroke-dasharray="14 6 8 6" stroke-dashoffset="9"/>
<polyline points="124.0,178.0 125.0,200.0 126.0,222.0" fill="none" stroke="#3f30a2" stroke-width="4.2" stroke-linecap="round" stroke-linejoin="round" stroke-dasharray="12 7 9 5" stroke-dashoffset="2"/>
<polyline points="144.0,152.0 145.0,165.0" fill="none" stroke="#3f30a2" stroke-width="4.2" stroke-linecap="round" stroke-linejoin="round" stroke-dasharray="10 5 12 3" stroke-dashoffset="2"/>
<polyline points="135.0,200.0 150.0,215.0 155.0,225.0" fill="none" stroke="#3f30a2" stroke-width="4.2" stroke-linecap="round" stroke-linejoin="round" stroke-dasharray="10 7 10 4" stroke-dashoffset="1"/>
<polyline points="140.0,225.0 158.0,226.0" fill="none" stroke="#3f30a2" stroke-width="4.2" stroke-linecap="round" stroke-linejoin="round" stroke-dasharray="13 7 9 6" stroke-dashoffset="6"/>
<polyline points="215.0,165.0 235.0,182.0" fill="none" stroke="#3f30a2" stroke-width="4.2" stroke-linecap="round" stroke-linejoin="round" stroke-dasharray="8 7 11 4" stroke-dashoffset="4"/>
<polyline points="230.0,158.0 232.0,170.0" fill="none" stroke="#3f30a2" stroke-width="4.2" stroke-linecap="round" stroke-linejoin="round" stroke-dasharray="16 8 11 6" stroke-dashoffset="2"/>
<polyline points="218.0,222.0 232.0,230.0 250.0,230.0 260.0,225.0" fill="none" stroke="#3f30a2" stroke-width="4.2" stroke-linecap="round" stroke-linejoin="round" stroke-dasharray="15 7 6 7" stroke-dashoffset="8"/>
<polyline points="236.0,198.0 240.0,215.0" fill="none" stroke="#3f30a2" stroke-width="4.2" stroke-linecap="round" stroke-linejoin="round" stroke-dasharray="15 8 6 4" stroke-dashoffset="8"/>
<polyline points="263.0,158.0 270.0,180.0" fill="none" stroke="#3f30a2" stroke-width="4.2" stroke-linecap="round" stroke-linejoin="round" stroke-dasharray="9 5 11 6" stroke-dashoffset="4"/>
<polyline points="268.0,195.0 278.0,205.0" fill="none" stroke="#3f30a2" stroke-width="4.2" stroke-linecap="round" stroke-linejoin="round" stroke-dasharray="11 7 12 6" stroke-dashoffset="3"/>
<polyline points="302.0,112.0 298.0,130.0 290.0,150.0 285.0,170.0 275.0,195.0 270.0,202.0" fill="none" stroke="#3f30a2" stroke-width="4.2" stroke-linecap="round" stroke-linejoin="round" stroke-dasharray="10 5 9 6" stroke-dashoffset="2"/>
<polyline points="308.0,125.0 305.0,150.0 310.0,170.0" fill="none" stroke="#3f30a2" stroke-width="4.2" stroke-linecap="round" stroke-linejoin="round" stroke-dasharray="14 6 9 5" stroke-dashoffset="4"/>
<polyline points="315.0,155.0 312.0,185.0 318.0,220.0" fill="none" stroke="#3f30a2" stroke-width="4.2" stroke-linecap="round" stroke-linejoin="round" stroke-dasharray="8 6 10 7" stroke-dashoffset="10"/>
<polyline points="330.0,155.0 335.0,180.0 328.0,205.0 332.0,225.0" fill="none" stroke="#3f30a2" stroke-width="4.2" stroke-linecap="round" stroke-linejoin="round" stroke-dasharray="13 5 11 5" stroke-dashoffset="10"/>
<polyline points="348.0,75.0 342.0,120.0 345.0,160.0 343.0,200.0 345.0,225.0" fill="none" stroke="#3f30a2" stroke-width="4.2" stroke-linecap="round" stroke-linejoin="round" stroke-dasharray="16 4 5 3" stroke-dashoffset="7"/>
<polyline points="368.0,78.0 372.0,110.0 382.0,140.0 390.0,160.0" fill="none" stroke="#3f30a2" stroke-width="4.2" stroke-linecap="round" stroke-linejoin="round" stroke-dasharray="12 6 7 5" stroke-dashoffset="1"/>
<polyline points="395.0,122.0 398.0,135.0" fill="none" stroke="#3f30a2" stroke-width="4.2" stroke-linecap="round" stroke-linejoin="round" stroke-dasharray="10 7 7 3" stroke-dashoffset="6"/>
<polyline points="400.0,145.0 405.0,185.0 412.0,215.0" fill="none" stroke="#3f30a2" stroke-width="4.2" stroke-linecap="round" stroke-linejoin="round" stroke-dasharray="16 8 11 6" stroke-dashoffset="0"/>
<polyline points="415.0,205.0 425.0,225.0" fill="none" stroke="#3f30a2" stroke-width="4.2" stroke-linecap="round" stroke-linejoin="round" stroke-dasharray="9 6 9 6" stroke-dashoffset="0"/>
<polyline points="357.0,235.0 365.0,250.0 375.0,262.0 390.0,275.0 405.0,275.0" fill="none" stroke="#3f30a2" stroke-width="4.2" stroke-linecap="round" stroke-linejoin="round" stroke-dasharray="13 4 10 3" stroke-dashoffset="5"/>
<polyline points="283.0,190.0 290.0,200.0 295.0,215.0" fill="none" stroke="#3f30a2" stroke-width="4.2" stroke-linecap="round" stroke-linejoin="round" stroke-dasharray="14 8 11 6" stroke-dashoffset="3"/>
<polyline points="480.0,118.0 495.0,112.0 510.0,110.0 525.0,112.0" fill="none" stroke="#3f30a2" stroke-width="4.2" stroke-linecap="round" stroke-linejoin="round" stroke-dasharray="13 6 8 5" stroke-dashoffset="4"/>
<polyline points="478.0,125.0 476.0,145.0 478.0,165.0 485.0,185.0 492.0,200.0 502.0,210.0" fill="none" stroke="#3f30a2" stroke-width="4.2" stroke-linecap="round" stroke-linejoin="round" stroke-dasharray="11 7 10 7" stroke-dashoffset="9"/>
<polyline points="505.0,212.0 520.0,208.0 535.0,200.0 545.0,192.0" fill="none" stroke="#3f30a2" stroke-width="4.2" stroke-linecap="round" stroke-linejoin="round" stroke-dasharray="14 4 9 5" stroke-dashoffset="8"/>
<polyline points="535.0,125.0 542.0,145.0 546.0,165.0 548.0,185.0" fill="none" stroke="#3f30a2" stroke-width="4.2" stroke-linecap="round" stroke-linejoin="round" stroke-dasharray="15 5 5 6" stroke-dashoffset="10"/>
<polyline points="495.0,135.0 505.0,150.0 500.0,165.0" fill="none" stroke="#3f30a2" stroke-width="4.2" stroke-linecap="round" stroke-linejoin="round" stroke-dasharray="11 6 8 5" stroke-dashoffset="6"/>
<polyline points="515.0,130.0 522.0,150.0 518.0,170.0 525.0,185.0" fill="none" stroke="#3f30a2" stroke-width="4.2" stroke-linecap="round" stroke-linejoin="round" stroke-dasharray="14 8 8 5" stroke-dashoffset="5"/>
<polyline points="505.0,180.0 515.0,190.0" fill="none" stroke="#3f30a2" stroke-width="4.2" stroke-linecap="round" stroke-linejoin="round" stroke-dasharray="16 6 11 7" stroke-dashoffset="0"/>
<polyline points="517.0,93.0 519.0,108.0" fill="none" stroke="#3f30a2" stroke-width="4.2" stroke-linecap="round" stroke-linejoin="round" stroke-dasharray="14 4 8 6" stroke-dashoffset="1"/>
<polyline points="528.0,95.0 526.0,110.0" fill="none" stroke="#3f30a2" stroke-width="4.2" stroke-linecap="round" stroke-linejoin="round" stroke-dasharray="13 7 7 5" stroke-dashoffset="4"/>
<polyline points="438.0,118.0 442.0,140.0 447.0,165.0 455.0,190.0 462.0,210.0 470.0,230.0 476.0,240.0" fill="none" stroke="#3f30a2" stroke-width="4.2" stroke-linecap="round" stroke-linejoin="round" stroke-dasharray="9 5 12 6" stroke-dashoffset="5"/>
<polyline points="402.0,140.0 408.0,165.0 415.0,195.0 425.0,215.0 430.0,232.0" fill="none" stroke="#3f30a2" stroke-width="4.2" stroke-linecap="round" stroke-linejoin="round" stroke-dasharray="14 7 10 5" stroke-dashoffset="5"/>
<polyline points="436.0,246.0 445.0,256.0 457.0,253.0" fill="none" stroke="#3f30a2" stroke-width="4.2" stroke-linecap="round" stroke-linejoin="round" stroke-dasharray="11 4 11 3" stroke-dashoffset="4"/>
<polyline points="537.0,230.0 532.0,240.0" fill="none" stroke="#3f30a2" stroke-width="4.2" stroke-linecap="round" stroke-linejoin="round" stroke-dasharray="15 5 11 3" stroke-dashoffset="1"/>
<polyline points="538.0,250.0 537.0,265.0" fill="none" stroke="#3f30a2" stroke-width="4.2" stroke-linecap="round" stroke-linejoin="round" stroke-dasharray="12 7 11 7" stroke-dashoffset="8"/>
<polyline points="560.0,253.0 572.0,251.0" fill="none" stroke="#3f30a2" stroke-width="4.2" stroke-linecap="round" stroke-linejoin="round" stroke-dasharray="9 8 5 5" stroke-dashoffset="3"/>
<polyline points="548.0,265.0 550.0,272.0" fill="none" stroke="#3f30a2" stroke-width="4.2" stroke-linecap="round" stroke-linejoin="round" stroke-dasharray="8 5 12 7" stroke-dashoffset="3"/>
<polyline points="556.0,112.0 560.0,135.0" fill="none" stroke="#3f30a2" stroke-width="4.2" stroke-linecap="round" stroke-linejoin="round" stroke-dasharray="16 7 5 5" stroke-dashoffset="2"/>
<polyline points="570.0,150.0 575.0,175.0 585.0,190.0" fill="none" stroke="#3f30a2" stroke-width="4.2" stroke-linecap="round" stroke-linejoin="round" stroke-dasharray="10 7 6 4" stroke-dashoffset="0"/>
<polyline points="590.0,120.0 597.0,140.0" fill="none" stroke="#3f30a2" stroke-width="4.2" stroke-linecap="round" stroke-linejoin="round" stroke-dasharray="11 5 6 3" stroke-dashoffset="4"/>
<polyline points="560.0,190.0 570.0,205.0" fill="none" stroke="#3f30a2" stroke-width="4.2" stroke-linecap="round" stroke-linejoin="round" stroke-dasharray="9 8 7 4" stroke-dashoffset="1"/>
<polyline points="575.0,125.0 580.0,140.0" fill="none" stroke="#3f30a2" stroke-width="4.2" stroke-linecap="round" stroke-linejoin="round" stroke-dasharray="14 5 6 4" stroke-dashoffset="9"/>
<polyline points="590.0,165.0 598.0,185.0" fill="none" stroke="#3f30a2" stroke-width="4.2" stroke-linecap="round" stroke-linejoin="round" stroke-dasharray="15 6 9 3" stroke-dashoffset="9"/>
<polyline points="628.0,155.0 635.0,175.0" fill="none" stroke="#3f30a2" stroke-width="4.2" stroke-linecap="round" stroke-linejoin="round" stroke-dasharray="14 5 11 4" stroke-dashoffset="5"/>
<polyline points="612.0,120.0 615.0,150.0 620.0,195.0" fill="none" stroke="#3f30a2" stroke-width="4.2" stroke-linecap="round" stroke-linejoin="round" stroke-dasharray="10 6 7 5" stroke-dashoffset="3"/>
<polyline points="641.0,111.0 650.0,130.0 655.0,150.0 663.0,156.0" fill="none" stroke="#3f30a2" stroke-width="4.2" stroke-linecap="round" stroke-linejoin="round" stroke-dasharray="8 4 11 5" stroke-dashoffset="5"/>
<polyline points="655.0,112.0 648.0,125.0 648.0,145.0 655.0,165.0 645.0,180.0 640.0,195.0" fill="none" stroke="#3f30a2" stroke-width="4.2" stroke-linecap="round" stroke-linejoin="round" stroke-dasharray="13 5 6 5" stroke-dashoffset="8"/>
<polyline points="663.0,200.0 674.0,244.0 681.0,273.0 700.0,288.0 714.0,303.0 725.0,304.0" fill="none" stroke="#3f30a2" stroke-width="4.2" stroke-linecap="round" stroke-linejoin="round" stroke-dasharray="14 6 9 4" stroke-dashoffset="9"/>
<polyline points="700.0,251.0 714.0,280.0" fill="none" stroke="#3f30a2" stroke-width="4.2" stroke-linecap="round" stroke-linejoin="round" stroke-dasharray="13 7 8 5" stroke-dashoffset="7"/>
<polyline points="718.0,115.0 722.0,130.0 733.0,152.0" fill="none" stroke="#3f30a2" stroke-width="4.2" stroke-linecap="round" stroke-linejoin="round" stroke-dasharray="12 7 7 6" stroke-dashoffset="3"/>
<polyline points="728.0,115.0 733.0,140.0" fill="none" stroke="#3f30a2" stroke-width="4.2" stroke-linecap="round" stroke-linejoin="round" stroke-dasharray="12 5 8 7" stroke-dashoffset="0"/>
<polyline points="736.0,150.0 740.0,165.0" fill="none" stroke="#3f30a2" stroke-width="4.2" stroke-linecap="round" stroke-linejoin="round" stroke-dasharray="10 6 10 6" stroke-dashoffset="7"/>
<polyline points="715.0,213.0 730.0,180.0 739.0,195.0 748.0,186.0 760.0,174.0" fill="none" stroke="#3f30a2" stroke-width="4.2" stroke-linecap="round" stroke-linejoin="round" stroke-dasharray="14 6 6 5" stroke-dashoffset="3"/>
<polyline points="769.0,192.0 778.0,180.0 787.0,198.0" fill="none" stroke="#3f30a2" stroke-width="4.2" stroke-linecap="round" stroke-linejoin="round" stroke-dasharray="8 6 12 5" stroke-dashoffset="8"/>
<polyline points="760.0,210.0 784.0,228.0" fill="none" stroke="#3f30a2" stroke-width="4.2" stroke-linecap="round" stroke-linejoin="round" stroke-dasharray="13 4 9 7" stroke-dashoffset="7"/>
<polyline points="790.0,210.0 808.0,232.0 826.0,258.0" fill="none" stroke="#3f30a2" stroke-width="4.2" stroke-linecap="round" stroke-linejoin="round" stroke-dasharray="10 8 10 7" stroke-dashoffset="8"/>
<polyline points="880.0,180.0 890.0,210.0 899.0,234.0" fill="none" stroke="#3f30a2" stroke-width="4.2" stroke-linecap="round" stroke-linejoin="round" stroke-dasharray="13 6 9 4" stroke-dashoffset="9"/>
<polyline points="828.0,214.0 832.0,200.0 836.0,178.0" fill="none" stroke="#3f30a2" stroke-width="4.2" stroke-linecap="round" stroke-linejoin="round" stroke-dasharray="9 8 7 5" stroke-dashoffset="6"/>
<polyline points="850.0,207.0 861.0,229.0" fill="none" stroke="#3f30a2" stroke-width="4.2" stroke-linecap="round" stroke-linejoin="round" stroke-dasharray="10 6 5 6" stroke-dashoffset="1"/>
<polyline points="847.0,227.0 869.0,227.0" fill="none" stroke="#3f30a2" stroke-width="4.2" stroke-linecap="round" stroke-linejoin="round" stroke-dasharray="15 7 11 6" stroke-dashoffset="2"/>
<polyline points="854.0,119.0 858.0,152.0 876.0,170.0" fill="none" stroke="#3f30a2" stroke-width="4.2" stroke-linecap="round" stroke-linejoin="round" stroke-dasharray="13 4 10 6" stroke-dashoffset="2"/>
<polyline points="883.0,207.0 891.0,233.0" fill="none" stroke="#3f30a2" stroke-width="4.2" stroke-linecap="round" stroke-linejoin="round" stroke-dasharray="12 4 10 6" stroke-dashoffset="1"/>
<polyline points="898.0,156.0 913.0,189.0 928.0,200.0 946.0,207.0" fill="none" stroke="#3f30a2" stroke-width="4.2" stroke-linecap="round" stroke-linejoin="round" stroke-dasharray="13 8 6 7" stroke-dashoffset="3"/>
<polyline points="917.0,145.0 913.0,170.0" fill="none" stroke="#3f30a2" stroke-width="4.2" stroke-linecap="round" stroke-linejoin="round" stroke-dasharray="8 4 10 4" stroke-dashoffset="9"/>
<polyline points="902.0,225.0 909.0,247.0" fill="none" stroke="#3f30a2" stroke-width="4.2" stroke-linecap="round" stroke-linejoin="round" stroke-dasharray="11 4 11 4" stroke-dashoffset="1"/>
<polyline points="957.0,207.0 964.0,244.0 979.0,270.0 994.0,277.0" fill="none" stroke="#3f30a2" stroke-width="4.2" stroke-linecap="round" stroke-linejoin="round" stroke-dasharray="8 5 8 5" stroke-dashoffset="6"/>
<polyline points="975.0,181.0 972.0,207.0" fill="none" stroke="#3f30a2" stroke-width="4.2" stroke-linecap="round" stroke-linejoin="round" stroke-dasharray="9 4 11 5" stroke-dashoffset="7"/>
<polyline points="990.0,185.0 994.0,225.0 983.0,255.0" fill="none" stroke="#3f30a2" stroke-width="4.2" stroke-linecap="round" stroke-linejoin="round" stroke-dasharray="15 6 10 4" stroke-dashoffset="2"/>
<polyline points="905.0,251.0 928.0,258.0" fill="none" stroke="#3f30a2" stroke-width="4.2" stroke-linecap="round" stroke-linejoin="round" stroke-dasharray="12 8 12 4" stroke-dashoffset="6"/>
<polyline points="760.0,170.0 772.0,180.0 780.0,200.0" fill="none" stroke="#3f30a2" stroke-width="4.2" stroke-linecap="round" stroke-linejoin="round" stroke-dasharray="10 5 7 7" stroke-dashoffset="4"/>
<polyline points="793.0,215.0 805.0,225.0" fill="none" stroke="#3f30a2" stroke-width="4.2" stroke-linecap="round" stroke-linejoin="round" stroke-dasharray="12 4 11 3" stroke-dashoffset="8"/>
<polyline points="822.0,255.0 835.0,265.0" fill="none" stroke="#3f30a2" stroke-width="4.2" stroke-linecap="round" stroke-linejoin="round" stroke-dasharray="10 5 5 4" stroke-dashoffset="10"/>
<ellipse cx="0" cy="0" rx="4.7" ry="3.1" transform="translate(161.0,150.3) rotate(107)" fill="#3f30a2"/>
<ellipse cx="0" cy="0" rx="4.9" ry="3.5" transform="translate(162.0,156.7) rotate(68)" fill="#3f30a2"/>
<ellipse cx="0" cy="0" rx="5.4" ry="3.3" transform="translate(163.3,162.9) rotate(72)" fill="#3f30a2"/>
<ellipse cx="0" cy="0" rx="4.9" ry="3.3" transform="translate(166.5,174.9) rotate(92)" fill="#3f30a2"/>
<ellipse cx="0" cy="0" rx="4.3" ry="2.7" transform="translate(173.2,184.4) rotate(38)" fill="#3f30a2"/>
<ellipse cx="0" cy="0" rx="5.9" ry="3.5" transform="translate(174.8,190.7) rotate(46)" fill="#3f30a2"/>
<ellipse cx="0" cy="0" rx="4.1" ry="3.3" transform="translate(180.9,192.4) rotate(20)" fill="#3f30a2"/>
<ellipse cx="0" cy="0" rx="3.8" ry="3.4" transform="translate(186.9,193.3) rotate(-4)" fill="#3f30a2"/>
<ellipse cx="0" cy="0" rx="4.6" ry="2.8" transform="translate(192.0,196.9) rotate(-3)" fill="#3f30a2"/>
<ellipse cx="0" cy="0" rx="4.7" ry="2.6" transform="translate(203.6,199.0) rotate(10)" fill="#3f30a2"/>
<ellipse cx="0" cy="0" rx="5.9" ry="3.1" transform="translate(213.1,204.9) rotate(7)" fill="#3f30a2"/>
<ellipse cx="0" cy="0" rx="3.8" ry="2.6" transform="translate(173.5,162.3) rotate(13)" fill="#3f30a2"/>
<ellipse cx="0" cy="0" rx="5.1" ry="2.7" transform="translate(186.7,166.1) rotate(22)" fill="#3f30a2"/>
<ellipse cx="0" cy="0" rx="4.9" ry="3.6" transform="translate(193.8,167.6) rotate(34)" fill="#3f30a2"/>
<ellipse cx="0" cy="0" rx="3.7" ry="2.6" transform="translate(196.2,173.8) rotate(27)" fill="#3f30a2"/>
<ellipse cx="0" cy="0" rx="5.1" ry="3.1" transform="translate(199.2,179.5) rotate(21)" fill="#3f30a2"/>
<ellipse cx="0" cy="0" rx="4.9" ry="3.4" transform="translate(147.9,186.4) rotate(35)" fill="#3f30a2"/>
<ellipse cx="0" cy="0" rx="5.7" ry="3.0" transform="translate(162.0,202.3) rotate(51)" fill="#3f30a2"/>
<ellipse cx="0" cy="0" rx="4.6" ry="2.9" transform="translate(173.5,205.9) rotate(19)" fill="#3f30a2"/>
<ellipse cx="0" cy="0" rx="4.9" ry="3.1" transform="translate(177.6,210.3) rotate(29)" fill="#3f30a2"/>
<ellipse cx="0" cy="0" rx="5.8" ry="2.9" transform="translate(183.8,213.0) rotate(21)" fill="#3f30a2"/>
<ellipse cx="0" cy="0" rx="5.4" ry="2.8" transform="translate(198.9,215.9) rotate(4)" fill="#3f30a2"/>
<ellipse cx="0" cy="0" rx="5.3" ry="3.6" transform="translate(206.6,215.4) rotate(6)" fill="#3f30a2"/>
<ellipse cx="0" cy="0" rx="4.3" ry="3.2" transform="translate(185.1,228.0) rotate(143)" fill="#3f30a2"/>
<ellipse cx="0" cy="0" rx="5.0" ry="3.3" transform="translate(181.2,232.9) rotate(134)" fill="#3f30a2"/>
<ellipse cx="0" cy="0" rx="4.7" ry="3.3" transform="translate(178.7,238.9) rotate(133)" fill="#3f30a2"/>
<ellipse cx="0" cy="0" rx="4.1" ry="2.6" transform="translate(172.9,248.1) rotate(114)" fill="#3f30a2"/>
<ellipse cx="0" cy="0" rx="5.4" ry="3.0" transform="translate(169.1,252.5) rotate(121)" fill="#3f30a2"/>
<ellipse cx="0" cy="0" rx="5.7" ry="3.6" transform="translate(190.2,248.2) rotate(121)" fill="#3f30a2"/>
<ellipse cx="0" cy="0" rx="5.8" ry="3.5" transform="translate(186.0,252.0) rotate(126)" fill="#3f30a2"/>
<ellipse cx="0" cy="0" rx="5.7" ry="3.0" transform="translate(180.8,257.0) rotate(113)" fill="#3f30a2"/>
<ellipse cx="0" cy="0" rx="5.7" ry="3.2" transform="translate(184.0,274.0) rotate(-1)" fill="#3f30a2"/>
<ellipse cx="0" cy="0" rx="5.2" ry="3.6" transform="translate(195.9,275.7) rotate(-10)" fill="#3f30a2"/>
<ellipse cx="0" cy="0" rx="4.9" ry="2.9" transform="translate(202.0,272.9) rotate(-16)" fill="#3f30a2"/>
<ellipse cx="0" cy="0" rx="4.6" ry="3.4" transform="translate(121.8,180.9) rotate(88)" fill="#3f30a2"/>
<ellipse cx="0" cy="0" rx="4.6" ry="2.9" transform="translate(122.3,186.3) rotate(102)" fill="#3f30a2"/>
<ellipse cx="0" cy="0" rx="5.1" ry="3.6" transform="translate(125.5,191.7) rotate(72)" fill="#3f30a2"/>
<ellipse cx="0" cy="0" rx="4.8" ry="3.1" transform="translate(123.8,197.3) rotate(75)" fill="#3f30a2"/>
<ellipse cx="0" cy="0" rx="5.1" ry="3.2" transform="translate(124.5,202.8) rotate(104)" fill="#3f30a2"/>
<ellipse cx="0" cy="0" rx="4.9" ry="3.2" transform="translate(126.8,208.2) rotate(73)" fill="#3f30a2"/>
<ellipse cx="0" cy="0" rx="5.5" ry="2.7" transform="translate(145.7,155.1) rotate(92)" fill="#3f30a2"/>
<ellipse cx="0" cy="0" rx="5.2" ry="2.8" transform="translate(143.5,161.8) rotate(86)" fill="#3f30a2"/>
<ellipse cx="0" cy="0" rx="4.7" ry="3.4" transform="translate(149.0,211.0) rotate(68)" fill="#3f30a2"/>
<ellipse cx="0" cy="0" rx="4.1" ry="3.0" transform="translate(150.7,217.8) rotate(40)" fill="#3f30a2"/>
<ellipse cx="0" cy="0" rx="5.5" ry="3.3" transform="translate(155.9,221.4) rotate(83)" fill="#3f30a2"/>
<ellipse cx="0" cy="0" rx="4.8" ry="3.6" transform="translate(143.0,224.7) rotate(8)" fill="#3f30a2"/>
<ellipse cx="0" cy="0" rx="5.5" ry="3.4" transform="translate(148.9,227.6) rotate(15)" fill="#3f30a2"/>
<ellipse cx="0" cy="0" rx="5.1" ry="2.8" transform="translate(218.0,166.6) rotate(47)" fill="#3f30a2"/>
<ellipse cx="0" cy="0" rx="5.0" ry="3.2" transform="translate(223.0,170.8) rotate(48)" fill="#3f30a2"/>
<ellipse cx="0" cy="0" rx="3.9" ry="2.9" transform="translate(233.5,178.7) rotate(34)" fill="#3f30a2"/>
<ellipse cx="0" cy="0" rx="5.0" ry="3.6" transform="translate(230.5,161.0) rotate(104)" fill="#3f30a2"/>
<ellipse cx="0" cy="0" rx="4.8" ry="2.9" transform="translate(228.3,228.4) rotate(26)" fill="#3f30a2"/>
<ellipse cx="0" cy="0" rx="4.3" ry="2.6" transform="translate(235.0,228.9) rotate(11)" fill="#3f30a2"/>
<ellipse cx="0" cy="0" rx="5.0" ry="3.4" transform="translate(241.0,229.1) rotate(-5)" fill="#3f30a2"/>
<ellipse cx="0" cy="0" rx="5.3" ry="3.1" transform="translate(247.0,230.1) rotate(22)" fill="#3f30a2"/>
<ellipse cx="0" cy="0" rx="4.1" ry="2.7" transform="translate(257.8,226.8) rotate(-29)" fill="#3f30a2"/>
<ellipse cx="0" cy="0" rx="4.5" ry="3.4" transform="translate(236.0,201.0) rotate(86)" fill="#3f30a2"/>
<ellipse cx="0" cy="0" rx="4.8" ry="3.1" transform="translate(239.0,206.3) rotate(58)" fill="#3f30a2"/>
<ellipse cx="0" cy="0" rx="4.2" ry="3.6" transform="translate(240.8,211.8) rotate(66)" fill="#3f30a2"/>
<ellipse cx="0" cy="0" rx="3.9" ry="3.2" transform="translate(264.2,160.6) rotate(79)" fill="#3f30a2"/>
<ellipse cx="0" cy="0" rx="5.7" ry="2.7" transform="translate(276.0,202.0) rotate(25)" fill="#3f30a2"/>
<ellipse cx="0" cy="0" rx="5.1" ry="3.3" transform="translate(302.3,115.2) rotate(123)" fill="#3f30a2"/>
<ellipse cx="0" cy="0" rx="4.7" ry="2.8" transform="translate(296.5,133.3) rotate(136)" fill="#3f30a2"/>
<ellipse cx="0" cy="0" rx="5.0" ry="3.4" transform="translate(291.9,146.9) rotate(97)" fill="#3f30a2"/>
<ellipse cx="0" cy="0" rx="4.9" ry="3.2" transform="translate(291.5,153.9) rotate(105)" fill="#3f30a2"/>
<ellipse cx="0" cy="0" rx="4.9" ry="3.4" transform="translate(286.0,159.6) rotate(82)" fill="#3f30a2"/>
<ellipse cx="0" cy="0" rx="5.6" ry="3.0" transform="translate(285.1,166.5) rotate(84)" fill="#3f30a2"/>
<ellipse cx="0" cy="0" rx="4.7" ry="3.0" transform="translate(281.9,172.4) rotate(104)" fill="#3f30a2"/>
<ellipse cx="0" cy="0" rx="5.5" ry="2.7" transform="translate(282.9,180.0) rotate(111)" fill="#3f30a2"/>
<ellipse cx="0" cy="0" rx="4.5" ry="2.6" transform="translate(277.6,185.1) rotate(136)" fill="#3f30a2"/>
<ellipse cx="0" cy="0" rx="4.6" ry="3.0" transform="translate(275.3,191.5) rotate(127)" fill="#3f30a2"/>
<ellipse cx="0" cy="0" rx="5.9" ry="2.7" transform="translate(272.8,198.7) rotate(115)" fill="#3f30a2"/>
<ellipse cx="0" cy="0" rx="4.4" ry="2.8" transform="translate(307.0,134.4) rotate(112)" fill="#3f30a2"/>
<ellipse cx="0" cy="0" rx="5.8" ry="3.6" transform="translate(304.2,140.4) rotate(92)" fill="#3f30a2"/>
<ellipse cx="0" cy="0" rx="5.7" ry="3.0" transform="translate(304.5,153.7) rotate(56)" fill="#3f30a2"/>
<ellipse cx="0" cy="0" rx="5.2" ry="2.8" transform="translate(308.6,159.7) rotate(100)" fill="#3f30a2"/>
<ellipse cx="0" cy="0" rx="5.4" ry="2.8" transform="translate(307.3,167.1) rotate(72)" fill="#3f30a2"/>
<ellipse cx="0" cy="0" rx="4.0" ry="2.7" transform="translate(315.6,164.1) rotate(117)" fill="#3f30a2"/>
<ellipse cx="0" cy="0" rx="3.7" ry="3.0" transform="translate(311.5,175.9) rotate(93)" fill="#3f30a2"/>
<ellipse cx="0" cy="0" rx="5.2" ry="3.3" transform="translate(314.6,187.6) rotate(62)" fill="#3f30a2"/>
<ellipse cx="0" cy="0" rx="3.7" ry="3.6" transform="translate(314.2,199.6) rotate(78)" fill="#3f30a2"/>
<ellipse cx="0" cy="0" rx="4.5" ry="3.2" transform="translate(314.9,205.5) rotate(70)" fill="#3f30a2"/>
<ellipse cx="0" cy="0" rx="4.4" ry="2.9" transform="translate(317.1,211.1) rotate(61)" fill="#3f30a2"/>
<ellipse cx="0" cy="0" rx="4.1" ry="2.8" transform="translate(319.3,216.8) rotate(87)" fill="#3f30a2"/>
<ellipse cx="0" cy="0" rx="3.8" ry="3.6" transform="translate(332.5,157.8) rotate(74)" fill="#3f30a2"/>
<ellipse cx="0" cy="0" rx="3.7" ry="3.0" transform="translate(332.7,164.2) rotate(74)" fill="#3f30a2"/>
<ellipse cx="0" cy="0" rx="4.4" ry="3.0" transform="translate(333.8,177.0) rotate(55)" fill="#3f30a2"/>
<ellipse cx="0" cy="0" rx="5.5" ry="3.5" transform="translate(334.7,183.3) rotate(106)" fill="#3f30a2"/>
<ellipse cx="0" cy="0" rx="4.9" ry="3.0" transform="translate(331.1,189.0) rotate(126)" fill="#3f30a2"/>
<ellipse cx="0" cy="0" rx="4.4" ry="3.6" transform="translate(328.3,208.4) rotate(89)" fill="#3f30a2"/>
<ellipse cx="0" cy="0" rx="3.8" ry="3.6" transform="translate(329.7,215.1) rotate(81)" fill="#3f30a2"/>
<ellipse cx="0" cy="0" rx="5.0" ry="3.5" transform="translate(329.4,222.1) rotate(66)" fill="#3f30a2"/>
<ellipse cx="0" cy="0" rx="5.8" ry="3.2" transform="translate(345.6,83.3) rotate(115)" fill="#3f30a2"/>
<ellipse cx="0" cy="0" rx="4.3" ry="3.2" transform="translate(347.0,94.9) rotate(99)" fill="#3f30a2"/>
<ellipse cx="0" cy="0" rx="5.7" ry="3.5" transform="translate(346.6,100.6) rotate(90)" fill="#3f30a2"/>
<ellipse cx="0" cy="0" rx="5.8" ry="3.1" transform="translate(343.5,111.6) rotate(101)" fill="#3f30a2"/>
<ellipse cx="0" cy="0" rx="4.5" ry="2.9" transform="translate(341.8,117.1) rotate(94)" fill="#3f30a2"/>
<ellipse cx="0" cy="0" rx="5.7" ry="3.6" transform="translate(340.9,128.7) rotate(73)" fill="#3f30a2"/>
<ellipse cx="0" cy="0" rx="5.8" ry="3.6" transform="translate(344.4,134.2) rotate(64)" fill="#3f30a2"/>
<ellipse cx="0" cy="0" rx="4.4" ry="2.7" transform="translate(345.6,151.3) rotate(76)" fill="#3f30a2"/>
<ellipse cx="0" cy="0" rx="4.0" ry="3.4" transform="translate(345.8,162.9) rotate(84)" fill="#3f30a2"/>
<ellipse cx="0" cy="0" rx="6.0" ry="2.8" transform="translate(345.9,174.4) rotate(112)" fill="#3f30a2"/>
<ellipse cx="0" cy="0" rx="3.9" ry="3.4" transform="translate(342.1,179.9) rotate(70)" fill="#3f30a2"/>
<ellipse cx="0" cy="0" rx="3.8" ry="2.8" transform="translate(341.5,185.6) rotate(90)" fill="#3f30a2"/>
<ellipse cx="0" cy="0" rx="4.9" ry="2.7" transform="translate(344.6,191.5) rotate(108)" fill="#3f30a2"/>
<ellipse cx="0" cy="0" rx="3.8" ry="3.6" transform="translate(342.3,197.1) rotate(91)" fill="#3f30a2"/>
<ellipse cx="0" cy="0" rx="6.0" ry="2.8" transform="translate(342.9,203.2) rotate(69)" fill="#3f30a2"/>
<ellipse cx="0" cy="0" rx="4.5" ry="3.6" transform="translate(343.9,209.4) rotate(98)" fill="#3f30a2"/>
<ellipse cx="0" cy="0" rx="4.3" ry="3.5" transform="translate(344.3,215.6) rotate(62)" fill="#3f30a2"/>
<ellipse cx="0" cy="0" rx="3.9" ry="3.1" transform="translate(367.9,81.3) rotate(96)" fill="#3f30a2"/>
<ellipse cx="0" cy="0" rx="5.3" ry="2.9" transform="translate(370.4,87.4) rotate(94)" fill="#3f30a2"/>
<ellipse cx="0" cy="0" rx="4.4" ry="3.2" transform="translate(370.3,94.0) rotate(102)" fill="#3f30a2"/>
<ellipse cx="0" cy="0" rx="5.3" ry="3.2" transform="translate(370.9,106.9) rotate(87)" fill="#3f30a2"/>
<ellipse cx="0" cy="0" rx="3.8" ry="3.5" transform="translate(374.1,112.6) rotate(76)" fill="#3f30a2"/>
<ellipse cx="0" cy="0" rx="4.7" ry="3.3" transform="translate(375.2,118.9) rotate(62)" fill="#3f30a2"/>
<ellipse cx="0" cy="0" rx="4.0" ry="3.0" transform="translate(380.2,130.6) rotate(91)" fill="#3f30a2"/>
<ellipse cx="0" cy="0" rx="4.3" ry="2.7" transform="translate(378.7,137.8) rotate(77)" fill="#3f30a2"/>
<ellipse cx="0" cy="0" rx="4.4" ry="3.6" transform="translate(385.3,142.6) rotate(55)" fill="#3f30a2"/>
<ellipse cx="0" cy="0" rx="6.0" ry="3.4" transform="translate(387.6,149.4) rotate(72)" fill="#3f30a2"/>
<ellipse cx="0" cy="0" rx="4.5" ry="2.8" transform="translate(387.4,157.2) rotate(54)" fill="#3f30a2"/>
<ellipse cx="0" cy="0" rx="5.3" ry="3.0" transform="translate(397.8,131.6) rotate(56)" fill="#3f30a2"/>
<ellipse cx="0" cy="0" rx="3.9" ry="2.7" transform="translate(399.6,147.9) rotate(69)" fill="#3f30a2"/>
<ellipse cx="0" cy="0" rx="5.7" ry="2.9" transform="translate(402.4,159.2) rotate(62)" fill="#3f30a2"/>
<ellipse cx="0" cy="0" rx="4.2" ry="2.6" transform="translate(404.7,164.7) rotate(78)" fill="#3f30a2"/>
<ellipse cx="0" cy="0" rx="4.2" ry="3.4" transform="translate(405.0,170.5) rotate(93)" fill="#3f30a2"/>
<ellipse cx="0" cy="0" rx="5.3" ry="3.0" transform="translate(405.4,176.2) rotate(72)" fill="#3f30a2"/>
<ellipse cx="0" cy="0" rx="5.1" ry="3.2" transform="translate(406.9,181.9) rotate(59)" fill="#3f30a2"/>
<ellipse cx="0" cy="0" rx="4.2" ry="3.3" transform="translate(404.9,194.5) rotate(95)" fill="#3f30a2"/>
<ellipse cx="0" cy="0" rx="3.8" ry="3.0" transform="translate(416.7,207.3) rotate(57)" fill="#3f30a2"/>
<ellipse cx="0" cy="0" rx="4.7" ry="3.2" transform="translate(420.5,217.9) rotate(48)" fill="#3f30a2"/>
<ellipse cx="0" cy="0" rx="5.4" ry="3.3" transform="translate(423.4,222.7) rotate(86)" fill="#3f30a2"/>
<ellipse cx="0" cy="0" rx="5.6" ry="3.5" transform="translate(358.7,237.3) rotate(51)" fill="#3f30a2"/>
<ellipse cx="0" cy="0" rx="4.0" ry="2.8" transform="translate(361.6,242.2) rotate(86)" fill="#3f30a2"/>
<ellipse cx="0" cy="0" rx="5.2" ry="3.2" transform="translate(364.8,246.9) rotate(62)" fill="#3f30a2"/>
<ellipse cx="0" cy="0" rx="4.4" ry="3.0" transform="translate(366.2,254.1) rotate(74)" fill="#3f30a2"/>
<ellipse cx="0" cy="0" rx="5.2" ry="3.6" transform="translate(371.7,259.7) rotate(60)" fill="#3f30a2"/>
<ellipse cx="0" cy="0" rx="5.0" ry="3.0" transform="translate(377.1,264.6) rotate(40)" fill="#3f30a2"/>
<ellipse cx="0" cy="0" rx="3.8" ry="2.7" transform="translate(382.5,268.6) rotate(22)" fill="#3f30a2"/>
<ellipse cx="0" cy="0" rx="5.7" ry="2.7" transform="translate(388.6,271.6) rotate(59)" fill="#3f30a2"/>
<ellipse cx="0" cy="0" rx="4.1" ry="3.2" transform="translate(393.8,273.4) rotate(18)" fill="#3f30a2"/>
<ellipse cx="0" cy="0" rx="5.1" ry="2.9" transform="translate(401.2,273.3) rotate(-15)" fill="#3f30a2"/>
<ellipse cx="0" cy="0" rx="4.0" ry="2.8" transform="translate(288.7,197.2) rotate(64)" fill="#3f30a2"/>
<ellipse cx="0" cy="0" rx="4.8" ry="3.0" transform="translate(296.0,210.5) rotate(74)" fill="#3f30a2"/>
<ellipse cx="0" cy="0" rx="4.1" ry="2.9" transform="translate(483.9,116.9) rotate(-13)" fill="#3f30a2"/>
<ellipse cx="0" cy="0" rx="5.7" ry="3.5" transform="translate(491.9,115.0) rotate(-19)" fill="#3f30a2"/>
<ellipse cx="0" cy="0" rx="4.2" ry="3.1" transform="translate(498.8,112.1) rotate(-19)" fill="#3f30a2"/>
<ellipse cx="0" cy="0" rx="5.5" ry="3.6" transform="translate(513.9,109.7) rotate(-10)" fill="#3f30a2"/>
<ellipse cx="0" cy="0" rx="5.1" ry="2.9" transform="translate(521.2,111.8) rotate(15)" fill="#3f30a2"/>
<ellipse cx="0" cy="0" rx="4.1" ry="2.6" transform="translate(475.3,134.8) rotate(107)" fill="#3f30a2"/>
<ellipse cx="0" cy="0" rx="5.7" ry="2.7" transform="translate(478.5,141.9) rotate(94)" fill="#3f30a2"/>
<ellipse cx="0" cy="0" rx="5.4" ry="3.6" transform="translate(474.8,148.5) rotate(101)" fill="#3f30a2"/>
<ellipse cx="0" cy="0" rx="5.1" ry="3.0" transform="translate(476.1,161.8) rotate(78)" fill="#3f30a2"/>
<ellipse cx="0" cy="0" rx="4.4" ry="2.8" transform="translate(481.3,167.6) rotate(52)" fill="#3f30a2"/>
<ellipse cx="0" cy="0" rx="4.4" ry="3.2" transform="translate(481.5,175.0) rotate(66)" fill="#3f30a2"/>
<ellipse cx="0" cy="0" rx="5.4" ry="2.7" transform="translate(482.0,182.3) rotate(62)" fill="#3f30a2"/>
<ellipse cx="0" cy="0" rx="4.6" ry="3.3" transform="translate(484.1,188.5) rotate(51)" fill="#3f30a2"/>
<ellipse cx="0" cy="0" rx="5.2" ry="3.5" transform="translate(493.1,196.5) rotate(76)" fill="#3f30a2"/>
<ellipse cx="0" cy="0" rx="5.6" ry="3.3" transform="translate(494.3,202.7) rotate(26)" fill="#3f30a2"/>
<ellipse cx="0" cy="0" rx="3.7" ry="3.3" transform="translate(499.2,207.8) rotate(46)" fill="#3f30a2"/>
<ellipse cx="0" cy="0" rx="4.4" ry="3.4" transform="translate(509.4,213.4) rotate(-3)" fill="#3f30a2"/>
<ellipse cx="0" cy="0" rx="6.0" ry="3.1" transform="translate(516.7,210.8) rotate(-34)" fill="#3f30a2"/>
<ellipse cx="0" cy="0" rx="4.1" ry="2.9" transform="translate(527.6,204.2) rotate(-10)" fill="#3f30a2"/>
<ellipse cx="0" cy="0" rx="4.8" ry="2.9" transform="translate(532.6,201.6) rotate(-14)" fill="#3f30a2"/>
<ellipse cx="0" cy="0" rx="4.0" ry="3.0" transform="translate(543.8,195.6) rotate(-24)" fill="#3f30a2"/>
<ellipse cx="0" cy="0" rx="3.7" ry="3.3" transform="translate(536.6,128.2) rotate(76)" fill="#3f30a2"/>
<ellipse cx="0" cy="0" rx="4.1" ry="3.3" transform="translate(536.7,135.6) rotate(82)" fill="#3f30a2"/>
<ellipse cx="0" cy="0" rx="4.0" ry="3.2" transform="translate(544.1,148.0) rotate(92)" fill="#3f30a2"/>
<ellipse cx="0" cy="0" rx="5.3" ry="3.4" transform="translate(545.5,154.7) rotate(103)" fill="#3f30a2"/>
<ellipse cx="0" cy="0" rx="4.3" ry="2.7" transform="translate(545.9,161.5) rotate(84)" fill="#3f30a2"/>
<ellipse cx="0" cy="0" rx="4.3" ry="3.5" transform="translate(547.4,168.2) rotate(103)" fill="#3f30a2"/>
<ellipse cx="0" cy="0" rx="5.4" ry="3.2" transform="translate(544.8,175.2) rotate(79)" fill="#3f30a2"/>
<ellipse cx="0" cy="0" rx="3.7" ry="3.2" transform="translate(548.8,181.6) rotate(92)" fill="#3f30a2"/>
<ellipse cx="0" cy="0" rx="5.6" ry="3.2" transform="translate(497.3,137.1) rotate(72)" fill="#3f30a2"/>
<ellipse cx="0" cy="0" rx="5.3" ry="3.6" transform="translate(502.0,141.2) rotate(61)" fill="#3f30a2"/>
<ellipse cx="0" cy="0" rx="4.8" ry="3.1" transform="translate(505.8,154.4) rotate(92)" fill="#3f30a2"/>
<ellipse cx="0" cy="0" rx="5.5" ry="3.1" transform="translate(502.6,161.7) rotate(84)" fill="#3f30a2"/>
<ellipse cx="0" cy="0" rx="6.0" ry="2.8" transform="translate(515.4,133.6) rotate(57)" fill="#3f30a2"/>
<ellipse cx="0" cy="0" rx="5.5" ry="3.5" transform="translate(516.3,140.8) rotate(81)" fill="#3f30a2"/>
<ellipse cx="0" cy="0" rx="3.9" ry="3.0" transform="translate(519.7,153.0) rotate(120)" fill="#3f30a2"/>
<ellipse cx="0" cy="0" rx="5.2" ry="3.1" transform="translate(522.1,160.4) rotate(88)" fill="#3f30a2"/>
<ellipse cx="0" cy="0" rx="4.9" ry="3.1" transform="translate(520.1,166.9) rotate(99)" fill="#3f30a2"/>
<ellipse cx="0" cy="0" rx="5.9" ry="3.1" transform="translate(517.6,173.2) rotate(48)" fill="#3f30a2"/>
<ellipse cx="0" cy="0" rx="3.7" ry="2.7" transform="translate(525.4,181.8) rotate(67)" fill="#3f30a2"/>
<ellipse cx="0" cy="0" rx="5.7" ry="2.8" transform="translate(506.9,183.1) rotate(41)" fill="#3f30a2"/>
<ellipse cx="0" cy="0" rx="5.8" ry="2.7" transform="translate(513.8,186.2) rotate(69)" fill="#3f30a2"/>
<ellipse cx="0" cy="0" rx="3.8" ry="3.4" transform="translate(517.0,96.8) rotate(68)" fill="#3f30a2"/>
<ellipse cx="0" cy="0" rx="4.4" ry="3.5" transform="translate(520.2,104.0) rotate(77)" fill="#3f30a2"/>
<ellipse cx="0" cy="0" rx="5.9" ry="3.1" transform="translate(529.8,99.1) rotate(91)" fill="#3f30a2"/>
<ellipse cx="0" cy="0" rx="5.9" ry="3.3" transform="translate(527.2,106.3) rotate(85)" fill="#3f30a2"/>
<ellipse cx="0" cy="0" rx="4.1" ry="2.7" transform="translate(437.2,121.0) rotate(57)" fill="#3f30a2"/>
<ellipse cx="0" cy="0" rx="5.0" ry="3.4" transform="translate(437.7,126.6) rotate(65)" fill="#3f30a2"/>
<ellipse cx="0" cy="0" rx="5.0" ry="2.7" transform="translate(441.1,131.6) rotate(59)" fill="#3f30a2"/>
<ellipse cx="0" cy="0" rx="3.8" ry="3.2" transform="translate(444.8,142.7) rotate(92)" fill="#3f30a2"/>
<ellipse cx="0" cy="0" rx="4.0" ry="2.7" transform="translate(443.1,156.0) rotate(95)" fill="#3f30a2"/>
<ellipse cx="0" cy="0" rx="5.5" ry="3.1" transform="translate(445.1,162.1) rotate(88)" fill="#3f30a2"/>
<ellipse cx="0" cy="0" rx="3.9" ry="2.9" transform="translate(453.8,180.0) rotate(91)" fill="#3f30a2"/>
<ellipse cx="0" cy="0" rx="4.7" ry="3.4" transform="translate(455.2,193.7) rotate(70)" fill="#3f30a2"/>
<ellipse cx="0" cy="0" rx="4.0" ry="3.0" transform="translate(459.9,199.5) rotate(63)" fill="#3f30a2"/>
<ellipse cx="0" cy="0" rx="4.2" ry="2.7" transform="translate(462.3,213.8) rotate(72)" fill="#3f30a2"/>
<ellipse cx="0" cy="0" rx="5.1" ry="3.2" transform="translate(465.0,220.4) rotate(65)" fill="#3f30a2"/>
<ellipse cx="0" cy="0" rx="6.0" ry="3.0" transform="translate(471.5,232.5) rotate(42)" fill="#3f30a2"/>
<ellipse cx="0" cy="0" rx="4.1" ry="3.2" transform="translate(401.4,143.5) rotate(62)" fill="#3f30a2"/>
<ellipse cx="0" cy="0" rx="5.7" ry="3.6" transform="translate(403.0,149.7) rotate(81)" fill="#3f30a2"/>
<ellipse cx="0" cy="0" rx="4.3" ry="3.5" transform="translate(403.6,156.2) rotate(87)" fill="#3f30a2"/>
<ellipse cx="0" cy="0" rx="4.9" ry="2.9" transform="translate(408.5,161.6) rotate(53)" fill="#3f30a2"/>
<ellipse cx="0" cy="0" rx="4.0" ry="3.0" transform="translate(407.3,168.3) rotate(99)" fill="#3f30a2"/>
<ellipse cx="0" cy="0" rx="5.5" ry="2.8" transform="translate(411.9,173.6) rotate(56)" fill="#3f30a2"/>
<ellipse cx="0" cy="0" rx="4.4" ry="3.0" transform="translate(411.1,180.1) rotate(84)" fill="#3f30a2"/>
<ellipse cx="0" cy="0" rx="5.2" ry="3.0" transform="translate(412.7,186.0) rotate(76)" fill="#3f30a2"/>
<ellipse cx="0" cy="0" rx="5.0" ry="3.6" transform="translate(420.7,201.5) rotate(40)" fill="#3f30a2"/>
<ellipse cx="0" cy="0" rx="4.1" ry="3.1" transform="translate(425.6,211.6) rotate(65)" fill="#3f30a2"/>
<ellipse cx="0" cy="0" rx="3.7" ry="3.6" transform="translate(427.3,217.4) rotate(83)" fill="#3f30a2"/>
<ellipse cx="0" cy="0" rx="4.2" ry="2.9" transform="translate(425.6,224.1) rotate(61)" fill="#3f30a2"/>
<ellipse cx="0" cy="0" rx="5.1" ry="3.2" transform="translate(428.7,229.3) rotate(83)" fill="#3f30a2"/>
<ellipse cx="0" cy="0" rx="3.7" ry="2.7" transform="translate(438.2,248.6) rotate(71)" fill="#3f30a2"/>
<ellipse cx="0" cy="0" rx="5.9" ry="2.8" transform="translate(453.5,251.7) rotate(-20)" fill="#3f30a2"/>
<ellipse cx="0" cy="0" rx="5.0" ry="3.1" transform="translate(534.5,231.9) rotate(105)" fill="#3f30a2"/>
<ellipse cx="0" cy="0" rx="4.8" ry="3.4" transform="translate(534.8,238.3) rotate(104)" fill="#3f30a2"/>
<ellipse cx="0" cy="0" rx="4.4" ry="2.7" transform="translate(537.4,253.7) rotate(70)" fill="#3f30a2"/>
<ellipse cx="0" cy="0" rx="4.1" ry="3.0" transform="translate(535.9,261.2) rotate(81)" fill="#3f30a2"/>
<ellipse cx="0" cy="0" rx="6.0" ry="3.0" transform="translate(562.9,251.8) rotate(11)" fill="#3f30a2"/>
<ellipse cx="0" cy="0" rx="4.8" ry="3.5" transform="translate(569.1,252.0) rotate(3)" fill="#3f30a2"/>
<ellipse cx="0" cy="0" rx="4.8" ry="2.8" transform="translate(551.1,267.9) rotate(57)" fill="#3f30a2"/>
<ellipse cx="0" cy="0" rx="4.0" ry="3.5" transform="translate(557.4,126.6) rotate(101)" fill="#3f30a2"/>
<ellipse cx="0" cy="0" rx="4.3" ry="3.1" transform="translate(571.5,152.9) rotate(83)" fill="#3f30a2"/>
<ellipse cx="0" cy="0" rx="3.9" ry="3.3" transform="translate(570.4,159.7) rotate(67)" fill="#3f30a2"/>
<ellipse cx="0" cy="0" rx="3.9" ry="3.1" transform="translate(570.8,166.1) rotate(86)" fill="#3f30a2"/>
<ellipse cx="0" cy="0" rx="4.8" ry="2.6" transform="translate(575.1,171.7) rotate(104)" fill="#3f30a2"/>
<ellipse cx="0" cy="0" rx="4.0" ry="3.4" transform="translate(578.5,176.3) rotate(39)" fill="#3f30a2"/>
<ellipse cx="0" cy="0" rx="4.4" ry="2.8" transform="translate(581.8,181.3) rotate(33)" fill="#3f30a2"/>
<ellipse cx="0" cy="0" rx="5.2" ry="2.9" transform="translate(581.9,188.5) rotate(59)" fill="#3f30a2"/>
<ellipse cx="0" cy="0" rx="5.1" ry="3.0" transform="translate(592.8,122.7) rotate(75)" fill="#3f30a2"/>
<ellipse cx="0" cy="0" rx="4.4" ry="3.3" transform="translate(562.1,192.2) rotate(66)" fill="#3f30a2"/>
<ellipse cx="0" cy="0" rx="5.4" ry="3.4" transform="translate(565.1,197.4) rotate(37)" fill="#3f30a2"/>
<ellipse cx="0" cy="0" rx="4.8" ry="3.5" transform="translate(567.7,203.0) rotate(51)" fill="#3f30a2"/>
<ellipse cx="0" cy="0" rx="4.7" ry="2.7" transform="translate(574.0,129.5) rotate(61)" fill="#3f30a2"/>
<ellipse cx="0" cy="0" rx="4.2" ry="3.5" transform="translate(577.2,136.8) rotate(86)" fill="#3f30a2"/>
<ellipse cx="0" cy="0" rx="5.5" ry="3.6" transform="translate(595.3,174.5) rotate(85)" fill="#3f30a2"/>
<ellipse cx="0" cy="0" rx="5.5" ry="3.4" transform="translate(595.3,182.2) rotate(79)" fill="#3f30a2"/>
<ellipse cx="0" cy="0" rx="5.5" ry="3.2" transform="translate(629.1,158.4) rotate(63)" fill="#3f30a2"/>
<ellipse cx="0" cy="0" rx="5.9" ry="3.5" transform="translate(633.0,171.9) rotate(51)" fill="#3f30a2"/>
<ellipse cx="0" cy="0" rx="5.2" ry="3.1" transform="translate(611.6,123.1) rotate(97)" fill="#3f30a2"/>
<ellipse cx="0" cy="0" rx="3.7" ry="2.8" transform="translate(614.1,134.9) rotate(77)" fill="#3f30a2"/>
<ellipse cx="0" cy="0" rx="5.3" ry="3.1" transform="translate(613.3,141.1) rotate(98)" fill="#3f30a2"/>
<ellipse cx="0" cy="0" rx="4.8" ry="2.6" transform="translate(617.7,163.9) rotate(85)" fill="#3f30a2"/>
<ellipse cx="0" cy="0" rx="4.2" ry="2.8" transform="translate(617.3,169.7) rotate(96)" fill="#3f30a2"/>
<ellipse cx="0" cy="0" rx="5.8" ry="2.9" transform="translate(618.4,186.6) rotate(106)" fill="#3f30a2"/>
<ellipse cx="0" cy="0" rx="4.3" ry="3.3" transform="translate(621.4,192.0) rotate(86)" fill="#3f30a2"/>
<ellipse cx="0" cy="0" rx="4.5" ry="2.6" transform="translate(641.3,114.7) rotate(72)" fill="#3f30a2"/>
<ellipse cx="0" cy="0" rx="4.6" ry="2.6" transform="translate(648.8,126.7) rotate(68)" fill="#3f30a2"/>
<ellipse cx="0" cy="0" rx="4.5" ry="2.3" transform="translate(650.3,133.5) rotate(53)" fill="#3f30a2"/>
<ellipse cx="0" cy="0" rx="5.0" ry="3.0" transform="translate(655.4,146.4) rotate(88)" fill="#3f30a2"/>
<ellipse cx="0" cy="0" rx="4.7" ry="2.8" transform="translate(659.5,152.3) rotate(13)" fill="#3f30a2"/>
<ellipse cx="0" cy="0" rx="4.4" ry="2.4" transform="translate(654.3,115.8) rotate(104)" fill="#3f30a2"/>
<ellipse cx="0" cy="0" rx="4.9" ry="3.0" transform="translate(648.0,128.3) rotate(105)" fill="#3f30a2"/>
<ellipse cx="0" cy="0" rx="4.4" ry="2.4" transform="translate(647.2,135.0) rotate(87)" fill="#3f30a2"/>
<ellipse cx="0" cy="0" rx="4.5" ry="2.2" transform="translate(645.6,141.7) rotate(82)" fill="#3f30a2"/>
<ellipse cx="0" cy="0" rx="4.9" ry="2.3" transform="translate(646.8,149.1) rotate(56)" fill="#3f30a2"/>
<ellipse cx="0" cy="0" rx="4.2" ry="2.4" transform="translate(650.3,155.4) rotate(83)" fill="#3f30a2"/>
<ellipse cx="0" cy="0" rx="3.4" ry="2.9" transform="translate(653.6,161.7) rotate(95)" fill="#3f30a2"/>
<ellipse cx="0" cy="0" rx="4.8" ry="2.8" transform="translate(654.7,168.4) rotate(130)" fill="#3f30a2"/>
<ellipse cx="0" cy="0" rx="3.1" ry="2.5" transform="translate(649.8,172.3) rotate(121)" fill="#3f30a2"/>
<ellipse cx="0" cy="0" rx="3.6" ry="2.5" transform="translate(645.3,176.6) rotate(118)" fill="#3f30a2"/>
<ellipse cx="0" cy="0" rx="4.3" ry="2.2" transform="translate(666.0,202.2) rotate(96)" fill="#3f30a2"/>
<ellipse cx="0" cy="0" rx="3.7" ry="3.0" transform="translate(665.5,214.0) rotate(86)" fill="#3f30a2"/>
<ellipse cx="0" cy="0" rx="4.0" ry="2.6" transform="translate(666.9,225.3) rotate(68)" fill="#3f30a2"/>
<ellipse cx="0" cy="0" rx="3.5" ry="3.0" transform="translate(672.6,235.6) rotate(86)" fill="#3f30a2"/>
<ellipse cx="0" cy="0" rx="4.5" ry="2.2" transform="translate(674.0,241.1) rotate(62)" fill="#3f30a2"/>
<ellipse cx="0" cy="0" rx="4.2" ry="2.3" transform="translate(673.0,247.3) rotate(79)" fill="#3f30a2"/>
<ellipse cx="0" cy="0" rx="4.9" ry="2.7" transform="translate(674.7,253.0) rotate(72)" fill="#3f30a2"/>
<ellipse cx="0" cy="0" rx="3.8" ry="2.5" transform="translate(678.5,258.3) rotate(79)" fill="#3f30a2"/>
<ellipse cx="0" cy="0" rx="3.4" ry="2.3" transform="translate(680.5,263.9) rotate(60)" fill="#3f30a2"/>
<ellipse cx="0" cy="0" rx="4.8" ry="2.9" transform="translate(680.1,270.2) rotate(95)" fill="#3f30a2"/>
<ellipse cx="0" cy="0" rx="4.6" ry="3.0" transform="translate(683.3,275.0) rotate(40)" fill="#3f30a2"/>
<ellipse cx="0" cy="0" rx="3.8" ry="3.0" transform="translate(688.3,278.5) rotate(39)" fill="#3f30a2"/>
<ellipse cx="0" cy="0" rx="5.0" ry="3.0" transform="translate(692.7,282.6) rotate(57)" fill="#3f30a2"/>
<ellipse cx="0" cy="0" rx="4.2" ry="2.7" transform="translate(698.4,285.1) rotate(62)" fill="#3f30a2"/>
<ellipse cx="0" cy="0" rx="4.3" ry="2.7" transform="translate(705.2,297.2) rotate(67)" fill="#3f30a2"/>
<ellipse cx="0" cy="0" rx="4.7" ry="3.1" transform="translate(710.1,302.0) rotate(55)" fill="#3f30a2"/>
<ellipse cx="0" cy="0" rx="4.9" ry="2.7" transform="translate(717.0,300.8) rotate(16)" fill="#3f30a2"/>
<ellipse cx="0" cy="0" rx="4.7" ry="2.8" transform="translate(722.2,304.4) rotate(-7)" fill="#3f30a2"/>
<ellipse cx="0" cy="0" rx="3.4" ry="2.4" transform="translate(703.5,252.9) rotate(79)" fill="#3f30a2"/>
<ellipse cx="0" cy="0" rx="3.6" ry="2.8" transform="translate(710.3,271.0) rotate(80)" fill="#3f30a2"/>
<ellipse cx="0" cy="0" rx="3.6" ry="2.8" transform="translate(714.0,276.4) rotate(43)" fill="#3f30a2"/>
<ellipse cx="0" cy="0" rx="3.2" ry="2.6" transform="translate(717.9,119.0) rotate(75)" fill="#3f30a2"/>
<ellipse cx="0" cy="0" rx="4.3" ry="3.0" transform="translate(721.8,126.0) rotate(57)" fill="#3f30a2"/>
<ellipse cx="0" cy="0" rx="3.2" ry="3.0" transform="translate(724.8,132.1) rotate(75)" fill="#3f30a2"/>
<ellipse cx="0" cy="0" rx="4.8" ry="2.5" transform="translate(727.6,137.5) rotate(57)" fill="#3f30a2"/>
<ellipse cx="0" cy="0" rx="4.0" ry="2.6" transform="translate(729.9,117.9) rotate(63)" fill="#3f30a2"/>
<ellipse cx="0" cy="0" rx="3.3" ry="2.2" transform="translate(730.5,124.3) rotate(91)" fill="#3f30a2"/>
<ellipse cx="0" cy="0" rx="4.9" ry="2.3" transform="translate(730.9,137.2) rotate(98)" fill="#3f30a2"/>
<ellipse cx="0" cy="0" rx="5.1" ry="2.3" transform="translate(738.0,153.5) rotate(62)" fill="#3f30a2"/>
<ellipse cx="0" cy="0" rx="3.8" ry="2.4" transform="translate(738.4,161.4) rotate(93)" fill="#3f30a2"/>
<ellipse cx="0" cy="0" rx="4.2" ry="3.0" transform="translate(718.3,211.2) rotate(-46)" fill="#3f30a2"/>
<ellipse cx="0" cy="0" rx="3.5" ry="3.0" transform="translate(723.5,193.6) rotate(-62)" fill="#3f30a2"/>
<ellipse cx="0" cy="0" rx="3.5" ry="2.9" transform="translate(725.6,188.0) rotate(-56)" fill="#3f30a2"/>
<ellipse cx="0" cy="0" rx="4.1" ry="2.2" transform="translate(729.4,183.0) rotate(-67)" fill="#3f30a2"/>
<ellipse cx="0" cy="0" rx="4.2" ry="2.4" transform="translate(730.8,182.9) rotate(47)" fill="#3f30a2"/>
<ellipse cx="0" cy="0" rx="3.9" ry="2.9" transform="translate(737.1,192.8) rotate(68)" fill="#3f30a2"/>
<ellipse cx="0" cy="0" rx="4.0" ry="2.9" transform="translate(739.8,191.3) rotate(-68)" fill="#3f30a2"/>
<ellipse cx="0" cy="0" rx="3.3" ry="2.8" transform="translate(747.0,189.5) rotate(-51)" fill="#3f30a2"/>
<ellipse cx="0" cy="0" rx="4.5" ry="3.0" transform="translate(749.5,183.5) rotate(-65)" fill="#3f30a2"/>
<ellipse cx="0" cy="0" rx="3.9" ry="2.8" transform="translate(754.5,180.5) rotate(-51)" fill="#3f30a2"/>
<ellipse cx="0" cy="0" rx="3.6" ry="2.7" transform="translate(769.3,187.5) rotate(-54)" fill="#3f30a2"/>
<ellipse cx="0" cy="0" rx="3.7" ry="2.6" transform="translate(777.7,184.5) rotate(-38)" fill="#3f30a2"/>
<ellipse cx="0" cy="0" rx="5.1" ry="2.2" transform="translate(779.6,183.0) rotate(56)" fill="#3f30a2"/>
<ellipse cx="0" cy="0" rx="3.4" ry="2.8" transform="translate(784.3,188.1) rotate(50)" fill="#3f30a2"/>
<ellipse cx="0" cy="0" rx="3.4" ry="2.9" transform="translate(765.9,217.1) rotate(29)" fill="#3f30a2"/>
<ellipse cx="0" cy="0" rx="3.9" ry="2.9" transform="translate(781.6,226.2) rotate(27)" fill="#3f30a2"/>
<ellipse cx="0" cy="0" rx="3.4" ry="2.3" transform="translate(793.1,211.1) rotate(49)" fill="#3f30a2"/>
<ellipse cx="0" cy="0" rx="3.4" ry="2.7" transform="translate(795.2,216.7) rotate(40)" fill="#3f30a2"/>
<ellipse cx="0" cy="0" rx="4.4" ry="3.0" transform="translate(799.9,220.2) rotate(38)" fill="#3f30a2"/>
<ellipse cx="0" cy="0" rx="3.5" ry="2.4" transform="translate(804.3,224.0) rotate(51)" fill="#3f30a2"/>
<ellipse cx="0" cy="0" rx="4.3" ry="2.9" transform="translate(809.0,235.2) rotate(60)" fill="#3f30a2"/>
<ellipse cx="0" cy="0" rx="3.9" ry="2.5" transform="translate(816.4,245.4) rotate(49)" fill="#3f30a2"/>
<ellipse cx="0" cy="0" rx="4.7" ry="2.8" transform="translate(821.2,249.8) rotate(73)" fill="#3f30a2"/>
<ellipse cx="0" cy="0" rx="3.7" ry="2.3" transform="translate(823.6,255.8) rotate(43)" fill="#3f30a2"/>
<ellipse cx="0" cy="0" rx="4.6" ry="2.6" transform="translate(882.4,189.2) rotate(73)" fill="#3f30a2"/>
<ellipse cx="0" cy="0" rx="4.5" ry="2.2" transform="translate(885.4,194.9) rotate(60)" fill="#3f30a2"/>
<ellipse cx="0" cy="0" rx="5.0" ry="2.5" transform="translate(891.5,212.9) rotate(62)" fill="#3f30a2"/>
<ellipse cx="0" cy="0" rx="4.3" ry="2.5" transform="translate(895.6,225.0) rotate(53)" fill="#3f30a2"/>
<ellipse cx="0" cy="0" rx="4.4" ry="2.3" transform="translate(898.0,231.0) rotate(83)" fill="#3f30a2"/>
<ellipse cx="0" cy="0" rx="4.0" ry="2.9" transform="translate(830.5,210.9) rotate(-61)" fill="#3f30a2"/>
<ellipse cx="0" cy="0" rx="3.6" ry="2.9" transform="translate(836.4,186.6) rotate(-101)" fill="#3f30a2"/>
<ellipse cx="0" cy="0" rx="3.3" ry="2.3" transform="translate(834.3,180.5) rotate(-71)" fill="#3f30a2"/>
<ellipse cx="0" cy="0" rx="5.0" ry="2.4" transform="translate(852.9,209.0) rotate(80)" fill="#3f30a2"/>
<ellipse cx="0" cy="0" rx="3.5" ry="3.0" transform="translate(858.6,219.9) rotate(47)" fill="#3f30a2"/>
<ellipse cx="0" cy="0" rx="3.6" ry="2.8" transform="translate(861.3,225.4) rotate(56)" fill="#3f30a2"/>
<ellipse cx="0" cy="0" rx="5.0" ry="2.8" transform="translate(855.2,229.3) rotate(19)" fill="#3f30a2"/>
<ellipse cx="0" cy="0" rx="3.5" ry="2.3" transform="translate(866.2,226.3) rotate(-21)" fill="#3f30a2"/>
<ellipse cx="0" cy="0" rx="3.7" ry="2.4" transform="translate(853.4,121.9) rotate(89)" fill="#3f30a2"/>
<ellipse cx="0" cy="0" rx="4.3" ry="3.0" transform="translate(854.8,138.4) rotate(104)" fill="#3f30a2"/>
<ellipse cx="0" cy="0" rx="4.7" ry="2.3" transform="translate(854.6,144.0) rotate(68)" fill="#3f30a2"/>
<ellipse cx="0" cy="0" rx="3.1" ry="2.5" transform="translate(858.1,149.2) rotate(99)" fill="#3f30a2"/>
<ellipse cx="0" cy="0" rx="3.5" ry="2.3" transform="translate(863.9,159.6) rotate(37)" fill="#3f30a2"/>
<ellipse cx="0" cy="0" rx="3.2" ry="2.7" transform="translate(869.7,162.8) rotate(43)" fill="#3f30a2"/>
<ellipse cx="0" cy="0" rx="4.6" ry="2.3" transform="translate(873.3,168.2) rotate(20)" fill="#3f30a2"/>
<ellipse cx="0" cy="0" rx="3.9" ry="2.6" transform="translate(883.8,210.3) rotate(56)" fill="#3f30a2"/>
<ellipse cx="0" cy="0" rx="3.6" ry="2.5" transform="translate(887.9,216.2) rotate(67)" fill="#3f30a2"/>
<ellipse cx="0" cy="0" rx="3.7" ry="3.0" transform="translate(886.6,223.7) rotate(55)" fill="#3f30a2"/>
<ellipse cx="0" cy="0" rx="3.3" ry="2.2" transform="translate(897.5,159.6) rotate(71)" fill="#3f30a2"/>
<ellipse cx="0" cy="0" rx="4.5" ry="2.3" transform="translate(908.7,174.4) rotate(76)" fill="#3f30a2"/>
<ellipse cx="0" cy="0" rx="3.7" ry="2.3" transform="translate(911.4,179.8) rotate(65)" fill="#3f30a2"/>
<ellipse cx="0" cy="0" rx="4.1" ry="2.3" transform="translate(915.8,190.4) rotate(37)" fill="#3f30a2"/>
<ellipse cx="0" cy="0" rx="4.4" ry="2.7" transform="translate(921.3,193.5) rotate(34)" fill="#3f30a2"/>
<ellipse cx="0" cy="0" rx="3.2" ry="2.4" transform="translate(924.8,199.1) rotate(53)" fill="#3f30a2"/>
<ellipse cx="0" cy="0" rx="4.6" ry="2.6" transform="translate(937.0,203.4) rotate(34)" fill="#3f30a2"/>
<ellipse cx="0" cy="0" rx="4.7" ry="2.9" transform="translate(917.6,154.7) rotate(111)" fill="#3f30a2"/>
<ellipse cx="0" cy="0" rx="3.5" ry="2.5" transform="translate(913.6,160.5) rotate(117)" fill="#3f30a2"/>
<ellipse cx="0" cy="0" rx="4.4" ry="2.7" transform="translate(904.3,227.3) rotate(70)" fill="#3f30a2"/>
<ellipse cx="0" cy="0" rx="4.2" ry="2.3" transform="translate(902.4,234.0) rotate(88)" fill="#3f30a2"/>
<ellipse cx="0" cy="0" rx="3.7" ry="2.4" transform="translate(905.4,239.1) rotate(56)" fill="#3f30a2"/>
<ellipse cx="0" cy="0" rx="4.0" ry="2.3" transform="translate(910.3,243.6) rotate(71)" fill="#3f30a2"/>
<ellipse cx="0" cy="0" rx="4.8" ry="2.7" transform="translate(963.2,234.6) rotate(58)" fill="#3f30a2"/>
<ellipse cx="0" cy="0" rx="3.7" ry="2.7" transform="translate(965.2,246.8) rotate(50)" fill="#3f30a2"/>
<ellipse cx="0" cy="0" rx="4.8" ry="3.0" transform="translate(969.1,251.4) rotate(55)" fill="#3f30a2"/>
<ellipse cx="0" cy="0" rx="3.8" ry="2.4" transform="translate(975.3,261.7) rotate(54)" fill="#3f30a2"/>
<ellipse cx="0" cy="0" rx="5.0" ry="2.3" transform="translate(978.0,267.1) rotate(51)" fill="#3f30a2"/>
<ellipse cx="0" cy="0" rx="4.8" ry="3.1" transform="translate(981.6,271.0) rotate(21)" fill="#3f30a2"/>
<ellipse cx="0" cy="0" rx="4.7" ry="2.3" transform="translate(991.0,276.8) rotate(29)" fill="#3f30a2"/>
<ellipse cx="0" cy="0" rx="3.7" ry="2.9" transform="translate(971.3,203.6) rotate(107)" fill="#3f30a2"/>
<ellipse cx="0" cy="0" rx="3.9" ry="2.4" transform="translate(991.3,187.8) rotate(64)" fill="#3f30a2"/>
<ellipse cx="0" cy="0" rx="4.6" ry="2.6" transform="translate(992.9,193.4) rotate(109)" fill="#3f30a2"/>
<ellipse cx="0" cy="0" rx="5.0" ry="2.5" transform="translate(992.4,205.0) rotate(78)" fill="#3f30a2"/>
<ellipse cx="0" cy="0" rx="4.3" ry="3.0" transform="translate(994.5,210.5) rotate(61)" fill="#3f30a2"/>
<ellipse cx="0" cy="0" rx="4.8" ry="2.4" transform="translate(993.8,222.1) rotate(100)" fill="#3f30a2"/>
<ellipse cx="0" cy="0" rx="3.3" ry="2.9" transform="translate(991.6,234.3) rotate(91)" fill="#3f30a2"/>
<ellipse cx="0" cy="0" rx="4.5" ry="3.0" transform="translate(988.2,239.9) rotate(112)" fill="#3f30a2"/>
<ellipse cx="0" cy="0" rx="3.6" ry="2.7" transform="translate(987.7,246.5) rotate(109)" fill="#3f30a2"/>
<ellipse cx="0" cy="0" rx="3.2" ry="2.9" transform="translate(914.3,251.3) rotate(-2)" fill="#3f30a2"/>
<ellipse cx="0" cy="0" rx="3.4" ry="2.3" transform="translate(919.9,253.5) rotate(24)" fill="#3f30a2"/>
<ellipse cx="0" cy="0" rx="4.8" ry="2.8" transform="translate(924.9,257.8) rotate(-0)" fill="#3f30a2"/>
<ellipse cx="0" cy="0" rx="4.7" ry="2.5" transform="translate(763.0,172.5) rotate(51)" fill="#3f30a2"/>
<ellipse cx="0" cy="0" rx="5.0" ry="2.9" transform="translate(769.2,177.2) rotate(58)" fill="#3f30a2"/>
<ellipse cx="0" cy="0" rx="3.8" ry="3.1" transform="translate(775.7,190.1) rotate(70)" fill="#3f30a2"/>
<ellipse cx="0" cy="0" rx="3.8" ry="2.6" transform="translate(780.0,196.1) rotate(47)" fill="#3f30a2"/>
<ellipse cx="0" cy="0" rx="3.3" ry="2.3" transform="translate(802.0,222.5) rotate(48)" fill="#3f30a2"/>
<ellipse cx="0" cy="0" rx="4.4" ry="2.8" transform="translate(824.2,258.8) rotate(42)" fill="#3f30a2"/>
<ellipse cx="0" cy="0" rx="3.5" ry="2.5" transform="translate(833.1,260.8) rotate(21)" fill="#3f30a2"/>
<ellipse cx="0" cy="0" rx="2.9" ry="2.2" transform="translate(186.1,198.5) rotate(120)" fill="#3f30a2"/>
<ellipse cx="0" cy="0" rx="4.5" ry="2.6" transform="translate(212.7,218.6) rotate(110)" fill="#3f30a2"/>
<ellipse cx="0" cy="0" rx="5.2" ry="3.0" transform="translate(170.9,184.3) rotate(120)" fill="#3f30a2"/>
<ellipse cx="0" cy="0" rx="3.5" ry="2.4" transform="translate(165.2,205.3) rotate(75)" fill="#3f30a2"/>
<ellipse cx="0" cy="0" rx="5.2" ry="2.6" transform="translate(206.9,215.5) rotate(120)" fill="#3f30a2"/>
<ellipse cx="0" cy="0" rx="4.9" ry="2.2" transform="translate(225.9,204.1) rotate(75)" fill="#3f30a2"/>
<ellipse cx="0" cy="0" rx="3.5" ry="2.3" transform="translate(206.1,213.6) rotate(120)" fill="#3f30a2"/>
<ellipse cx="0" cy="0" rx="3.6" ry="2.6" transform="translate(209.9,182.1) rotate(45)" fill="#3f30a2"/>
<ellipse cx="0" cy="0" rx="4.4" ry="2.5" transform="translate(194.3,221.8) rotate(120)" fill="#3f30a2"/>
<ellipse cx="0" cy="0" rx="5.4" ry="2.6" transform="translate(174.1,203.5) rotate(120)" fill="#3f30a2"/>
<ellipse cx="0" cy="0" rx="4.0" ry="3.1" transform="translate(199.9,187.1) rotate(70)" fill="#3f30a2"/>
<ellipse cx="0" cy="0" rx="3.0" ry="2.4" transform="translate(189.2,200.9) rotate(135)" fill="#3f30a2"/>
<ellipse cx="0" cy="0" rx="3.2" ry="2.7" transform="translate(210.8,204.8) rotate(75)" fill="#3f30a2"/>
<ellipse cx="0" cy="0" rx="5.3" ry="2.7" transform="translate(166.4,203.7) rotate(135)" fill="#3f30a2"/>
<ellipse cx="0" cy="0" rx="4.6" ry="3.1" transform="translate(226.1,205.6) rotate(120)" fill="#3f30a2"/>
<ellipse cx="0" cy="0" rx="4.1" ry="2.4" transform="translate(156.1,210.8) rotate(45)" fill="#3f30a2"/>
<ellipse cx="0" cy="0" rx="3.4" ry="3.0" transform="translate(185.6,201.3) rotate(135)" fill="#3f30a2"/>
<ellipse cx="0" cy="0" rx="4.3" ry="3.0" transform="translate(192.7,223.7) rotate(75)" fill="#3f30a2"/>
<ellipse cx="0" cy="0" rx="4.1" ry="3.1" transform="translate(166.0,193.6) rotate(90)" fill="#3f30a2"/>
<ellipse cx="0" cy="0" rx="5.4" ry="2.7" transform="translate(189.4,192.8) rotate(110)" fill="#3f30a2"/>
<ellipse cx="0" cy="0" rx="3.7" ry="3.0" transform="translate(174.6,179.3) rotate(60)" fill="#3f30a2"/>
<ellipse cx="0" cy="0" rx="5.4" ry="2.7" transform="translate(216.7,186.5) rotate(90)" fill="#3f30a2"/>
<ellipse cx="0" cy="0" rx="4.6" ry="2.8" transform="translate(215.4,208.6) rotate(105)" fill="#3f30a2"/>
<ellipse cx="0" cy="0" rx="4.0" ry="3.2" transform="translate(148.2,208.7) rotate(60)" fill="#3f30a2"/>
<ellipse cx="0" cy="0" rx="4.5" ry="2.5" transform="translate(183.3,183.3) rotate(135)" fill="#3f30a2"/>
<ellipse cx="0" cy="0" rx="3.4" ry="2.5" transform="translate(213.0,184.1) rotate(135)" fill="#3f30a2"/>
<ellipse cx="0" cy="0" rx="5.4" ry="3.2" transform="translate(198.6,197.6) rotate(135)" fill="#3f30a2"/>
<ellipse cx="0" cy="0" rx="5.4" ry="3.1" transform="translate(180.4,206.9) rotate(45)" fill="#3f30a2"/>
<ellipse cx="0" cy="0" rx="4.5" ry="3.2" transform="translate(173.2,189.3) rotate(70)" fill="#3f30a2"/>
<ellipse cx="0" cy="0" rx="5.3" ry="2.8" transform="translate(190.8,196.2) rotate(120)" fill="#3f30a2"/>
<ellipse cx="0" cy="0" rx="5.3" ry="2.5" transform="translate(164.4,202.4) rotate(60)" fill="#3f30a2"/>
<ellipse cx="0" cy="0" rx="3.5" ry="2.7" transform="translate(171.0,199.7) rotate(45)" fill="#3f30a2"/>
<ellipse cx="0" cy="0" rx="4.1" ry="2.9" transform="translate(178.0,205.1) rotate(75)" fill="#3f30a2"/>
<ellipse cx="0" cy="0" rx="3.5" ry="3.2" transform="translate(197.2,221.7) rotate(110)" fill="#3f30a2"/>
<ellipse cx="0" cy="0" rx="4.0" ry="3.2" transform="translate(189.2,191.7) rotate(75)" fill="#3f30a2"/>
<ellipse cx="0" cy="0" rx="3.9" ry="3.2" transform="translate(184.7,224.6) rotate(75)" fill="#3f30a2"/>
<ellipse cx="0" cy="0" rx="4.2" ry="2.8" transform="translate(175.4,196.1) rotate(110)" fill="#3f30a2"/>
<ellipse cx="0" cy="0" rx="3.1" ry="3.2" transform="translate(190.5,222.5) rotate(120)" fill="#3f30a2"/>
<ellipse cx="0" cy="0" rx="4.9" ry="3.2" transform="translate(213.7,188.8) rotate(60)" fill="#3f30a2"/>
<ellipse cx="0" cy="0" rx="3.7" ry="2.9" transform="translate(149.5,198.1) rotate(110)" fill="#3f30a2"/>
<ellipse cx="0" cy="0" rx="4.6" ry="2.5" transform="translate(301.4,157.7) rotate(70)" fill="#3f30a2"/>
<ellipse cx="0" cy="0" rx="4.0" ry="2.5" transform="translate(305.6,154.4) rotate(105)" fill="#3f30a2"/>
<ellipse cx="0" cy="0" rx="3.7" ry="2.5" transform="translate(290.2,167.7) rotate(110)" fill="#3f30a2"/>
<ellipse cx="0" cy="0" rx="4.9" ry="3.1" transform="translate(297.4,143.6) rotate(60)" fill="#3f30a2"/>
<ellipse cx="0" cy="0" rx="3.7" ry="3.1" transform="translate(297.4,145.2) rotate(75)" fill="#3f30a2"/>
<ellipse cx="0" cy="0" rx="4.0" ry="2.5" transform="translate(295.9,155.1) rotate(135)" fill="#3f30a2"/>
<ellipse cx="0" cy="0" rx="5.3" ry="2.4" transform="translate(315.5,163.7) rotate(135)" fill="#3f30a2"/>
<ellipse cx="0" cy="0" rx="4.6" ry="2.4" transform="translate(314.6,130.2) rotate(60)" fill="#3f30a2"/>
<ellipse cx="0" cy="0" rx="5.0" ry="3.1" transform="translate(322.2,136.3) rotate(135)" fill="#3f30a2"/>
<ellipse cx="0" cy="0" rx="4.8" ry="2.4" transform="translate(283.9,150.4) rotate(70)" fill="#3f30a2"/>
<ellipse cx="0" cy="0" rx="4.0" ry="3.0" transform="translate(291.7,171.5) rotate(110)" fill="#3f30a2"/>
<ellipse cx="0" cy="0" rx="4.1" ry="2.6" transform="translate(324.2,159.2) rotate(90)" fill="#3f30a2"/>
<ellipse cx="0" cy="0" rx="4.2" ry="3.0" transform="translate(278.4,156.4) rotate(110)" fill="#3f30a2"/>
<ellipse cx="0" cy="0" rx="4.1" ry="2.4" transform="translate(293.4,149.5) rotate(105)" fill="#3f30a2"/>
<ellipse cx="0" cy="0" rx="3.6" ry="2.8" transform="translate(313.1,161.5) rotate(135)" fill="#3f30a2"/>
<ellipse cx="0" cy="0" rx="3.4" ry="2.6" transform="translate(302.6,142.7) rotate(75)" fill="#3f30a2"/>
<ellipse cx="0" cy="0" rx="5.0" ry="2.4" transform="translate(307.0,145.9) rotate(90)" fill="#3f30a2"/>
<ellipse cx="0" cy="0" rx="4.8" ry="2.9" transform="translate(293.7,134.4) rotate(105)" fill="#3f30a2"/>
<ellipse cx="0" cy="0" rx="3.3" ry="3.0" transform="translate(284.8,144.0) rotate(90)" fill="#3f30a2"/>
<ellipse cx="0" cy="0" rx="3.5" ry="2.5" transform="translate(282.8,139.7) rotate(90)" fill="#3f30a2"/>
<ellipse cx="0" cy="0" rx="3.6" ry="3.0" transform="translate(287.1,119.2) rotate(70)" fill="#3f30a2"/>
<ellipse cx="0" cy="0" rx="5.1" ry="2.9" transform="translate(288.2,120.9) rotate(120)" fill="#3f30a2"/>
<ellipse cx="0" cy="0" rx="3.0" ry="2.6" transform="translate(321.5,142.2) rotate(45)" fill="#3f30a2"/>
<ellipse cx="0" cy="0" rx="5.4" ry="2.7" transform="translate(291.4,161.0) rotate(60)" fill="#3f30a2"/>
<ellipse cx="0" cy="0" rx="3.9" ry="3.2" transform="translate(291.0,166.9) rotate(110)" fill="#3f30a2"/>
<ellipse cx="0" cy="0" rx="5.1" ry="2.6" transform="translate(297.5,129.5) rotate(75)" fill="#3f30a2"/>
<ellipse cx="0" cy="0" rx="5.0" ry="2.9" transform="translate(291.2,110.5) rotate(70)" fill="#3f30a2"/>
<ellipse cx="0" cy="0" rx="4.5" ry="2.9" transform="translate(314.0,179.0) rotate(70)" fill="#3f30a2"/>
<ellipse cx="0" cy="0" rx="3.6" ry="2.3" transform="translate(293.8,126.0) rotate(90)" fill="#3f30a2"/>
<ellipse cx="0" cy="0" rx="4.6" ry="3.2" transform="translate(276.3,152.2) rotate(110)" fill="#3f30a2"/>
<ellipse cx="0" cy="0" rx="3.3" ry="2.7" transform="translate(299.2,153.0) rotate(45)" fill="#3f30a2"/>
<ellipse cx="0" cy="0" rx="3.8" ry="2.2" transform="translate(300.8,167.0) rotate(75)" fill="#3f30a2"/>
<ellipse cx="0" cy="0" rx="4.6" ry="2.8" transform="translate(316.0,140.1) rotate(70)" fill="#3f30a2"/>
<ellipse cx="0" cy="0" rx="5.3" ry="3.2" transform="translate(318.6,169.0) rotate(45)" fill="#3f30a2"/>
<ellipse cx="0" cy="0" rx="3.1" ry="3.2" transform="translate(311.6,159.1) rotate(45)" fill="#3f30a2"/>
<ellipse cx="0" cy="0" rx="4.8" ry="2.5" transform="translate(354.6,142.5) rotate(120)" fill="#3f30a2"/>
<ellipse cx="0" cy="0" rx="4.2" ry="3.2" transform="translate(347.6,101.9) rotate(45)" fill="#3f30a2"/>
<ellipse cx="0" cy="0" rx="4.4" ry="3.2" transform="translate(343.5,152.4) rotate(105)" fill="#3f30a2"/>
<ellipse cx="0" cy="0" rx="4.9" ry="2.5" transform="translate(335.9,215.5) rotate(105)" fill="#3f30a2"/>
<ellipse cx="0" cy="0" rx="5.3" ry="2.8" transform="translate(343.5,219.9) rotate(135)" fill="#3f30a2"/>
<ellipse cx="0" cy="0" rx="3.7" ry="2.3" transform="translate(361.6,130.5) rotate(70)" fill="#3f30a2"/>
<ellipse cx="0" cy="0" rx="4.9" ry="2.3" transform="translate(356.5,195.5) rotate(110)" fill="#3f30a2"/>
<ellipse cx="0" cy="0" rx="4.1" ry="3.1" transform="translate(336.2,154.8) rotate(75)" fill="#3f30a2"/>
<ellipse cx="0" cy="0" rx="3.0" ry="2.2" transform="translate(350.2,140.3) rotate(90)" fill="#3f30a2"/>
<ellipse cx="0" cy="0" rx="5.4" ry="2.7" transform="translate(349.2,174.6) rotate(135)" fill="#3f30a2"/>
<ellipse cx="0" cy="0" rx="3.4" ry="2.4" transform="translate(342.6,102.1) rotate(110)" fill="#3f30a2"/>
<ellipse cx="0" cy="0" rx="3.4" ry="2.7" transform="translate(344.3,141.4) rotate(75)" fill="#3f30a2"/>
<ellipse cx="0" cy="0" rx="4.8" ry="3.0" transform="translate(340.0,227.4) rotate(135)" fill="#3f30a2"/>
<ellipse cx="0" cy="0" rx="4.9" ry="2.6" transform="translate(346.2,217.7) rotate(75)" fill="#3f30a2"/>
<ellipse cx="0" cy="0" rx="5.4" ry="3.2" transform="translate(335.7,177.7) rotate(110)" fill="#3f30a2"/>
<ellipse cx="0" cy="0" rx="5.0" ry="2.8" transform="translate(351.9,223.2) rotate(135)" fill="#3f30a2"/>
<ellipse cx="0" cy="0" rx="3.5" ry="2.6" transform="translate(338.6,134.9) rotate(60)" fill="#3f30a2"/>
<ellipse cx="0" cy="0" rx="5.4" ry="2.6" transform="translate(337.9,170.7) rotate(90)" fill="#3f30a2"/>
<ellipse cx="0" cy="0" rx="3.6" ry="2.3" transform="translate(356.0,153.4) rotate(70)" fill="#3f30a2"/>
<ellipse cx="0" cy="0" rx="3.1" ry="2.9" transform="translate(336.4,223.1) rotate(105)" fill="#3f30a2"/>
<ellipse cx="0" cy="0" rx="4.9" ry="3.2" transform="translate(350.2,193.0) rotate(45)" fill="#3f30a2"/>
<ellipse cx="0" cy="0" rx="3.6" ry="2.3" transform="translate(361.6,164.3) rotate(70)" fill="#3f30a2"/>
<ellipse cx="0" cy="0" rx="4.4" ry="2.6" transform="translate(344.1,211.3) rotate(110)" fill="#3f30a2"/>
<ellipse cx="0" cy="0" rx="3.9" ry="2.3" transform="translate(341.0,191.0) rotate(60)" fill="#3f30a2"/>
<ellipse cx="0" cy="0" rx="3.4" ry="2.8" transform="translate(327.9,156.3) rotate(90)" fill="#3f30a2"/>
<ellipse cx="0" cy="0" rx="4.9" ry="2.8" transform="translate(348.4,145.9) rotate(105)" fill="#3f30a2"/>
<ellipse cx="0" cy="0" rx="4.0" ry="2.6" transform="translate(344.2,194.1) rotate(70)" fill="#3f30a2"/>
<ellipse cx="0" cy="0" rx="3.9" ry="2.4" transform="translate(362.3,176.9) rotate(120)" fill="#3f30a2"/>
<ellipse cx="0" cy="0" rx="3.2" ry="2.7" transform="translate(354.3,139.9) rotate(105)" fill="#3f30a2"/>
<ellipse cx="0" cy="0" rx="3.9" ry="3.2" transform="translate(346.5,119.8) rotate(75)" fill="#3f30a2"/>
<ellipse cx="0" cy="0" rx="4.4" ry="3.1" transform="translate(378.9,158.3) rotate(120)" fill="#3f30a2"/>
<ellipse cx="0" cy="0" rx="3.0" ry="2.3" transform="translate(368.1,124.9) rotate(70)" fill="#3f30a2"/>
<ellipse cx="0" cy="0" rx="5.2" ry="3.0" transform="translate(384.3,150.3) rotate(75)" fill="#3f30a2"/>
<ellipse cx="0" cy="0" rx="4.7" ry="2.5" transform="translate(391.3,171.6) rotate(135)" fill="#3f30a2"/>
<ellipse cx="0" cy="0" rx="3.8" ry="2.3" transform="translate(373.0,156.4) rotate(105)" fill="#3f30a2"/>
<ellipse cx="0" cy="0" rx="3.2" ry="2.7" transform="translate(379.3,146.5) rotate(120)" fill="#3f30a2"/>
<ellipse cx="0" cy="0" rx="4.6" ry="2.3" transform="translate(409.0,137.5) rotate(135)" fill="#3f30a2"/>
<ellipse cx="0" cy="0" rx="3.2" ry="3.2" transform="translate(397.4,152.9) rotate(105)" fill="#3f30a2"/>
<ellipse cx="0" cy="0" rx="4.3" ry="3.2" transform="translate(385.4,150.7) rotate(110)" fill="#3f30a2"/>
<ellipse cx="0" cy="0" rx="3.1" ry="2.5" transform="translate(374.7,153.3) rotate(120)" fill="#3f30a2"/>
<ellipse cx="0" cy="0" rx="3.7" ry="2.6" transform="translate(394.4,184.0) rotate(60)" fill="#3f30a2"/>
<ellipse cx="0" cy="0" rx="2.9" ry="2.3" transform="translate(376.7,120.3) rotate(70)" fill="#3f30a2"/>
<ellipse cx="0" cy="0" rx="4.2" ry="2.9" transform="translate(401.0,159.3) rotate(110)" fill="#3f30a2"/>
<ellipse cx="0" cy="0" rx="5.3" ry="2.4" transform="translate(369.4,172.7) rotate(110)" fill="#3f30a2"/>
<ellipse cx="0" cy="0" rx="5.4" ry="2.2" transform="translate(381.9,112.7) rotate(135)" fill="#3f30a2"/>
<ellipse cx="0" cy="0" rx="5.2" ry="2.3" transform="translate(402.3,163.2) rotate(90)" fill="#3f30a2"/>
<ellipse cx="0" cy="0" rx="3.1" ry="2.9" transform="translate(373.4,151.8) rotate(60)" fill="#3f30a2"/>
<ellipse cx="0" cy="0" rx="3.1" ry="2.5" transform="translate(380.2,111.9) rotate(135)" fill="#3f30a2"/>
<ellipse cx="0" cy="0" rx="3.7" ry="2.6" transform="translate(382.5,154.0) rotate(90)" fill="#3f30a2"/>
<ellipse cx="0" cy="0" rx="3.0" ry="2.2" transform="translate(370.5,171.4) rotate(105)" fill="#3f30a2"/>
<ellipse cx="0" cy="0" rx="4.5" ry="2.4" transform="translate(377.5,148.4) rotate(45)" fill="#3f30a2"/>
<ellipse cx="0" cy="0" rx="4.0" ry="2.5" transform="translate(370.8,182.3) rotate(90)" fill="#3f30a2"/>
<ellipse cx="0" cy="0" rx="3.6" ry="2.6" transform="translate(396.1,123.9) rotate(70)" fill="#3f30a2"/>
<ellipse cx="0" cy="0" rx="3.4" ry="3.1" transform="translate(369.9,156.9) rotate(60)" fill="#3f30a2"/>
<ellipse cx="0" cy="0" rx="4.6" ry="3.1" transform="translate(394.0,173.3) rotate(110)" fill="#3f30a2"/>
<ellipse cx="0" cy="0" rx="4.6" ry="2.6" transform="translate(444.2,209.0) rotate(90)" fill="#3f30a2"/>
<ellipse cx="0" cy="0" rx="5.4" ry="2.4" transform="translate(444.7,152.6) rotate(70)" fill="#3f30a2"/>
<ellipse cx="0" cy="0" rx="5.2" ry="3.0" transform="translate(442.5,145.4) rotate(70)" fill="#3f30a2"/>
<ellipse cx="0" cy="0" rx="5.3" ry="3.0" transform="translate(458.5,163.3) rotate(45)" fill="#3f30a2"/>
<ellipse cx="0" cy="0" rx="4.1" ry="3.2" transform="translate(434.8,173.6) rotate(90)" fill="#3f30a2"/>
<ellipse cx="0" cy="0" rx="3.2" ry="2.3" transform="translate(455.3,218.4) rotate(120)" fill="#3f30a2"/>
<ellipse cx="0" cy="0" rx="5.1" ry="3.2" transform="translate(455.7,199.9) rotate(120)" fill="#3f30a2"/>
<ellipse cx="0" cy="0" rx="4.7" ry="2.3" transform="translate(459.3,203.7) rotate(70)" fill="#3f30a2"/>
<ellipse cx="0" cy="0" rx="3.8" ry="2.5" transform="translate(460.1,221.4) rotate(110)" fill="#3f30a2"/>
<ellipse cx="0" cy="0" rx="3.8" ry="2.3" transform="translate(433.3,183.7) rotate(105)" fill="#3f30a2"/>
<ellipse cx="0" cy="0" rx="4.5" ry="2.7" transform="translate(447.7,137.9) rotate(105)" fill="#3f30a2"/>
<ellipse cx="0" cy="0" rx="4.7" ry="2.7" transform="translate(450.2,171.1) rotate(60)" fill="#3f30a2"/>
<ellipse cx="0" cy="0" rx="4.0" ry="2.5" transform="translate(461.8,210.9) rotate(70)" fill="#3f30a2"/>
<ellipse cx="0" cy="0" rx="3.0" ry="3.2" transform="translate(460.4,139.6) rotate(135)" fill="#3f30a2"/>
<ellipse cx="0" cy="0" rx="5.5" ry="2.8" transform="translate(511.5,204.9) rotate(135)" fill="#3f30a2"/>
<ellipse cx="0" cy="0" rx="3.9" ry="2.5" transform="translate(523.7,158.4) rotate(105)" fill="#3f30a2"/>
<ellipse cx="0" cy="0" rx="3.1" ry="2.3" transform="translate(495.4,132.7) rotate(105)" fill="#3f30a2"/>
<ellipse cx="0" cy="0" rx="4.8" ry="2.4" transform="translate(510.5,209.0) rotate(120)" fill="#3f30a2"/>
<ellipse cx="0" cy="0" rx="5.0" ry="3.1" transform="translate(510.7,111.8) rotate(135)" fill="#3f30a2"/>
<ellipse cx="0" cy="0" rx="3.1" ry="2.8" transform="translate(506.9,114.3) rotate(45)" fill="#3f30a2"/>
<ellipse cx="0" cy="0" rx="4.3" ry="2.2" transform="translate(490.8,174.1) rotate(110)" fill="#3f30a2"/>
<ellipse cx="0" cy="0" rx="4.5" ry="3.2" transform="translate(492.1,184.4) rotate(45)" fill="#3f30a2"/>
<ellipse cx="0" cy="0" rx="5.2" ry="3.2" transform="translate(497.2,183.4) rotate(105)" fill="#3f30a2"/>
<ellipse cx="0" cy="0" rx="4.0" ry="2.8" transform="translate(528.4,188.7) rotate(60)" fill="#3f30a2"/>
<ellipse cx="0" cy="0" rx="3.4" ry="2.9" transform="translate(540.1,167.2) rotate(60)" fill="#3f30a2"/>
<ellipse cx="0" cy="0" rx="5.3" ry="3.0" transform="translate(526.5,139.4) rotate(45)" fill="#3f30a2"/>
<ellipse cx="0" cy="0" rx="4.0" ry="2.3" transform="translate(490.7,180.1) rotate(60)" fill="#3f30a2"/>
<ellipse cx="0" cy="0" rx="3.4" ry="2.9" transform="translate(482.9,174.0) rotate(120)" fill="#3f30a2"/>
<ellipse cx="0" cy="0" rx="4.9" ry="3.1" transform="translate(530.7,175.0) rotate(70)" fill="#3f30a2"/>
<ellipse cx="0" cy="0" rx="5.4" ry="3.1" transform="translate(513.5,184.9) rotate(90)" fill="#3f30a2"/>
<ellipse cx="0" cy="0" rx="4.7" ry="2.3" transform="translate(512.1,184.0) rotate(135)" fill="#3f30a2"/>
<ellipse cx="0" cy="0" rx="5.3" ry="3.0" transform="translate(542.5,144.1) rotate(60)" fill="#3f30a2"/>
<ellipse cx="0" cy="0" rx="3.3" ry="2.4" transform="translate(492.2,128.6) rotate(105)" fill="#3f30a2"/>
<ellipse cx="0" cy="0" rx="4.1" ry="3.2" transform="translate(521.0,172.3) rotate(110)" fill="#3f30a2"/>
<ellipse cx="0" cy="0" rx="3.2" ry="2.9" transform="translate(509.6,174.5) rotate(60)" fill="#3f30a2"/>
<ellipse cx="0" cy="0" rx="4.5" ry="3.0" transform="translate(513.5,201.5) rotate(45)" fill="#3f30a2"/>
<ellipse cx="0" cy="0" rx="2.9" ry="3.0" transform="translate(518.2,171.4) rotate(60)" fill="#3f30a2"/>
<ellipse cx="0" cy="0" rx="5.2" ry="2.8" transform="translate(541.5,142.1) rotate(90)" fill="#3f30a2"/>
<ellipse cx="0" cy="0" rx="3.0" ry="2.4" transform="translate(508.4,191.1) rotate(105)" fill="#3f30a2"/>
<ellipse cx="0" cy="0" rx="3.8" ry="2.7" transform="translate(491.1,191.6) rotate(60)" fill="#3f30a2"/>
<ellipse cx="0" cy="0" rx="5.1" ry="2.5" transform="translate(482.9,172.1) rotate(70)" fill="#3f30a2"/>
<ellipse cx="0" cy="0" rx="4.6" ry="2.3" transform="translate(526.9,145.7) rotate(90)" fill="#3f30a2"/>
<ellipse cx="0" cy="0" rx="3.5" ry="2.7" transform="translate(507.9,152.3) rotate(45)" fill="#3f30a2"/>
<ellipse cx="0" cy="0" rx="3.4" ry="2.4" transform="translate(508.2,116.0) rotate(90)" fill="#3f30a2"/>
<ellipse cx="0" cy="0" rx="4.7" ry="2.6" transform="translate(502.1,197.9) rotate(45)" fill="#3f30a2"/>
<ellipse cx="0" cy="0" rx="5.2" ry="3.1" transform="translate(527.2,160.2) rotate(135)" fill="#3f30a2"/>
<ellipse cx="0" cy="0" rx="4.0" ry="2.9" transform="translate(534.9,194.0) rotate(120)" fill="#3f30a2"/>
<ellipse cx="0" cy="0" rx="2.9" ry="2.8" transform="translate(529.2,130.6) rotate(105)" fill="#3f30a2"/>
<ellipse cx="0" cy="0" rx="5.1" ry="2.7" transform="translate(495.6,198.9) rotate(120)" fill="#3f30a2"/>
<ellipse cx="0" cy="0" rx="4.1" ry="2.2" transform="translate(483.9,147.2) rotate(70)" fill="#3f30a2"/>
<ellipse cx="0" cy="0" rx="4.2" ry="2.4" transform="translate(529.0,150.1) rotate(105)" fill="#3f30a2"/>
<ellipse cx="0" cy="0" rx="5.2" ry="3.1" transform="translate(487.5,178.0) rotate(135)" fill="#3f30a2"/>
<ellipse cx="0" cy="0" rx="4.4" ry="2.3" transform="translate(539.9,160.4) rotate(75)" fill="#3f30a2"/>
<ellipse cx="0" cy="0" rx="4.1" ry="3.0" transform="translate(509.7,135.0) rotate(110)" fill="#3f30a2"/>
<ellipse cx="0" cy="0" rx="4.0" ry="2.4" transform="translate(573.4,171.6) rotate(70)" fill="#3f30a2"/>
<ellipse cx="0" cy="0" rx="3.3" ry="2.9" transform="translate(561.4,157.5) rotate(90)" fill="#3f30a2"/>
<ellipse cx="0" cy="0" rx="4.4" ry="2.3" transform="translate(573.8,207.4) rotate(60)" fill="#3f30a2"/>
<ellipse cx="0" cy="0" rx="4.4" ry="2.7" transform="translate(567.0,131.9) rotate(135)" fill="#3f30a2"/>
<ellipse cx="0" cy="0" rx="4.1" ry="3.1" transform="translate(559.8,172.8) rotate(45)" fill="#3f30a2"/>
<ellipse cx="0" cy="0" rx="5.0" ry="2.7" transform="translate(551.0,155.0) rotate(120)" fill="#3f30a2"/>
<ellipse cx="0" cy="0" rx="3.2" ry="2.9" transform="translate(585.8,188.4) rotate(90)" fill="#3f30a2"/>
<ellipse cx="0" cy="0" rx="5.1" ry="3.1" transform="translate(579.9,152.4) rotate(45)" fill="#3f30a2"/>
<ellipse cx="0" cy="0" rx="3.6" ry="3.2" transform="translate(558.3,189.9) rotate(60)" fill="#3f30a2"/>
<ellipse cx="0" cy="0" rx="4.6" ry="2.5" transform="translate(566.6,129.2) rotate(120)" fill="#3f30a2"/>
<ellipse cx="0" cy="0" rx="5.2" ry="2.5" transform="translate(556.7,141.4) rotate(105)" fill="#3f30a2"/>
<ellipse cx="0" cy="0" rx="3.7" ry="2.6" transform="translate(553.2,168.0) rotate(75)" fill="#3f30a2"/>
<ellipse cx="0" cy="0" rx="4.1" ry="2.7" transform="translate(581.2,203.4) rotate(60)" fill="#3f30a2"/>
<ellipse cx="0" cy="0" rx="3.7" ry="2.2" transform="translate(553.8,162.2) rotate(110)" fill="#3f30a2"/>
<ellipse cx="0" cy="0" rx="3.8" ry="3.1" transform="translate(552.7,141.6) rotate(70)" fill="#3f30a2"/>
<ellipse cx="0" cy="0" rx="3.6" ry="2.9" transform="translate(555.2,140.6) rotate(135)" fill="#3f30a2"/>
<ellipse cx="0" cy="0" rx="4.7" ry="2.8" transform="translate(572.4,179.2) rotate(45)" fill="#3f30a2"/>
<ellipse cx="0" cy="0" rx="4.5" ry="2.5" transform="translate(557.3,170.7) rotate(60)" fill="#3f30a2"/>
<ellipse cx="0" cy="0" rx="5.1" ry="2.3" transform="translate(577.4,136.5) rotate(60)" fill="#3f30a2"/>
<ellipse cx="0" cy="0" rx="4.3" ry="2.7" transform="translate(548.8,174.1) rotate(120)" fill="#3f30a2"/>
<ellipse cx="0" cy="0" rx="4.4" ry="3.0" transform="translate(565.9,171.0) rotate(45)" fill="#3f30a2"/>
<ellipse cx="0" cy="0" rx="4.2" ry="2.3" transform="translate(568.5,199.5) rotate(135)" fill="#3f30a2"/>
<ellipse cx="0" cy="0" rx="3.3" ry="3.2" transform="translate(582.1,178.7) rotate(70)" fill="#3f30a2"/>
<ellipse cx="0" cy="0" rx="3.5" ry="3.1" transform="translate(553.3,150.8) rotate(120)" fill="#3f30a2"/>
<ellipse cx="0" cy="0" rx="4.3" ry="2.3" transform="translate(572.0,169.1) rotate(90)" fill="#3f30a2"/>
<ellipse cx="0" cy="0" rx="4.0" ry="2.5" transform="translate(578.3,191.3) rotate(45)" fill="#3f30a2"/>
<ellipse cx="0" cy="0" rx="3.5" ry="2.9" transform="translate(567.6,143.7) rotate(70)" fill="#3f30a2"/>
<ellipse cx="0" cy="0" rx="3.7" ry="2.5" transform="translate(583.1,154.6) rotate(75)" fill="#3f30a2"/>
<ellipse cx="0" cy="0" rx="3.7" ry="3.2" transform="translate(572.2,146.3) rotate(60)" fill="#3f30a2"/>
<ellipse cx="0" cy="0" rx="4.9" ry="3.0" transform="translate(586.8,182.0) rotate(75)" fill="#3f30a2"/>
<ellipse cx="0" cy="0" rx="3.1" ry="3.1" transform="translate(607.1,184.9) rotate(45)" fill="#3f30a2"/>
<ellipse cx="0" cy="0" rx="3.8" ry="2.2" transform="translate(592.9,139.7) rotate(105)" fill="#3f30a2"/>
<ellipse cx="0" cy="0" rx="3.5" ry="3.0" transform="translate(581.5,174.3) rotate(70)" fill="#3f30a2"/>
<ellipse cx="0" cy="0" rx="5.4" ry="3.0" transform="translate(592.1,161.3) rotate(75)" fill="#3f30a2"/>
<ellipse cx="0" cy="0" rx="5.2" ry="2.7" transform="translate(617.8,136.2) rotate(75)" fill="#3f30a2"/>
<ellipse cx="0" cy="0" rx="3.9" ry="2.4" transform="translate(615.6,162.7) rotate(105)" fill="#3f30a2"/>
<ellipse cx="0" cy="0" rx="3.1" ry="3.1" transform="translate(615.3,133.3) rotate(45)" fill="#3f30a2"/>
<ellipse cx="0" cy="0" rx="3.9" ry="3.1" transform="translate(611.0,176.8) rotate(45)" fill="#3f30a2"/>
<ellipse cx="0" cy="0" rx="3.9" ry="3.0" transform="translate(614.1,130.5) rotate(90)" fill="#3f30a2"/>
<ellipse cx="0" cy="0" rx="4.1" ry="2.3" transform="translate(609.8,160.1) rotate(105)" fill="#3f30a2"/>
<ellipse cx="0" cy="0" rx="5.2" ry="2.3" transform="translate(601.1,180.3) rotate(110)" fill="#3f30a2"/>
<ellipse cx="0" cy="0" rx="5.0" ry="2.8" transform="translate(611.8,145.9) rotate(105)" fill="#3f30a2"/>
<ellipse cx="0" cy="0" rx="5.2" ry="3.0" transform="translate(604.0,172.6) rotate(110)" fill="#3f30a2"/>
<ellipse cx="0" cy="0" rx="3.2" ry="3.1" transform="translate(582.6,155.5) rotate(110)" fill="#3f30a2"/>
<ellipse cx="0" cy="0" rx="5.3" ry="2.9" transform="translate(576.0,161.8) rotate(90)" fill="#3f30a2"/>
<ellipse cx="0" cy="0" rx="4.1" ry="2.8" transform="translate(624.0,160.1) rotate(70)" fill="#3f30a2"/>
<ellipse cx="0" cy="0" rx="2.9" ry="2.7" transform="translate(598.4,166.5) rotate(60)" fill="#3f30a2"/>
<ellipse cx="0" cy="0" rx="3.3" ry="3.2" transform="translate(617.2,150.1) rotate(60)" fill="#3f30a2"/>
<ellipse cx="0" cy="0" rx="5.1" ry="2.2" transform="translate(618.5,152.4) rotate(105)" fill="#3f30a2"/>
<ellipse cx="0" cy="0" rx="3.2" ry="3.2" transform="translate(614.3,190.5) rotate(120)" fill="#3f30a2"/>
<ellipse cx="0" cy="0" rx="4.5" ry="3.0" transform="translate(583.4,179.1) rotate(105)" fill="#3f30a2"/>
<ellipse cx="0" cy="0" rx="3.3" ry="2.9" transform="translate(607.5,129.5) rotate(75)" fill="#3f30a2"/>
<ellipse cx="0" cy="0" rx="4.8" ry="2.2" transform="translate(596.8,123.8) rotate(75)" fill="#3f30a2"/>
<ellipse cx="0" cy="0" rx="3.3" ry="2.4" transform="translate(615.6,142.1) rotate(60)" fill="#3f30a2"/>
<ellipse cx="0" cy="0" rx="5.2" ry="2.8" transform="translate(593.7,145.6) rotate(120)" fill="#3f30a2"/>
<ellipse cx="0" cy="0" rx="2.8" ry="2.3" transform="translate(642.7,115.8) rotate(110)" fill="#3f30a2"/>
<ellipse cx="0" cy="0" rx="3.6" ry="2.9" transform="translate(636.2,148.8) rotate(90)" fill="#3f30a2"/>
<ellipse cx="0" cy="0" rx="4.0" ry="2.7" transform="translate(650.1,149.8) rotate(120)" fill="#3f30a2"/>
<ellipse cx="0" cy="0" rx="2.8" ry="2.0" transform="translate(659.3,164.6) rotate(120)" fill="#3f30a2"/>
<ellipse cx="0" cy="0" rx="4.3" ry="2.1" transform="translate(660.3,144.8) rotate(60)" fill="#3f30a2"/>
<ellipse cx="0" cy="0" rx="2.6" ry="2.6" transform="translate(641.6,160.5) rotate(120)" fill="#3f30a2"/>
<ellipse cx="0" cy="0" rx="3.7" ry="2.5" transform="translate(652.2,136.7) rotate(105)" fill="#3f30a2"/>
<ellipse cx="0" cy="0" rx="2.8" ry="2.1" transform="translate(656.5,126.6) rotate(105)" fill="#3f30a2"/>
<ellipse cx="0" cy="0" rx="4.5" ry="2.2" transform="translate(658.3,122.2) rotate(90)" fill="#3f30a2"/>
<ellipse cx="0" cy="0" rx="3.5" ry="1.9" transform="translate(641.0,162.6) rotate(45)" fill="#3f30a2"/>
<ellipse cx="0" cy="0" rx="2.5" ry="1.9" transform="translate(642.9,118.5) rotate(110)" fill="#3f30a2"/>
<ellipse cx="0" cy="0" rx="3.7" ry="2.7" transform="translate(643.9,181.4) rotate(75)" fill="#3f30a2"/>
<ellipse cx="0" cy="0" rx="4.4" ry="2.5" transform="translate(646.6,158.4) rotate(110)" fill="#3f30a2"/>
<ellipse cx="0" cy="0" rx="4.3" ry="2.2" transform="translate(647.0,130.4) rotate(110)" fill="#3f30a2"/>
<ellipse cx="0" cy="0" rx="3.2" ry="2.7" transform="translate(715.1,144.0) rotate(110)" fill="#3f30a2"/>
<ellipse cx="0" cy="0" rx="3.8" ry="2.7" transform="translate(731.0,118.8) rotate(45)" fill="#3f30a2"/>
<ellipse cx="0" cy="0" rx="4.6" ry="2.4" transform="translate(731.6,133.6) rotate(135)" fill="#3f30a2"/>
<ellipse cx="0" cy="0" rx="3.9" ry="1.9" transform="translate(730.3,124.9) rotate(45)" fill="#3f30a2"/>
<ellipse cx="0" cy="0" rx="2.8" ry="2.3" transform="translate(722.6,118.7) rotate(75)" fill="#3f30a2"/>
<ellipse cx="0" cy="0" rx="4.2" ry="2.2" transform="translate(728.3,150.7) rotate(75)" fill="#3f30a2"/>
<ellipse cx="0" cy="0" rx="2.7" ry="2.0" transform="translate(729.3,132.1) rotate(110)" fill="#3f30a2"/>
<ellipse cx="0" cy="0" rx="2.6" ry="2.3" transform="translate(724.3,135.9) rotate(110)" fill="#3f30a2"/>
<ellipse cx="0" cy="0" rx="4.6" ry="2.6" transform="translate(733.3,150.1) rotate(135)" fill="#3f30a2"/>
<ellipse cx="0" cy="0" rx="2.5" ry="2.7" transform="translate(717.9,120.8) rotate(120)" fill="#3f30a2"/>
<ellipse cx="0" cy="0" rx="2.5" ry="2.1" transform="translate(755.7,192.4) rotate(60)" fill="#3f30a2"/>
<ellipse cx="0" cy="0" rx="2.9" ry="2.4" transform="translate(759.7,199.3) rotate(110)" fill="#3f30a2"/>
<ellipse cx="0" cy="0" rx="4.6" ry="2.5" transform="translate(752.7,196.7) rotate(75)" fill="#3f30a2"/>
<ellipse cx="0" cy="0" rx="4.2" ry="2.4" transform="translate(732.4,204.9) rotate(70)" fill="#3f30a2"/>
<ellipse cx="0" cy="0" rx="3.8" ry="2.4" transform="translate(735.7,209.2) rotate(105)" fill="#3f30a2"/>
<ellipse cx="0" cy="0" rx="4.6" ry="2.5" transform="translate(752.4,205.6) rotate(60)" fill="#3f30a2"/>
<ellipse cx="0" cy="0" rx="4.2" ry="2.5" transform="translate(742.9,188.9) rotate(60)" fill="#3f30a2"/>
<ellipse cx="0" cy="0" rx="3.4" ry="2.1" transform="translate(724.9,202.8) rotate(120)" fill="#3f30a2"/>
<ellipse cx="0" cy="0" rx="4.2" ry="2.7" transform="translate(738.9,195.5) rotate(75)" fill="#3f30a2"/>
<ellipse cx="0" cy="0" rx="3.4" ry="2.3" transform="translate(755.4,189.3) rotate(70)" fill="#3f30a2"/>
<ellipse cx="0" cy="0" rx="2.5" ry="2.1" transform="translate(799.8,216.7) rotate(75)" fill="#3f30a2"/>
<ellipse cx="0" cy="0" rx="2.8" ry="2.4" transform="translate(791.1,231.9) rotate(120)" fill="#3f30a2"/>
<ellipse cx="0" cy="0" rx="3.1" ry="2.3" transform="translate(824.4,218.0) rotate(135)" fill="#3f30a2"/>
<ellipse cx="0" cy="0" rx="2.6" ry="2.0" transform="translate(817.4,223.9) rotate(110)" fill="#3f30a2"/>
<ellipse cx="0" cy="0" rx="4.1" ry="2.0" transform="translate(798.3,211.3) rotate(60)" fill="#3f30a2"/>
<ellipse cx="0" cy="0" rx="3.3" ry="2.0" transform="translate(818.4,234.9) rotate(105)" fill="#3f30a2"/>
<ellipse cx="0" cy="0" rx="4.2" ry="1.9" transform="translate(819.0,217.7) rotate(60)" fill="#3f30a2"/>
<ellipse cx="0" cy="0" rx="3.5" ry="2.7" transform="translate(775.4,224.4) rotate(45)" fill="#3f30a2"/>
<ellipse cx="0" cy="0" rx="3.3" ry="2.0" transform="translate(850.2,162.3) rotate(120)" fill="#3f30a2"/>
<ellipse cx="0" cy="0" rx="2.9" ry="2.4" transform="translate(847.3,153.2) rotate(105)" fill="#3f30a2"/>
<ellipse cx="0" cy="0" rx="3.0" ry="2.1" transform="translate(857.9,132.9) rotate(90)" fill="#3f30a2"/>
<ellipse cx="0" cy="0" rx="3.5" ry="2.1" transform="translate(868.1,143.8) rotate(70)" fill="#3f30a2"/>
<ellipse cx="0" cy="0" rx="3.6" ry="2.6" transform="translate(854.5,145.5) rotate(75)" fill="#3f30a2"/>
<ellipse cx="0" cy="0" rx="3.5" ry="2.3" transform="translate(864.0,120.9) rotate(70)" fill="#3f30a2"/>
<ellipse cx="0" cy="0" rx="4.2" ry="2.3" transform="translate(867.4,141.9) rotate(75)" fill="#3f30a2"/>
<ellipse cx="0" cy="0" rx="4.5" ry="2.0" transform="translate(849.1,127.4) rotate(70)" fill="#3f30a2"/>
<ellipse cx="0" cy="0" rx="3.0" ry="2.1" transform="translate(883.8,223.6) rotate(120)" fill="#3f30a2"/>
<ellipse cx="0" cy="0" rx="3.1" ry="2.1" transform="translate(857.7,213.2) rotate(105)" fill="#3f30a2"/>
<ellipse cx="0" cy="0" rx="4.6" ry="2.3" transform="translate(867.5,216.2) rotate(75)" fill="#3f30a2"/>
<ellipse cx="0" cy="0" rx="3.6" ry="2.7" transform="translate(876.2,230.8) rotate(75)" fill="#3f30a2"/>
<ellipse cx="0" cy="0" rx="4.6" ry="2.5" transform="translate(865.1,224.0) rotate(70)" fill="#3f30a2"/>
<ellipse cx="0" cy="0" rx="3.1" ry="2.4" transform="translate(859.4,210.4) rotate(135)" fill="#3f30a2"/>
<ellipse cx="0" cy="0" rx="2.7" ry="2.1" transform="translate(850.0,218.5) rotate(135)" fill="#3f30a2"/>
<ellipse cx="0" cy="0" rx="3.0" ry="2.1" transform="translate(857.2,219.2) rotate(90)" fill="#3f30a2"/>
<ellipse cx="0" cy="0" rx="2.6" ry="2.3" transform="translate(917.0,212.3) rotate(135)" fill="#3f30a2"/>
<ellipse cx="0" cy="0" rx="3.0" ry="2.5" transform="translate(903.1,193.0) rotate(120)" fill="#3f30a2"/>
<ellipse cx="0" cy="0" rx="3.3" ry="2.3" transform="translate(929.9,190.8) rotate(105)" fill="#3f30a2"/>
<ellipse cx="0" cy="0" rx="3.1" ry="1.9" transform="translate(930.6,199.0) rotate(90)" fill="#3f30a2"/>
<ellipse cx="0" cy="0" rx="3.1" ry="2.3" transform="translate(914.1,173.4) rotate(105)" fill="#3f30a2"/>
<ellipse cx="0" cy="0" rx="3.7" ry="2.1" transform="translate(934.3,199.2) rotate(105)" fill="#3f30a2"/>
<ellipse cx="0" cy="0" rx="3.1" ry="2.7" transform="translate(896.0,189.8) rotate(90)" fill="#3f30a2"/>
<ellipse cx="0" cy="0" rx="3.6" ry="2.1" transform="translate(911.3,166.1) rotate(45)" fill="#3f30a2"/>
<ellipse cx="0" cy="0" rx="3.4" ry="2.7" transform="translate(916.9,201.4) rotate(90)" fill="#3f30a2"/>
<ellipse cx="0" cy="0" rx="3.0" ry="2.0" transform="translate(913.1,201.6) rotate(60)" fill="#3f30a2"/>
<ellipse cx="0" cy="0" rx="2.6" ry="2.3" transform="translate(987.8,195.3) rotate(75)" fill="#3f30a2"/>
<ellipse cx="0" cy="0" rx="3.2" ry="2.3" transform="translate(984.2,219.6) rotate(90)" fill="#3f30a2"/>
<ellipse cx="0" cy="0" rx="4.5" ry="2.1" transform="translate(966.5,191.8) rotate(70)" fill="#3f30a2"/>
<ellipse cx="0" cy="0" rx="4.6" ry="2.4" transform="translate(967.8,202.5) rotate(45)" fill="#3f30a2"/>
<ellipse cx="0" cy="0" rx="4.4" ry="1.9" transform="translate(980.7,202.3) rotate(110)" fill="#3f30a2"/>
<ellipse cx="0" cy="0" rx="2.6" ry="2.2" transform="translate(991.8,238.4) rotate(120)" fill="#3f30a2"/>
<ellipse cx="0" cy="0" rx="2.6" ry="2.7" transform="translate(980.8,257.7) rotate(105)" fill="#3f30a2"/>
<ellipse cx="0" cy="0" rx="3.8" ry="2.4" transform="translate(968.9,195.7) rotate(110)" fill="#3f30a2"/>
<ellipse cx="0" cy="0" rx="3.9" ry="1.9" transform="translate(958.9,226.3) rotate(110)" fill="#3f30a2"/>
<ellipse cx="0" cy="0" rx="4.1" ry="2.0" transform="translate(989.4,238.0) rotate(120)" fill="#3f30a2"/></g>
<rect x="128.0" y="72.2" width="34.0" height="6.5" fill="#e6eef7"/>
<rect x="188.0" y="72.2" width="31.0" height="6.5" fill="#e6eef7"/>
<rect x="243.0" y="72.2" width="33.0" height="6.5" fill="#e6eef7"/>
<rect x="300.0" y="72.2" width="33.0" height="6.5" fill="#e6eef7"/>
<rect x="127.8" y="72.5" width="6.5" height="37.1" fill="#e6eef7"/>
<rect x="127.8" y="133.5" width="6.5" height="33.1" fill="#e6eef7"/>
<rect x="127.8" y="190.5" width="6.5" height="33.1" fill="#e6eef7"/>
<rect x="127.8" y="245.7" width="6.5" height="33.0" fill="#e6eef7"/>
<rect x="127.8" y="302.6" width="6.5" height="31.4" fill="#e6eef7"/>
<rect x="127.8" y="357.8" width="6.5" height="21.7" fill="#e6eef7"/>
<rect x="128.0" y="372.8" width="16.0" height="6.5" fill="#e6eef7"/>
<rect x="167.8" y="372.8" width="31.2" height="6.5" fill="#e6eef7"/>
<rect x="224.8" y="372.8" width="31.2" height="6.5" fill="#e6eef7"/>
<rect x="281.8" y="372.8" width="31.2" height="6.5" fill="#e6eef7"/>
<rect x="338.8" y="372.8" width="16.2" height="6.5" fill="#e6eef7"/>
<rect x="348.4" y="72.0" width="6.5" height="39.5" fill="#e6eef7"/>
<rect x="348.4" y="135.0" width="6.5" height="33.5" fill="#e6eef7"/>
<rect x="348.4" y="192.0" width="6.5" height="31.6" fill="#e6eef7"/>
<rect x="348.4" y="247.5" width="6.5" height="33.1" fill="#e6eef7"/>
<rect x="348.4" y="302.6" width="6.5" height="33.1" fill="#e6eef7"/>
<rect x="348.4" y="358.0" width="6.5" height="21.5" fill="#e6eef7"/>
<rect x="414.0" y="72.5" width="30.5" height="6.5" fill="#e0242a"/>
<rect x="470.4" y="72.5" width="31.2" height="6.5" fill="#e0242a"/>
<rect x="526.4" y="72.5" width="32.6" height="6.5" fill="#e0242a"/>
<rect x="584.0" y="72.5" width="30.4" height="6.5" fill="#e0242a"/>
<rect x="409.8" y="97.0" width="6.5" height="31.7" fill="#e0242a"/>
<rect x="409.8" y="153.0" width="6.5" height="32.0" fill="#e0242a"/>
<rect x="409.8" y="207.6" width="6.5" height="31.4" fill="#e0242a"/>
<rect x="409.8" y="264.0" width="6.5" height="33.0" fill="#e0242a"/>
<rect x="409.8" y="320.0" width="6.5" height="31.5" fill="#e0242a"/>
<rect x="417.5" y="369.2" width="29.5" height="6.5" fill="#e0242a"/>
<rect x="473.7" y="369.2" width="31.3" height="6.5" fill="#e0242a"/>
<rect x="530.0" y="369.2" width="31.0" height="6.5" fill="#e0242a"/>
<rect x="586.0" y="369.2" width="31.5" height="6.5" fill="#e0242a"/>
<rect x="616.8" y="95.0" width="6.5" height="32.0" fill="#e0242a"/>
<rect x="616.8" y="150.0" width="6.5" height="33.0" fill="#e0242a"/>
<rect x="616.8" y="206.0" width="6.5" height="31.5" fill="#e0242a"/>
<rect x="616.8" y="262.0" width="6.5" height="31.6" fill="#e0242a"/>
<rect x="616.8" y="318.0" width="6.5" height="31.7" fill="#e0242a"/>
<rect x="684.5" y="72.8" width="35.5" height="6.5" fill="#f5bd17"/>
<rect x="745.0" y="72.8" width="32.0" height="6.5" fill="#f5bd17"/>
<rect x="802.0" y="72.8" width="32.0" height="6.5" fill="#f5bd17"/>
<rect x="859.0" y="72.8" width="30.5" height="6.5" fill="#f5bd17"/>
<rect x="684.5" y="72.8" width="6.5" height="11.2" fill="#f5bd17"/>
<rect x="684.5" y="107.6" width="6.5" height="32.2" fill="#f5bd17"/>
<rect x="684.5" y="164.6" width="6.5" height="32.2" fill="#f5bd17"/>
<rect x="684.5" y="220.0" width="6.5" height="32.0" fill="#f5bd17"/>
<rect x="684.5" y="275.8" width="6.5" height="30.7" fill="#f5bd17"/>
<rect x="684.5" y="331.3" width="6.5" height="32.2" fill="#f5bd17"/>
<rect x="889.2" y="97.4" width="6.5" height="32.2" fill="#f5bd17"/>
<rect x="889.2" y="154.4" width="6.5" height="32.2" fill="#f5bd17"/>
<rect x="889.2" y="210.0" width="6.5" height="32.0" fill="#f5bd17"/>
<rect x="889.2" y="265.5" width="6.5" height="32.2" fill="#f5bd17"/>
<rect x="889.2" y="321.0" width="6.5" height="31.0" fill="#f5bd17"/>
<rect x="695.0" y="376.8" width="32.0" height="6.5" fill="#f5bd17"/>
<rect x="752.0" y="376.8" width="31.0" height="6.5" fill="#f5bd17"/>
<rect x="809.0" y="376.8" width="31.0" height="6.5" fill="#f5bd17"/>
<rect x="864.7" y="376.8" width="30.3" height="6.5" fill="#f5bd17"/>
<line x1="410" y1="51" x2="715" y2="51" stroke="#d8d8e0" stroke-width="2" stroke-dasharray="8 8"/>
<rect x="498.5" y="52" width="5.5" height="5.5" fill="#111"/>
<text x="106.0" y="135.7" font-size="34" text-anchor="end" font-weight="normal" font-style="normal" fill="#424242" textLength="38" lengthAdjust="spacingAndGlyphs" >80</text>
<text x="106.0" y="202.3" font-size="34" text-anchor="end" font-weight="normal" font-style="normal" fill="#424242" textLength="38" lengthAdjust="spacingAndGlyphs" >60</text>
<text x="106.0" y="269.0" font-size="34" text-anchor="end" font-weight="normal" font-style="normal" fill="#424242" textLength="38" lengthAdjust="spacingAndGlyphs" >40</text>
<text x="106.0" y="335.7" font-size="34" text-anchor="end" font-weight="normal" font-style="normal" fill="#424242" textLength="38" lengthAdjust="spacingAndGlyphs" >20</text>
<text x="122.6" y="434.0" font-size="35" text-anchor="middle" font-weight="normal" font-style="normal" fill="#424242" textLength="58" lengthAdjust="spacingAndGlyphs" >100</text>
<text x="414.0" y="434.0" font-size="35" text-anchor="middle" font-weight="normal" font-style="normal" fill="#424242" textLength="58" lengthAdjust="spacingAndGlyphs" >150</text>
<text x="707.0" y="434.0" font-size="35" text-anchor="middle" font-weight="normal" font-style="normal" fill="#424242" textLength="58" lengthAdjust="spacingAndGlyphs" >200</text>
<text x="1000.0" y="434.0" font-size="35" text-anchor="middle" font-weight="normal" font-style="normal" fill="#424242" textLength="58" lengthAdjust="spacingAndGlyphs" >250</text>
<text x="0" y="0" font-size="27" font-weight="bold" fill="#111" text-anchor="middle" textLength="60" lengthAdjust="spacingAndGlyphs" transform="translate(37.5,245) rotate(-90)">Z(m)</text>
<text x="548.0" y="450.5" font-size="27" text-anchor="middle" font-weight="bold" font-style="normal" fill="#111" textLength="82" lengthAdjust="spacingAndGlyphs" >t(min)</text>
<text x="0.0" y="30.0" font-size="29" text-anchor="start" font-weight="bold" font-style="normal" fill="#000" >A</text>
<defs><linearGradient id="cb" x1="0" y1="0" x2="0" y2="1"><stop offset="0" stop-color="#f2e920"/><stop offset="0.06" stop-color="#f2e41e"/><stop offset="0.13" stop-color="#fbc230"/><stop offset="0.18" stop-color="#f8b33a"/><stop offset="0.24" stop-color="#d9b72a"/><stop offset="0.28" stop-color="#b5c432"/><stop offset="0.32" stop-color="#95c948"/><stop offset="0.355" stop-color="#72c163"/><stop offset="0.395" stop-color="#4abd88"/><stop offset="0.45" stop-color="#2abba5"/><stop offset="0.5" stop-color="#1bbcb6"/><stop offset="0.54" stop-color="#18b5cc"/><stop offset="0.59" stop-color="#18abe0"/><stop offset="0.66" stop-color="#3a95d5"/><stop offset="0.72" stop-color="#4a82c8"/><stop offset="0.755" stop-color="#4b6dbe"/><stop offset="0.815" stop-color="#5060b0"/><stop offset="0.87" stop-color="#4e56a8"/><stop offset="0.93" stop-color="#4a48a0"/><stop offset="1" stop-color="#44389a"/></linearGradient></defs>
<rect x="1054.8" y="61.4" width="51.4" height="328.4" fill="url(#cb)" stroke="#5a5a40" stroke-width="1.5"/>
<text x="1120.0" y="72.5" font-size="29" text-anchor="start" font-weight="normal" font-style="normal" fill="#424242" >1</text>
<text x="1120.0" y="156.0" font-size="29" text-anchor="start" font-weight="normal" font-style="normal" fill="#424242" textLength="42.8" lengthAdjust="spacingAndGlyphs" >0.5</text>
<text x="1120.0" y="237.5" font-size="29" text-anchor="start" font-weight="normal" font-style="normal" fill="#424242" >0</text>
<text x="1120.0" y="319.5" font-size="29" text-anchor="start" font-weight="normal" font-style="normal" fill="#424242" textLength="53.8" lengthAdjust="spacingAndGlyphs" >-0.5</text>
<text x="1120.0" y="401.5" font-size="29" text-anchor="start" font-weight="normal" font-style="normal" fill="#424242" >-1</text>
<text x="1110.0" y="47.0" font-size="26" text-anchor="start" font-weight="normal" font-style="normal" fill="#777" >×</text>
<text x="1131.0" y="46.0" font-size="29" text-anchor="start" font-weight="normal" font-style="normal" fill="#555" textLength="32" lengthAdjust="spacingAndGlyphs" >10</text>
<text x="1168.0" y="34.0" font-size="21" text-anchor="start" font-weight="normal" font-style="normal" fill="#555" >-7</text>
<text x="1016" y="38" font-size="30" font-weight="bold" fill="#111">χ(<tspan font-style="italic">s</tspan><tspan font-size="18" dy="-12" font-style="italic">-1</tspan><tspan dy="12">)</tspan></text>
<line x1="1101.0" y1="143.3" x2="1106.0" y2="143.3" stroke="#3a3a3a" stroke-width="1.6" />
<line x1="1101.0" y1="225.7" x2="1106.0" y2="225.7" stroke="#3a3a3a" stroke-width="1.6" />
<line x1="1101.0" y1="308.3" x2="1106.0" y2="308.3" stroke="#3a3a3a" stroke-width="1.6" />
<rect x="355" y="520" width="2.5" height="3" fill="#666"/><rect x="355" y="538" width="2.5" height="3" fill="#666"/><rect x="361" y="1288" width="2.5" height="2.5" fill="#888"/>
<rect x="175.3" y="530.5" width="169.7" height="728.7" fill="none" stroke="#6a6a6a" stroke-width="2"/>
<line x1="175.3" y1="1186.3" x2="182.3" y2="1186.3" stroke="#6a6a6a" stroke-width="2" />
<line x1="338.0" y1="1186.3" x2="345.0" y2="1186.3" stroke="#6a6a6a" stroke-width="2" />
<line x1="175.3" y1="1113.5" x2="182.3" y2="1113.5" stroke="#6a6a6a" stroke-width="2" />
<line x1="338.0" y1="1113.5" x2="345.0" y2="1113.5" stroke="#6a6a6a" stroke-width="2" />
<line x1="175.3" y1="1040.6" x2="182.3" y2="1040.6" stroke="#6a6a6a" stroke-width="2" />
<line x1="338.0" y1="1040.6" x2="345.0" y2="1040.6" stroke="#6a6a6a" stroke-width="2" />
<line x1="175.3" y1="967.7" x2="182.3" y2="967.7" stroke="#6a6a6a" stroke-width="2" />
<line x1="338.0" y1="967.7" x2="345.0" y2="967.7" stroke="#6a6a6a" stroke-width="2" />
<line x1="175.3" y1="894.9" x2="182.3" y2="894.9" stroke="#6a6a6a" stroke-width="2" />
<line x1="338.0" y1="894.9" x2="345.0" y2="894.9" stroke="#6a6a6a" stroke-width="2" />
<line x1="175.3" y1="822.0" x2="182.3" y2="822.0" stroke="#6a6a6a" stroke-width="2" />
<line x1="338.0" y1="822.0" x2="345.0" y2="822.0" stroke="#6a6a6a" stroke-width="2" />
<line x1="175.3" y1="749.1" x2="182.3" y2="749.1" stroke="#6a6a6a" stroke-width="2" />
<line x1="338.0" y1="749.1" x2="345.0" y2="749.1" stroke="#6a6a6a" stroke-width="2" />
<line x1="175.3" y1="676.2" x2="182.3" y2="676.2" stroke="#6a6a6a" stroke-width="2" />
<line x1="338.0" y1="676.2" x2="345.0" y2="676.2" stroke="#6a6a6a" stroke-width="2" />
<line x1="175.3" y1="603.4" x2="182.3" y2="603.4" stroke="#6a6a6a" stroke-width="2" />
<line x1="338.0" y1="603.4" x2="345.0" y2="603.4" stroke="#6a6a6a" stroke-width="2" />
<line x1="183.0" y1="1259.2" x2="183.0" y2="1252.2" stroke="#6a6a6a" stroke-width="2" />
<line x1="183.0" y1="530.5" x2="183.0" y2="537.5" stroke="#6a6a6a" stroke-width="2" />
<line x1="253.2" y1="1259.2" x2="253.2" y2="1252.2" stroke="#6a6a6a" stroke-width="2" />
<line x1="253.2" y1="530.5" x2="253.2" y2="537.5" stroke="#6a6a6a" stroke-width="2" />
<line x1="323.4" y1="1259.2" x2="323.4" y2="1252.2" stroke="#6a6a6a" stroke-width="2" />
<line x1="323.4" y1="530.5" x2="323.4" y2="537.5" stroke="#6a6a6a" stroke-width="2" />
<text x="162.0" y="1270.0" font-size="30" text-anchor="end" font-weight="normal" font-style="normal" fill="#424242" >0</text>
<text x="162.0" y="1197.1" font-size="30" text-anchor="end" font-weight="normal" font-style="normal" fill="#424242" >10</text>
<text x="162.0" y="1124.3" font-size="30" text-anchor="end" font-weight="normal" font-style="normal" fill="#424242" >20</text>
<text x="162.0" y="1051.4" font-size="30" text-anchor="end" font-weight="normal" font-style="normal" fill="#424242" >30</text>
<text x="162.0" y="978.5" font-size="30" text-anchor="end" font-weight="normal" font-style="normal" fill="#424242" >40</text>
<text x="162.0" y="905.6" font-size="30" text-anchor="end" font-weight="normal" font-style="normal" fill="#424242" >50</text>
<text x="162.0" y="832.8" font-size="30" text-anchor="end" font-weight="normal" font-style="normal" fill="#424242" >60</text>
<text x="162.0" y="759.9" font-size="30" text-anchor="end" font-weight="normal" font-style="normal" fill="#424242" >70</text>
<text x="162.0" y="687.0" font-size="30" text-anchor="end" font-weight="normal" font-style="normal" fill="#424242" >80</text>
<text x="162.0" y="614.2" font-size="30" text-anchor="end" font-weight="normal" font-style="normal" fill="#424242" >90</text>
<text x="162.0" y="541.3" font-size="30" text-anchor="end" font-weight="normal" font-style="normal" fill="#424242" >100</text>
<text x="183.5" y="1298.0" font-size="29" text-anchor="middle" font-weight="normal" font-style="normal" fill="#424242" >0</text>
<text x="253.0" y="1298.0" font-size="29" text-anchor="middle" font-weight="normal" font-style="normal" fill="#424242" >0.1</text>
<text x="323.0" y="1298.0" font-size="29" text-anchor="middle" font-weight="normal" font-style="normal" fill="#424242" >0.2</text>
<rect x="420.2" y="524.0" width="160.8" height="735.0" fill="none" stroke="#6a6a6a" stroke-width="2"/>
<line x1="420.2" y1="1185.5" x2="427.2" y2="1185.5" stroke="#6a6a6a" stroke-width="2" />
<line x1="574.0" y1="1185.5" x2="581.0" y2="1185.5" stroke="#6a6a6a" stroke-width="2" />
<line x1="420.2" y1="1112.0" x2="427.2" y2="1112.0" stroke="#6a6a6a" stroke-width="2" />
<line x1="574.0" y1="1112.0" x2="581.0" y2="1112.0" stroke="#6a6a6a" stroke-width="2" />
<line x1="420.2" y1="1038.5" x2="427.2" y2="1038.5" stroke="#6a6a6a" stroke-width="2" />
<line x1="574.0" y1="1038.5" x2="581.0" y2="1038.5" stroke="#6a6a6a" stroke-width="2" />
<line x1="420.2" y1="965.0" x2="427.2" y2="965.0" stroke="#6a6a6a" stroke-width="2" />
<line x1="574.0" y1="965.0" x2="581.0" y2="965.0" stroke="#6a6a6a" stroke-width="2" />
<line x1="420.2" y1="891.5" x2="427.2" y2="891.5" stroke="#6a6a6a" stroke-width="2" />
<line x1="574.0" y1="891.5" x2="581.0" y2="891.5" stroke="#6a6a6a" stroke-width="2" />
<line x1="420.2" y1="818.0" x2="427.2" y2="818.0" stroke="#6a6a6a" stroke-width="2" />
<line x1="574.0" y1="818.0" x2="581.0" y2="818.0" stroke="#6a6a6a" stroke-width="2" />
<line x1="420.2" y1="744.5" x2="427.2" y2="744.5" stroke="#6a6a6a" stroke-width="2" />
<line x1="574.0" y1="744.5" x2="581.0" y2="744.5" stroke="#6a6a6a" stroke-width="2" />
<line x1="420.2" y1="671.0" x2="427.2" y2="671.0" stroke="#6a6a6a" stroke-width="2" />
<line x1="574.0" y1="671.0" x2="581.0" y2="671.0" stroke="#6a6a6a" stroke-width="2" />
<line x1="420.2" y1="597.5" x2="427.2" y2="597.5" stroke="#6a6a6a" stroke-width="2" />
<line x1="574.0" y1="597.5" x2="581.0" y2="597.5" stroke="#6a6a6a" stroke-width="2" />
<line x1="500.6" y1="1259.0" x2="500.6" y2="1252.0" stroke="#6a6a6a" stroke-width="2" />
<line x1="500.6" y1="524.0" x2="500.6" y2="531.0" stroke="#6a6a6a" stroke-width="2" />
<line x1="444.4" y1="1259.0" x2="444.4" y2="1255.0" stroke="#6a6a6a" stroke-width="1.6" />
<line x1="444.4" y1="524.0" x2="444.4" y2="528.0" stroke="#6a6a6a" stroke-width="1.6" />
<line x1="458.6" y1="1259.0" x2="458.6" y2="1255.0" stroke="#6a6a6a" stroke-width="1.6" />
<line x1="458.6" y1="524.0" x2="458.6" y2="528.0" stroke="#6a6a6a" stroke-width="1.6" />
<line x1="468.6" y1="1259.0" x2="468.6" y2="1255.0" stroke="#6a6a6a" stroke-width="1.6" />
<line x1="468.6" y1="524.0" x2="468.6" y2="528.0" stroke="#6a6a6a" stroke-width="1.6" />
<line x1="476.4" y1="1259.0" x2="476.4" y2="1255.0" stroke="#6a6a6a" stroke-width="1.6" />
<line x1="476.4" y1="524.0" x2="476.4" y2="528.0" stroke="#6a6a6a" stroke-width="1.6" />
<line x1="482.8" y1="1259.0" x2="482.8" y2="1255.0" stroke="#6a6a6a" stroke-width="1.6" />
<line x1="482.8" y1="524.0" x2="482.8" y2="528.0" stroke="#6a6a6a" stroke-width="1.6" />
<line x1="488.1" y1="1259.0" x2="488.1" y2="1255.0" stroke="#6a6a6a" stroke-width="1.6" />
<line x1="488.1" y1="524.0" x2="488.1" y2="528.0" stroke="#6a6a6a" stroke-width="1.6" />
<line x1="492.8" y1="1259.0" x2="492.8" y2="1255.0" stroke="#6a6a6a" stroke-width="1.6" />
<line x1="492.8" y1="524.0" x2="492.8" y2="528.0" stroke="#6a6a6a" stroke-width="1.6" />
<line x1="496.9" y1="1259.0" x2="496.9" y2="1255.0" stroke="#6a6a6a" stroke-width="1.6" />
<line x1="496.9" y1="524.0" x2="496.9" y2="528.0" stroke="#6a6a6a" stroke-width="1.6" />
<line x1="524.8" y1="1259.0" x2="524.8" y2="1255.0" stroke="#6a6a6a" stroke-width="1.6" />
<line x1="524.8" y1="524.0" x2="524.8" y2="528.0" stroke="#6a6a6a" stroke-width="1.6" />
<line x1="539.0" y1="1259.0" x2="539.0" y2="1255.0" stroke="#6a6a6a" stroke-width="1.6" />
<line x1="539.0" y1="524.0" x2="539.0" y2="528.0" stroke="#6a6a6a" stroke-width="1.6" />
<line x1="549.0" y1="1259.0" x2="549.0" y2="1255.0" stroke="#6a6a6a" stroke-width="1.6" />
<line x1="549.0" y1="524.0" x2="549.0" y2="528.0" stroke="#6a6a6a" stroke-width="1.6" />
<line x1="556.8" y1="1259.0" x2="556.8" y2="1255.0" stroke="#6a6a6a" stroke-width="1.6" />
<line x1="556.8" y1="524.0" x2="556.8" y2="528.0" stroke="#6a6a6a" stroke-width="1.6" />
<line x1="563.2" y1="1259.0" x2="563.2" y2="1255.0" stroke="#6a6a6a" stroke-width="1.6" />
<line x1="563.2" y1="524.0" x2="563.2" y2="528.0" stroke="#6a6a6a" stroke-width="1.6" />
<line x1="568.5" y1="1259.0" x2="568.5" y2="1255.0" stroke="#6a6a6a" stroke-width="1.6" />
<line x1="568.5" y1="524.0" x2="568.5" y2="528.0" stroke="#6a6a6a" stroke-width="1.6" />
<line x1="573.2" y1="1259.0" x2="573.2" y2="1255.0" stroke="#6a6a6a" stroke-width="1.6" />
<line x1="573.2" y1="524.0" x2="573.2" y2="528.0" stroke="#6a6a6a" stroke-width="1.6" />
<line x1="577.3" y1="1259.0" x2="577.3" y2="1255.0" stroke="#6a6a6a" stroke-width="1.6" />
<line x1="577.3" y1="524.0" x2="577.3" y2="528.0" stroke="#6a6a6a" stroke-width="1.6" />
<text x="407.7" y="1269.8" font-size="30" text-anchor="end" font-weight="normal" font-style="normal" fill="#424242" >0</text>
<text x="407.7" y="1196.3" font-size="30" text-anchor="end" font-weight="normal" font-style="normal" fill="#424242" >10</text>
<text x="407.7" y="1122.8" font-size="30" text-anchor="end" font-weight="normal" font-style="normal" fill="#424242" >20</text>
<text x="407.7" y="1049.3" font-size="30" text-anchor="end" font-weight="normal" font-style="normal" fill="#424242" >30</text>
<text x="407.7" y="975.8" font-size="30" text-anchor="end" font-weight="normal" font-style="normal" fill="#424242" >40</text>
<text x="407.7" y="902.3" font-size="30" text-anchor="end" font-weight="normal" font-style="normal" fill="#424242" >50</text>
<text x="407.7" y="828.8" font-size="30" text-anchor="end" font-weight="normal" font-style="normal" fill="#424242" >60</text>
<text x="407.7" y="755.3" font-size="30" text-anchor="end" font-weight="normal" font-style="normal" fill="#424242" >70</text>
<text x="407.7" y="681.8" font-size="30" text-anchor="end" font-weight="normal" font-style="normal" fill="#424242" >80</text>
<text x="407.7" y="608.3" font-size="30" text-anchor="end" font-weight="normal" font-style="normal" fill="#424242" >90</text>
<text x="407.7" y="534.8" font-size="30" text-anchor="end" font-weight="normal" font-style="normal" fill="#424242" >100</text>
<rect x="663.4" y="530.2" width="170.2" height="729.1" fill="none" stroke="#6a6a6a" stroke-width="2"/>
<line x1="663.4" y1="1186.4" x2="670.4" y2="1186.4" stroke="#6a6a6a" stroke-width="2" />
<line x1="826.6" y1="1186.4" x2="833.6" y2="1186.4" stroke="#6a6a6a" stroke-width="2" />
<line x1="663.4" y1="1113.5" x2="670.4" y2="1113.5" stroke="#6a6a6a" stroke-width="2" />
<line x1="826.6" y1="1113.5" x2="833.6" y2="1113.5" stroke="#6a6a6a" stroke-width="2" />
<line x1="663.4" y1="1040.6" x2="670.4" y2="1040.6" stroke="#6a6a6a" stroke-width="2" />
<line x1="826.6" y1="1040.6" x2="833.6" y2="1040.6" stroke="#6a6a6a" stroke-width="2" />
<line x1="663.4" y1="967.7" x2="670.4" y2="967.7" stroke="#6a6a6a" stroke-width="2" />
<line x1="826.6" y1="967.7" x2="833.6" y2="967.7" stroke="#6a6a6a" stroke-width="2" />
<line x1="663.4" y1="894.8" x2="670.4" y2="894.8" stroke="#6a6a6a" stroke-width="2" />
<line x1="826.6" y1="894.8" x2="833.6" y2="894.8" stroke="#6a6a6a" stroke-width="2" />
<line x1="663.4" y1="821.8" x2="670.4" y2="821.8" stroke="#6a6a6a" stroke-width="2" />
<line x1="826.6" y1="821.8" x2="833.6" y2="821.8" stroke="#6a6a6a" stroke-width="2" />
<line x1="663.4" y1="748.9" x2="670.4" y2="748.9" stroke="#6a6a6a" stroke-width="2" />
<line x1="826.6" y1="748.9" x2="833.6" y2="748.9" stroke="#6a6a6a" stroke-width="2" />
<line x1="663.4" y1="676.0" x2="670.4" y2="676.0" stroke="#6a6a6a" stroke-width="2" />
<line x1="826.6" y1="676.0" x2="833.6" y2="676.0" stroke="#6a6a6a" stroke-width="2" />
<line x1="663.4" y1="603.1" x2="670.4" y2="603.1" stroke="#6a6a6a" stroke-width="2" />
<line x1="826.6" y1="603.1" x2="833.6" y2="603.1" stroke="#6a6a6a" stroke-width="2" />
<line x1="748.5" y1="1259.3" x2="748.5" y2="1252.3" stroke="#6a6a6a" stroke-width="2" />
<line x1="748.5" y1="530.2" x2="748.5" y2="537.2" stroke="#6a6a6a" stroke-width="2" />
<line x1="689.0" y1="1259.3" x2="689.0" y2="1255.3" stroke="#6a6a6a" stroke-width="1.6" />
<line x1="689.0" y1="530.2" x2="689.0" y2="534.2" stroke="#6a6a6a" stroke-width="1.6" />
<line x1="704.0" y1="1259.3" x2="704.0" y2="1255.3" stroke="#6a6a6a" stroke-width="1.6" />
<line x1="704.0" y1="530.2" x2="704.0" y2="534.2" stroke="#6a6a6a" stroke-width="1.6" />
<line x1="714.6" y1="1259.3" x2="714.6" y2="1255.3" stroke="#6a6a6a" stroke-width="1.6" />
<line x1="714.6" y1="530.2" x2="714.6" y2="534.2" stroke="#6a6a6a" stroke-width="1.6" />
<line x1="722.9" y1="1259.3" x2="722.9" y2="1255.3" stroke="#6a6a6a" stroke-width="1.6" />
<line x1="722.9" y1="530.2" x2="722.9" y2="534.2" stroke="#6a6a6a" stroke-width="1.6" />
<line x1="729.6" y1="1259.3" x2="729.6" y2="1255.3" stroke="#6a6a6a" stroke-width="1.6" />
<line x1="729.6" y1="530.2" x2="729.6" y2="534.2" stroke="#6a6a6a" stroke-width="1.6" />
<line x1="735.3" y1="1259.3" x2="735.3" y2="1255.3" stroke="#6a6a6a" stroke-width="1.6" />
<line x1="735.3" y1="530.2" x2="735.3" y2="534.2" stroke="#6a6a6a" stroke-width="1.6" />
<line x1="740.3" y1="1259.3" x2="740.3" y2="1255.3" stroke="#6a6a6a" stroke-width="1.6" />
<line x1="740.3" y1="530.2" x2="740.3" y2="534.2" stroke="#6a6a6a" stroke-width="1.6" />
<line x1="744.6" y1="1259.3" x2="744.6" y2="1255.3" stroke="#6a6a6a" stroke-width="1.6" />
<line x1="744.6" y1="530.2" x2="744.6" y2="534.2" stroke="#6a6a6a" stroke-width="1.6" />
<line x1="774.1" y1="1259.3" x2="774.1" y2="1255.3" stroke="#6a6a6a" stroke-width="1.6" />
<line x1="774.1" y1="530.2" x2="774.1" y2="534.2" stroke="#6a6a6a" stroke-width="1.6" />
<line x1="789.1" y1="1259.3" x2="789.1" y2="1255.3" stroke="#6a6a6a" stroke-width="1.6" />
<line x1="789.1" y1="530.2" x2="789.1" y2="534.2" stroke="#6a6a6a" stroke-width="1.6" />
<line x1="799.7" y1="1259.3" x2="799.7" y2="1255.3" stroke="#6a6a6a" stroke-width="1.6" />
<line x1="799.7" y1="530.2" x2="799.7" y2="534.2" stroke="#6a6a6a" stroke-width="1.6" />
<line x1="808.0" y1="1259.3" x2="808.0" y2="1255.3" stroke="#6a6a6a" stroke-width="1.6" />
<line x1="808.0" y1="530.2" x2="808.0" y2="534.2" stroke="#6a6a6a" stroke-width="1.6" />
<line x1="814.7" y1="1259.3" x2="814.7" y2="1255.3" stroke="#6a6a6a" stroke-width="1.6" />
<line x1="814.7" y1="530.2" x2="814.7" y2="534.2" stroke="#6a6a6a" stroke-width="1.6" />
<line x1="820.4" y1="1259.3" x2="820.4" y2="1255.3" stroke="#6a6a6a" stroke-width="1.6" />
<line x1="820.4" y1="530.2" x2="820.4" y2="534.2" stroke="#6a6a6a" stroke-width="1.6" />
<line x1="825.4" y1="1259.3" x2="825.4" y2="1255.3" stroke="#6a6a6a" stroke-width="1.6" />
<line x1="825.4" y1="530.2" x2="825.4" y2="534.2" stroke="#6a6a6a" stroke-width="1.6" />
<line x1="829.7" y1="1259.3" x2="829.7" y2="1255.3" stroke="#6a6a6a" stroke-width="1.6" />
<line x1="829.7" y1="530.2" x2="829.7" y2="534.2" stroke="#6a6a6a" stroke-width="1.6" />
<text x="650.0" y="1270.1" font-size="30" text-anchor="end" font-weight="normal" font-style="normal" fill="#424242" >0</text>
<text x="650.0" y="1197.2" font-size="30" text-anchor="end" font-weight="normal" font-style="normal" fill="#424242" >10</text>
<text x="650.0" y="1124.3" font-size="30" text-anchor="end" font-weight="normal" font-style="normal" fill="#424242" >20</text>
<text x="650.0" y="1051.4" font-size="30" text-anchor="end" font-weight="normal" font-style="normal" fill="#424242" >30</text>
<text x="650.0" y="978.5" font-size="30" text-anchor="end" font-weight="normal" font-style="normal" fill="#424242" >40</text>
<text x="650.0" y="905.5" font-size="30" text-anchor="end" font-weight="normal" font-style="normal" fill="#424242" >50</text>
<text x="650.0" y="832.6" font-size="30" text-anchor="end" font-weight="normal" font-style="normal" fill="#424242" >60</text>
<text x="650.0" y="759.7" font-size="30" text-anchor="end" font-weight="normal" font-style="normal" fill="#424242" >70</text>
<text x="650.0" y="686.8" font-size="30" text-anchor="end" font-weight="normal" font-style="normal" fill="#424242" >80</text>
<text x="650.0" y="613.9" font-size="30" text-anchor="end" font-weight="normal" font-style="normal" fill="#424242" >90</text>
<text x="650.0" y="541.0" font-size="30" text-anchor="end" font-weight="normal" font-style="normal" fill="#424242" >100</text>
<rect x="908.2" y="530.2" width="169.6" height="728.8" fill="none" stroke="#6a6a6a" stroke-width="2"/>
<line x1="908.2" y1="1186.1" x2="915.2" y2="1186.1" stroke="#6a6a6a" stroke-width="2" />
<line x1="1070.8" y1="1186.1" x2="1077.8" y2="1186.1" stroke="#6a6a6a" stroke-width="2" />
<line x1="908.2" y1="1113.2" x2="915.2" y2="1113.2" stroke="#6a6a6a" stroke-width="2" />
<line x1="1070.8" y1="1113.2" x2="1077.8" y2="1113.2" stroke="#6a6a6a" stroke-width="2" />
<line x1="908.2" y1="1040.4" x2="915.2" y2="1040.4" stroke="#6a6a6a" stroke-width="2" />
<line x1="1070.8" y1="1040.4" x2="1077.8" y2="1040.4" stroke="#6a6a6a" stroke-width="2" />
<line x1="908.2" y1="967.5" x2="915.2" y2="967.5" stroke="#6a6a6a" stroke-width="2" />
<line x1="1070.8" y1="967.5" x2="1077.8" y2="967.5" stroke="#6a6a6a" stroke-width="2" />
<line x1="908.2" y1="894.6" x2="915.2" y2="894.6" stroke="#6a6a6a" stroke-width="2" />
<line x1="1070.8" y1="894.6" x2="1077.8" y2="894.6" stroke="#6a6a6a" stroke-width="2" />
<line x1="908.2" y1="821.7" x2="915.2" y2="821.7" stroke="#6a6a6a" stroke-width="2" />
<line x1="1070.8" y1="821.7" x2="1077.8" y2="821.7" stroke="#6a6a6a" stroke-width="2" />
<line x1="908.2" y1="748.8" x2="915.2" y2="748.8" stroke="#6a6a6a" stroke-width="2" />
<line x1="1070.8" y1="748.8" x2="1077.8" y2="748.8" stroke="#6a6a6a" stroke-width="2" />
<line x1="908.2" y1="676.0" x2="915.2" y2="676.0" stroke="#6a6a6a" stroke-width="2" />
<line x1="1070.8" y1="676.0" x2="1077.8" y2="676.0" stroke="#6a6a6a" stroke-width="2" />
<line x1="908.2" y1="603.1" x2="915.2" y2="603.1" stroke="#6a6a6a" stroke-width="2" />
<line x1="1070.8" y1="603.1" x2="1077.8" y2="603.1" stroke="#6a6a6a" stroke-width="2" />
<line x1="993.0" y1="1259.0" x2="993.0" y2="1252.0" stroke="#6a6a6a" stroke-width="2" />
<line x1="993.0" y1="530.2" x2="993.0" y2="537.2" stroke="#6a6a6a" stroke-width="2" />
<line x1="933.7" y1="1259.0" x2="933.7" y2="1255.0" stroke="#6a6a6a" stroke-width="1.6" />
<line x1="933.7" y1="530.2" x2="933.7" y2="534.2" stroke="#6a6a6a" stroke-width="1.6" />
<line x1="948.7" y1="1259.0" x2="948.7" y2="1255.0" stroke="#6a6a6a" stroke-width="1.6" />
<line x1="948.7" y1="530.2" x2="948.7" y2="534.2" stroke="#6a6a6a" stroke-width="1.6" />
<line x1="959.3" y1="1259.0" x2="959.3" y2="1255.0" stroke="#6a6a6a" stroke-width="1.6" />
<line x1="959.3" y1="530.2" x2="959.3" y2="534.2" stroke="#6a6a6a" stroke-width="1.6" />
<line x1="967.5" y1="1259.0" x2="967.5" y2="1255.0" stroke="#6a6a6a" stroke-width="1.6" />
<line x1="967.5" y1="530.2" x2="967.5" y2="534.2" stroke="#6a6a6a" stroke-width="1.6" />
<line x1="974.2" y1="1259.0" x2="974.2" y2="1255.0" stroke="#6a6a6a" stroke-width="1.6" />
<line x1="974.2" y1="530.2" x2="974.2" y2="534.2" stroke="#6a6a6a" stroke-width="1.6" />
<line x1="979.9" y1="1259.0" x2="979.9" y2="1255.0" stroke="#6a6a6a" stroke-width="1.6" />
<line x1="979.9" y1="530.2" x2="979.9" y2="534.2" stroke="#6a6a6a" stroke-width="1.6" />
<line x1="984.8" y1="1259.0" x2="984.8" y2="1255.0" stroke="#6a6a6a" stroke-width="1.6" />
<line x1="984.8" y1="530.2" x2="984.8" y2="534.2" stroke="#6a6a6a" stroke-width="1.6" />
<line x1="989.1" y1="1259.0" x2="989.1" y2="1255.0" stroke="#6a6a6a" stroke-width="1.6" />
<line x1="989.1" y1="530.2" x2="989.1" y2="534.2" stroke="#6a6a6a" stroke-width="1.6" />
<line x1="1018.5" y1="1259.0" x2="1018.5" y2="1255.0" stroke="#6a6a6a" stroke-width="1.6" />
<line x1="1018.5" y1="530.2" x2="1018.5" y2="534.2" stroke="#6a6a6a" stroke-width="1.6" />
<line x1="1033.5" y1="1259.0" x2="1033.5" y2="1255.0" stroke="#6a6a6a" stroke-width="1.6" />
<line x1="1033.5" y1="530.2" x2="1033.5" y2="534.2" stroke="#6a6a6a" stroke-width="1.6" />
<line x1="1044.1" y1="1259.0" x2="1044.1" y2="1255.0" stroke="#6a6a6a" stroke-width="1.6" />
<line x1="1044.1" y1="530.2" x2="1044.1" y2="534.2" stroke="#6a6a6a" stroke-width="1.6" />
<line x1="1052.3" y1="1259.0" x2="1052.3" y2="1255.0" stroke="#6a6a6a" stroke-width="1.6" />
<line x1="1052.3" y1="530.2" x2="1052.3" y2="534.2" stroke="#6a6a6a" stroke-width="1.6" />
<line x1="1059.0" y1="1259.0" x2="1059.0" y2="1255.0" stroke="#6a6a6a" stroke-width="1.6" />
<line x1="1059.0" y1="530.2" x2="1059.0" y2="534.2" stroke="#6a6a6a" stroke-width="1.6" />
<line x1="1064.7" y1="1259.0" x2="1064.7" y2="1255.0" stroke="#6a6a6a" stroke-width="1.6" />
<line x1="1064.7" y1="530.2" x2="1064.7" y2="534.2" stroke="#6a6a6a" stroke-width="1.6" />
<line x1="1069.6" y1="1259.0" x2="1069.6" y2="1255.0" stroke="#6a6a6a" stroke-width="1.6" />
<line x1="1069.6" y1="530.2" x2="1069.6" y2="534.2" stroke="#6a6a6a" stroke-width="1.6" />
<line x1="1073.9" y1="1259.0" x2="1073.9" y2="1255.0" stroke="#6a6a6a" stroke-width="1.6" />
<line x1="1073.9" y1="530.2" x2="1073.9" y2="534.2" stroke="#6a6a6a" stroke-width="1.6" />
<text x="894.0" y="1269.8" font-size="30" text-anchor="end" font-weight="normal" font-style="normal" fill="#424242" >0</text>
<text x="894.0" y="1196.9" font-size="30" text-anchor="end" font-weight="normal" font-style="normal" fill="#424242" >10</text>
<text x="894.0" y="1124.0" font-size="30" text-anchor="end" font-weight="normal" font-style="normal" fill="#424242" >20</text>
<text x="894.0" y="1051.2" font-size="30" text-anchor="end" font-weight="normal" font-style="normal" fill="#424242" >30</text>
<text x="894.0" y="978.3" font-size="30" text-anchor="end" font-weight="normal" font-style="normal" fill="#424242" >40</text>
<text x="894.0" y="905.4" font-size="30" text-anchor="end" font-weight="normal" font-style="normal" fill="#424242" >50</text>
<text x="894.0" y="832.5" font-size="30" text-anchor="end" font-weight="normal" font-style="normal" fill="#424242" >60</text>
<text x="894.0" y="759.6" font-size="30" text-anchor="end" font-weight="normal" font-style="normal" fill="#424242" >70</text>
<text x="894.0" y="686.8" font-size="30" text-anchor="end" font-weight="normal" font-style="normal" fill="#424242" >80</text>
<text x="894.0" y="613.9" font-size="30" text-anchor="end" font-weight="normal" font-style="normal" fill="#424242" >90</text>
<text x="894.0" y="541.0" font-size="30" text-anchor="end" font-weight="normal" font-style="normal" fill="#424242" >100</text>
<defs><clipPath id="c5"><rect x="0" y="0" width="604" height="1376"/></clipPath></defs>
<g>
<text x="394.0" y="1306.3" font-size="29" text-anchor="start" font-weight="normal" font-style="normal" fill="#424242" textLength="32" lengthAdjust="spacingAndGlyphs" >10</text>
<text x="427.0" y="1293.5" font-size="23" text-anchor="start" font-weight="normal" font-style="normal" fill="#424242" >-</text>
<text x="435.0" y="1293.5" font-size="23" text-anchor="start" font-weight="normal" font-style="normal" fill="#424242" >7</text>
</g>
<g>
<text x="473.5" y="1306.3" font-size="29" text-anchor="start" font-weight="normal" font-style="normal" fill="#424242" textLength="32" lengthAdjust="spacingAndGlyphs" >10</text>
<text x="506.5" y="1293.5" font-size="23" text-anchor="start" font-weight="normal" font-style="normal" fill="#424242" >-</text>
<text x="514.5" y="1293.5" font-size="23" text-anchor="start" font-weight="normal" font-style="normal" fill="#424242" >6</text>
</g>
<g clip-path="url(#c5)">
<text x="554.0" y="1306.3" font-size="29" text-anchor="start" font-weight="normal" font-style="normal" fill="#424242" textLength="32" lengthAdjust="spacingAndGlyphs" >10</text>
<text x="587.0" y="1293.5" font-size="23" text-anchor="start" font-weight="normal" font-style="normal" fill="#424242" >-</text>
<text x="595.0" y="1293.5" font-size="23" text-anchor="start" font-weight="normal" font-style="normal" fill="#424242" >5</text>
</g>
<g>
<text x="636.5" y="1306.3" font-size="29" text-anchor="start" font-weight="normal" font-style="normal" fill="#424242" textLength="32" lengthAdjust="spacingAndGlyphs" >10</text>
<text x="669.5" y="1293.5" font-size="23" text-anchor="start" font-weight="normal" font-style="normal" fill="#424242" >-</text>
<text x="677.5" y="1293.5" font-size="23" text-anchor="start" font-weight="normal" font-style="normal" fill="#424242" >7</text>
</g>
<g>
<text x="721.3" y="1306.3" font-size="29" text-anchor="start" font-weight="normal" font-style="normal" fill="#424242" textLength="32" lengthAdjust="spacingAndGlyphs" >10</text>
<text x="754.3" y="1293.5" font-size="23" text-anchor="start" font-weight="normal" font-style="normal" fill="#424242" >-</text>
<text x="762.3" y="1293.5" font-size="23" text-anchor="start" font-weight="normal" font-style="normal" fill="#424242" >6</text>
</g>
<g>
<text x="806.9" y="1306.3" font-size="29" text-anchor="start" font-weight="normal" font-style="normal" fill="#424242" textLength="32" lengthAdjust="spacingAndGlyphs" >10</text>
<text x="839.9" y="1293.5" font-size="23" text-anchor="start" font-weight="normal" font-style="normal" fill="#424242" >-</text>
<text x="847.9" y="1293.5" font-size="23" text-anchor="start" font-weight="normal" font-style="normal" fill="#424242" >5</text>
</g>
<g>
<text x="965.8" y="1306.3" font-size="29" text-anchor="start" font-weight="normal" font-style="normal" fill="#424242" textLength="32" lengthAdjust="spacingAndGlyphs" >10</text>
<text x="998.8" y="1293.5" font-size="23" text-anchor="start" font-weight="normal" font-style="normal" fill="#424242" >-</text>
<text x="1006.8" y="1293.5" font-size="23" text-anchor="start" font-weight="normal" font-style="normal" fill="#424242" >4</text>
</g>
<g>
<text x="1051.5" y="1306.3" font-size="29" text-anchor="start" font-weight="normal" font-style="normal" fill="#424242" textLength="32" lengthAdjust="spacingAndGlyphs" >10</text>
<text x="1084.5" y="1293.5" font-size="23" text-anchor="start" font-weight="normal" font-style="normal" fill="#424242" >-</text>
<text x="1092.5" y="1293.5" font-size="23" text-anchor="start" font-weight="normal" font-style="normal" fill="#424242" >3</text>
</g>
<text x="1.7" y="501.5" font-size="28" text-anchor="start" font-weight="bold" font-style="normal" fill="#000" >B</text>
<text x="369.0" y="501.5" font-size="28" text-anchor="start" font-weight="bold" font-style="normal" fill="#000" >C</text>
<text x="617.6" y="501.5" font-size="28" text-anchor="start" font-weight="bold" font-style="normal" fill="#000" >D</text>
<text x="845.0" y="501.5" font-size="28" text-anchor="start" font-weight="bold" font-style="normal" fill="#000" >E</text>
<g transform="translate(202,1362.5) scale(0.9991,1)"><text id="xl_u" x="0" y="0" font-size="31" font-weight="bold" font-style="italic" fill="#111" stroke="#fff" stroke-width="0.7">u(ms<tspan font-size="21" dy="-12">-1</tspan><tspan dy="12">)</tspan></text></g>
<g transform="translate(429,1362.5) scale(1.0073,1)"><text id="xl_e" x="0" y="0" font-size="31" font-weight="bold" font-style="italic" fill="#111" stroke="#fff" stroke-width="0.7">ε(m<tspan font-size="21" dy="-12">2</tspan><tspan dy="12">s</tspan><tspan font-size="21" dy="-12">-3</tspan><tspan dy="12">)</tspan></text></g>
<g transform="translate(707.8,1362.5) scale(0.9064,1)"><text id="xl_c" x="0" y="0" font-size="31" font-weight="bold" font-style="italic" fill="#111" stroke="#fff" stroke-width="0.7">χ(s<tspan font-size="21" dy="-12">-1</tspan><tspan dy="12">)</tspan></text></g>
<g transform="translate(942,1362.5) scale(0.9637,1)"><text id="xl_k" x="0" y="0" font-size="31" font-weight="bold" font-style="italic" fill="#111" stroke="#fff" stroke-width="0.7">ks(m<tspan font-size="21" dy="-12">2</tspan><tspan dy="12">s</tspan><tspan font-size="21" dy="-12">-1</tspan><tspan dy="12">)</tspan></text></g>
<text x="0" y="0" font-size="34" font-weight="bold" fill="#111" text-anchor="middle" textLength="71" lengthAdjust="spacingAndGlyphs" transform="translate(81,875.5) rotate(-90)">Z(m)</text>
<defs><clipPath id="clB"><rect x="175" y="525" width="175" height="735"/></clipPath><clipPath id="clC"><rect x="420" y="520" width="165" height="740"/></clipPath><clipPath id="clD"><rect x="663" y="525" width="172" height="735"/></clipPath><clipPath id="clE"><rect x="908" y="525" width="172" height="735"/></clipPath></defs>
<polyline points="340.0,533.0 327.0,603.0 311.0,676.0 293.0,749.0 270.0,822.0 244.6,895.0 234.6,931.0 218.0,962.0 211.0,990.0 209.0,1007.0 212.0,1000.0 207.0,1041.0 199.0,1077.0 192.0,1114.0 186.0,1150.0 181.0,1186.0 179.0,1222.0 175.0,1257.0" fill="none" stroke="#0b72c0" stroke-width="5" stroke-linejoin="round" stroke-linecap="round" clip-path="url(#clB)"/>
<polyline points="341.0,532.0 328.0,603.0 310.0,676.0 291.0,749.0 267.0,822.0 239.0,895.0 232.0,931.0 223.0,968.0 214.0,1004.0 208.0,1041.0 200.0,1077.0 193.5,1114.0 189.0,1150.0 185.0,1186.0 185.0,1222.0 183.0,1258.0" fill="none" stroke="#da5018" stroke-width="5" stroke-linejoin="round" stroke-linecap="round" clip-path="url(#clB)"/>
<polyline points="344.5,533.0 330.0,603.0 314.0,676.0 297.6,749.0 276.8,822.0 254.5,895.0 241.7,931.0 227.5,968.0 215.0,1004.0 203.5,1041.0 196.0,1077.0 189.3,1114.0 183.6,1150.0 179.4,1186.0 181.0,1222.0 185.0,1258.0" fill="none" stroke="#eeb21c" stroke-width="5" stroke-linejoin="round" stroke-linecap="round" clip-path="url(#clB)"/>
<polyline points="420.0,612.0 433.0,616.0 420.0,620.0" fill="none" stroke="#0b72c0" stroke-width="10" stroke-linejoin="round" stroke-linecap="round" clip-path="url(#clC)"/>
<polyline points="420.0,643.0 429.0,646.0 420.0,650.0" fill="none" stroke="#0b72c0" stroke-width="10" stroke-linejoin="round" stroke-linecap="round" clip-path="url(#clC)"/>
<polyline points="420.0,657.0 444.0,667.0 420.0,678.0 447.0,689.0 420.0,696.0 443.0,705.0 432.0,711.0 461.0,719.0 428.0,725.0 462.0,734.0 433.0,743.0 468.0,749.0 440.0,755.0 420.0,765.0 445.0,785.0 450.0,792.0 425.0,800.0 455.0,806.0 425.0,820.0 441.0,836.0 425.0,845.0 444.0,866.0 425.0,873.0 467.0,896.0 430.0,905.0 445.0,930.0 425.0,950.0 467.0,984.0 421.0,995.0 455.0,1011.0 430.0,1020.0 448.0,1026.6 430.0,1033.0 458.5,1042.3 424.5,1049.0 430.0,1065.0 453.2,1078.9 421.0,1091.0 443.6,1100.7 421.0,1110.0 435.0,1130.0 422.0,1145.0 455.8,1158.0 422.0,1170.0 430.0,1200.0 422.0,1230.0 420.0,1250.0" fill="none" stroke="#0b72c0" stroke-width="10" stroke-linejoin="round" stroke-linecap="round" clip-path="url(#clC)"/>
<polyline points="418.0,710.0 425.0,718.0" fill="none" stroke="#da5018" stroke-width="10" stroke-linejoin="round" stroke-linecap="round" clip-path="url(#clC)"/>
<polyline points="420.0,728.0 425.0,735.0 483.0,763.0 420.0,770.0 455.0,778.0 425.0,790.0 440.0,800.0 425.0,810.0 456.0,822.0 420.0,830.0 440.0,853.0 422.0,860.0 440.0,880.0 420.0,888.0 447.0,909.8 421.0,917.0 438.4,924.6 421.0,931.0 439.3,938.6 421.0,946.0 436.7,955.2 421.0,961.0 434.0,967.4 421.0,975.0 430.0,985.0 456.7,998.7 421.0,1010.0 430.0,1020.0 452.4,1034.4 421.0,1045.0 425.0,1060.0 420.0,1080.0 430.0,1110.0 443.0,1123.0 420.0,1130.0 421.0,1160.0 432.0,1185.0 420.0,1200.0 421.0,1230.0 436.0,1250.0 420.0,1256.0" fill="none" stroke="#da5018" stroke-width="10" stroke-linejoin="round" stroke-linecap="round" clip-path="url(#clC)"/>
<polyline points="420.0,676.0 424.0,684.0" fill="none" stroke="#eeb21c" stroke-width="10" stroke-linejoin="round" stroke-linecap="round" clip-path="url(#clC)"/>
<polyline points="420.0,728.0 437.0,738.0 425.0,746.0 437.0,752.0 420.0,757.0 437.0,768.0 422.0,775.0 440.0,785.0 424.0,795.0 437.0,803.0 421.0,812.0 433.0,822.0 421.0,830.0 440.0,840.0 458.0,851.0 430.0,858.0 467.0,866.0 437.0,873.0 450.0,880.0 425.0,888.0 465.0,896.0 438.4,902.8 474.2,909.8 431.4,918.5 460.2,924.2 431.0,932.0 467.2,939.5 422.7,945.6 458.5,954.3 431.4,961.3 450.6,968.2 418.4,976.0 466.3,983.9 421.0,991.0 435.0,1000.0 422.0,1008.0 436.0,1020.0 422.0,1030.0 437.0,1040.0 424.0,1049.0 439.3,1057.0 420.0,1066.0 444.5,1079.0 420.0,1088.5 440.0,1100.7 425.0,1112.0 467.8,1130.0 422.0,1137.0 455.8,1145.4 422.0,1151.0 443.9,1158.9 422.0,1165.0 458.8,1174.8 425.0,1182.0 448.9,1188.7 442.0,1197.0 470.8,1203.7 424.0,1210.0 453.8,1218.6 421.0,1224.6 435.9,1234.6 422.0,1241.5 462.8,1249.5 458.0,1255.0" fill="none" stroke="#eeb21c" stroke-width="10" stroke-linejoin="round" stroke-linecap="round" clip-path="url(#clC)"/>
<polyline points="663.0,662.0 680.0,662.0" fill="none" stroke="#0b72c0" stroke-width="8.5" stroke-linejoin="round" stroke-linecap="round" clip-path="url(#clD)"/>
<polyline points="663.0,690.0 700.0,697.0 682.0,718.0 740.0,730.0 700.0,745.0 735.0,750.0 780.0,765.0 755.0,777.0 800.0,797.0 780.0,812.0 792.0,826.0 755.0,842.0 793.0,855.0 770.0,872.0 740.0,878.0 770.0,899.0 720.0,915.0 700.0,932.0 722.0,942.0 695.0,952.0 727.0,972.0 700.0,985.0 738.0,1001.0 680.0,1010.0 663.0,1020.0" fill="none" stroke="#0b72c0" stroke-width="8.5" stroke-linejoin="round" stroke-linecap="round" clip-path="url(#clD)"/>
<polyline points="663.0,1252.0 680.0,1255.0" fill="none" stroke="#0b72c0" stroke-width="8.5" stroke-linejoin="round" stroke-linecap="round" clip-path="url(#clD)"/>
<polyline points="663.0,614.0 765.5,621.7 735.0,628.6 737.0,635.0 761.6,643.3 752.4,650.3 755.5,658.0 788.7,665.7 755.5,671.0 777.0,679.6 814.0,694.3 743.0,701.3 781.0,709.0 754.0,716.7 769.0,724.5 741.5,729.0 809.6,738.4 763.0,744.6 791.0,753.0 735.0,772.4 797.0,797.0 760.0,805.0 780.0,812.0 745.0,830.0 780.0,845.0 770.0,858.0 768.0,872.0 742.0,877.0 730.0,890.0 685.0,905.0 725.0,912.0 690.0,920.0 720.0,928.0 740.0,957.0 665.0,975.0 700.0,985.0 668.0,1000.0 675.0,1015.0" fill="none" stroke="#da5018" stroke-width="8.5" stroke-linejoin="round" stroke-linecap="round" clip-path="url(#clD)"/>
<polyline points="663.0,1162.0 688.0,1162.0" fill="none" stroke="#da5018" stroke-width="8.5" stroke-linejoin="round" stroke-linecap="round" clip-path="url(#clD)"/>
<polyline points="663.0,1060.0 666.0,1060.0" fill="none" stroke="#da5018" stroke-width="8.5" stroke-linejoin="round" stroke-linecap="round" clip-path="url(#clD)"/>
<polyline points="663.0,653.0 725.0,664.0 733.0,672.0 776.0,680.0 773.0,688.0 680.0,700.0 740.0,708.0 695.0,725.0 770.0,740.0 752.0,758.0 705.0,770.0 755.0,782.0 730.0,790.0 770.0,797.0 715.0,805.0 760.0,812.0 725.0,820.0 785.0,826.0 715.0,840.0 740.0,855.0 710.0,862.0 750.0,870.0 720.0,878.0 755.0,885.0 688.0,893.0 768.0,900.0 700.0,908.0 755.0,915.0 690.0,925.0 720.0,932.0 678.0,937.0 700.0,950.0 685.0,960.0 720.0,972.0 665.0,985.0 680.0,1000.0 665.0,1015.0 668.0,1030.0" fill="none" stroke="#eeb21c" stroke-width="8.5" stroke-linejoin="round" stroke-linecap="round" clip-path="url(#clD)"/>
<polyline points="663.0,1053.0 718.0,1058.0 670.0,1066.0 718.0,1073.0 663.0,1080.0" fill="none" stroke="#eeb21c" stroke-width="8.5" stroke-linejoin="round" stroke-linecap="round" clip-path="url(#clD)"/>
<polyline points="664.0,1108.0 666.0,1112.0" fill="none" stroke="#eeb21c" stroke-width="8.5" stroke-linejoin="round" stroke-linecap="round" clip-path="url(#clD)"/>
<polyline points="663.0,1246.0 686.0,1249.0 680.0,1256.0" fill="none" stroke="#eeb21c" stroke-width="8.5" stroke-linejoin="round" stroke-linecap="round" clip-path="url(#clD)"/>
<polyline points="997.0,548.0 981.5,552.0 998.2,559.2 980.9,566.5 997.5,573.8 980.2,581.0 996.9,588.2 979.6,595.5 996.2,602.8 978.9,610.0 995.6,617.2 978.3,624.5 994.9,631.8 977.6,639.0 994.3,646.2 977.0,653.5 993.6,660.8 976.3,668.0 993.0,675.2 975.7,682.5 990.0,688.0 963.0,700.0 980.0,710.0 963.0,722.0 975.0,740.0 990.0,752.0 1005.0,757.0 1010.0,765.0 978.0,782.0 1010.0,790.0 978.0,797.0 1015.0,805.0 993.0,813.0 1012.0,820.0 993.0,827.0 1015.0,832.0 993.0,848.0 1045.0,862.0 1020.0,870.0 1030.0,875.0 1030.0,893.0 968.0,898.0 1030.0,905.0 1042.0,927.6 1059.0,942.0 1002.0,965.5 1030.0,975.0 985.0,986.0 1038.0,993.0 968.0,1015.0 1020.0,1020.0 1015.0,1045.0" fill="none" stroke="#0b72c0" stroke-width="8.5" stroke-linejoin="round" stroke-linecap="round" clip-path="url(#clE)"/>
<polyline points="1020.0,1088.0 1003.0,1097.0 1015.0,1100.0" fill="none" stroke="#0b72c0" stroke-width="8.5" stroke-linejoin="round" stroke-linecap="round" clip-path="url(#clE)"/>
<polyline points="1040.0,1120.0 1017.6,1140.0 1035.0,1153.0 980.0,1162.0 1065.0,1168.0 1030.0,1180.0 988.0,1191.0 1030.0,1201.0 1015.0,1210.0 972.0,1220.0 1040.0,1232.0 1025.0,1245.0 1053.0,1240.0 1010.0,1258.0" fill="none" stroke="#0b72c0" stroke-width="8.5" stroke-linejoin="round" stroke-linecap="round" clip-path="url(#clE)"/>
<polyline points="993.0,620.0 1018.0,628.0 995.0,636.0 1009.0,646.0 1022.0,650.0 1018.0,655.0 1035.0,662.0 1030.0,667.0 1048.0,675.0 1043.0,680.0 1060.0,688.0 1056.0,693.0 1076.0,701.0 1062.0,712.0 1045.5,719.0 1051.0,728.0 1033.0,739.0 1045.5,744.5 1018.0,752.0 1010.0,755.0 1025.0,765.0 1037.0,777.0 1016.0,785.0 1005.0,797.0 1040.0,803.0 1020.0,812.0 1025.0,822.0 1020.0,830.0 1010.0,845.0 1000.0,858.0 1045.0,863.0 1035.0,872.0 1060.0,882.0 1035.0,888.0 1070.0,895.0" fill="none" stroke="#da5018" stroke-width="8.5" stroke-linejoin="round" stroke-linecap="round" clip-path="url(#clE)"/>
<polyline points="1035.0,912.0 1040.0,915.0 1045.0,910.0" fill="none" stroke="#da5018" stroke-width="8.5" stroke-linejoin="round" stroke-linecap="round" clip-path="url(#clE)"/>
<polyline points="1020.0,928.0 980.0,935.0 1035.0,945.0 943.0,950.0 1025.0,958.0 908.0,968.0 1020.0,978.0 1030.0,1000.0 1042.0,1022.0 1010.0,1030.0 1040.0,1037.0 1015.0,1047.0" fill="none" stroke="#da5018" stroke-width="8.5" stroke-linejoin="round" stroke-linecap="round" clip-path="url(#clE)"/>
<polyline points="1015.0,1098.0 1040.0,1110.0 1076.0,1117.0 1030.0,1132.0 1070.0,1137.0 1050.0,1153.0" fill="none" stroke="#da5018" stroke-width="8.5" stroke-linejoin="round" stroke-linecap="round" clip-path="url(#clE)"/>
<polyline points="1055.0,1170.0 1075.0,1180.0 1068.0,1192.0 1076.0,1202.0 1030.0,1213.0 1076.0,1222.0 1058.0,1230.0 1076.0,1236.0 1045.0,1250.0 1076.0,1244.0 1070.0,1256.0" fill="none" stroke="#da5018" stroke-width="8.5" stroke-linejoin="round" stroke-linecap="round" clip-path="url(#clE)"/>
<polyline points="993.0,541.0 994.5,545.0 977.2,552.2 993.8,559.5 976.5,566.8 993.1,574.0 975.8,581.2 992.4,588.5 975.1,595.8 991.8,603.0 974.4,610.2 991.1,617.5 973.7,624.8 990.4,632.0 973.0,639.2 989.7,646.5 972.4,653.8 989.0,661.0 971.7,668.2 950.0,688.0 987.0,700.7 966.0,708.0 984.0,716.0 970.5,723.6 990.0,735.0 1010.0,750.0 1030.0,760.0 1062.0,770.0 1041.6,776.5 1061.3,783.0 1040.9,789.5 1060.6,796.0 1040.2,802.5 1051.0,813.0 1027.7,819.5 1048.4,826.0 1025.1,832.5 1034.0,839.0 1011.5,845.5 1033.0,852.0 1010.4,858.5 1021.0,870.0 995.0,876.5 1021.0,883.0 995.0,889.5 983.0,898.0 1036.0,904.0 1011.4,910.5 1034.7,917.0 1010.0,923.5 1033.4,930.0 1008.8,936.5 1032.1,943.0 1057.0,963.0 1006.0,970.0 1023.0,978.0 1015.0,990.0 925.0,1000.0 1045.0,1008.0 933.0,1030.0 1030.0,1040.0 1027.0,1052.0 943.0,1060.0" fill="none" stroke="#eeb21c" stroke-width="8.5" stroke-linejoin="round" stroke-linecap="round" clip-path="url(#clE)"/>
<polyline points="968.0,1087.0 990.0,1095.0 988.0,1103.0" fill="none" stroke="#eeb21c" stroke-width="8.5" stroke-linejoin="round" stroke-linecap="round" clip-path="url(#clE)"/>
<polyline points="1050.0,1125.0 1072.0,1137.0 915.0,1155.0" fill="none" stroke="#eeb21c" stroke-width="8.5" stroke-linejoin="round" stroke-linecap="round" clip-path="url(#clE)"/>
<polyline points="1040.0,1170.0 1065.0,1180.0 1030.0,1190.0 1065.0,1203.0 1045.0,1218.0 1055.0,1228.0 998.0,1249.0 1025.0,1257.0" fill="none" stroke="#eeb21c" stroke-width="8.5" stroke-linejoin="round" stroke-linecap="round" clip-path="url(#clE)"/>
<rect x="664.0" y="750.8" width="26.6" height="6" fill="#000"/>
<rect x="711.6" y="750.8" width="26.6" height="6" fill="#000"/>
<rect x="759.2" y="750.8" width="26.6" height="6" fill="#000"/>
<rect x="806.8" y="750.8" width="26.6" height="6" fill="#000"/>
<rect x="854.4" y="750.8" width="26.6" height="6" fill="#000"/>
<rect x="902.0" y="750.8" width="26.6" height="6" fill="#000"/>
<rect x="949.6" y="750.8" width="26.6" height="6" fill="#000"/>
<rect x="997.2" y="750.8" width="26.6" height="6" fill="#000"/>
<rect x="1044.8" y="750.8" width="26.6" height="6" fill="#000"/>
<text x="815.5" y="654.7" font-size="34" font-weight="bold" fill="#000" textLength="32" lengthAdjust="spacingAndGlyphs">Ri</text>
<text x="848" y="665.5" font-size="20" font-weight="bold" fill="#000">g</text>
<text x="862" y="654.7" font-size="34" font-weight="bold" fill="#000" textLength="89.5" lengthAdjust="spacingAndGlyphs">&gt;0.25</text>
</svg>
</body></html>
